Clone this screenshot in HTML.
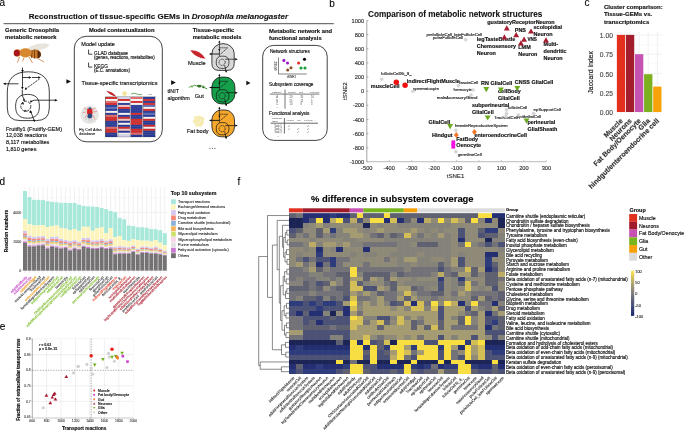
<!DOCTYPE html>
<html><head><meta charset="utf-8"><title>Figure</title>
<style>
html,body{margin:0;padding:0;background:#fff;}
body{width:685px;height:431px;overflow:hidden;}
svg{display:block;will-change:transform;font-family:"Liberation Sans", sans-serif;}
</style></head><body>
<svg width="685" height="431" viewBox="0 0 685 431">
<rect x="0" y="0" width="685" height="431" fill="#fff"/>
<text transform="translate(-0.40 5.60) scale(0.50000)" font-size="20.0" fill="#000" stroke="#000" stroke-width="0.180">a</text>
<text transform="translate(329.20 6.60) scale(0.50000)" font-size="20.0" fill="#000" stroke="#000" stroke-width="0.180">b</text>
<text x="28.8" y="18.7" font-size="8.03" font-weight="bold" fill="#111" stroke="#111" stroke-width="0.12">Reconstruction of tissue-specific GEMs in <tspan font-style="italic">Drosophila melanogaster</tspan></text>
<line x1="3.60" y1="23.70" x2="333.80" y2="23.70" stroke="#222" stroke-width="0.8"/>
<text transform="translate(5.10 32.20) scale(0.29250)" font-size="20.0" font-weight="bold" fill="#111" stroke="#111" stroke-width="0.513">Generic Drosophila</text>
<text transform="translate(5.10 38.80) scale(0.29250)" font-size="20.0" font-weight="bold" fill="#111" stroke="#111" stroke-width="0.513">metabolic network</text>
<g>
<ellipse cx="38.8" cy="47.0" rx="10.2" ry="2.7" transform="rotate(-11 38.8 47)" fill="#e9e4dc" stroke="#d6cfc4" stroke-width="0.3"/>
<path d="M17.5 62.5 L19.5 57 M29 57 L32.5 63 M37 58 L44 62 M24 57.5 L22.5 61.5" stroke="#c8762a" stroke-width="0.75" fill="none"/>
<ellipse cx="35.2" cy="54.0" rx="5.9" ry="4.4" fill="#c8782a"/>
<path d="M37.5 50 Q41.5 52 40.8 56 Q39.8 58.3 37.5 58.3 Z" fill="#5a2a10"/>
<path d="M32 50 L31.5 58 M34.5 49.6 L34.5 58.4" stroke="#6a3a12" stroke-width="0.8"/>
<ellipse cx="25.5" cy="52.8" rx="6.2" ry="4.6" fill="#d8882e"/>
<ellipse cx="17.3" cy="53.0" rx="3.6" ry="3.7" fill="#d8882e"/>
<ellipse cx="16.8" cy="53.0" rx="3.0" ry="3.2" fill="#a8161c"/>
</g>
<g fill="none" stroke="#111" stroke-width="0.8">
<path d="M7.3 92 L7.3 108 Q7.3 120.6 20 120.6 L36.5 120.6 Q49.3 120.6 49.3 108 L49.3 92 Q49.3 71.8 28.3 71.8 Q7.3 71.8 7.3 92 Z"/>
<path d="M27.6 94.4 C36 94.4 39.4 98.5 39.4 106.3 C39.4 114.5 35.5 118.2 27.6 118.2 C19.5 118.2 15.6 114.5 15.6 106.3 C15.6 98.5 19.5 94.4 27.6 94.4 Z"/>
<path d="M22.5 67.5 L22.5 88"/>
<path d="M22.5 77.5 L30.5 77.5 M32 77.5 L39.5 77.5"/>
<path d="M18.5 83.8 L4 83.8"/>
<path d="M39.5 79 L25.5 89" stroke-dasharray="2.2 0.8"/>
<path d="M22.3 89.5 L22.3 95.5 L24.3 100.2"/>
<path d="M31 101.5 L34 100.2 L56.5 100.2"/>
<path d="M34.5 121.5 L30.8 111.5"/>
<circle cx="25.8" cy="106.2" r="5.0" stroke-dasharray="3.2 1.0"/>
</g>
<g fill="#111">
<path d="M22.5 72.5 l-1.3 -2.6 l2.6 0 Z"/>
<path d="M31.5 77.5 l-2.6 -1.3 l0 2.6 Z"/>
<path d="M40.8 77.5 l-2.6 -1.3 l0 2.6 Z"/>
<path d="M3.0 83.8 l2.7 -1.3 l0 2.6 Z"/>
<path d="M24.8 90 l0.6 -2.7 l1.8 1.8 Z"/>
<path d="M22.4 89.5 l-1.3 -2.6 l2.6 0 Z"/>
<path d="M57.6 100.2 l-2.7 -1.3 l0 2.6 Z"/>
<path d="M24.8 101.2 l-2.2 -1.0 l1.9 -1.6 Z"/>
<path d="M29.9 102.6 l0.8 -2.5 l1.8 1.9 Z"/>
<path d="M21.4 103.0 l2.5 -0.6 l-0.5 2.6 Z"/>
<path d="M24.0 111.8 l1.0 -2.4 l1.6 2.0 Z"/>
<path d="M30.6 110.2 l-1.6 2.1 l2.6 0.4 Z"/>
<path d="M30.3 110.6 l-0.5 2.5 l2.4 -0.9 Z"/>
<path d="M34.8 121.8 l-2.1 -1.5 l2.4 -0.9 Z"/>
</g>
<text transform="translate(5.90 130.80) scale(0.27750)" font-size="20.0" fill="#111" stroke="#111" stroke-width="0.541">Fruitfly1 (Fruitfly-GEM)</text>
<text transform="translate(5.90 137.30) scale(0.27750)" font-size="20.0" fill="#111" stroke="#111" stroke-width="0.541">12,038 reactions</text>
<text transform="translate(5.90 143.90) scale(0.27750)" font-size="20.0" fill="#111" stroke="#111" stroke-width="0.541">8,117 metabolites</text>
<text transform="translate(5.90 150.50) scale(0.27750)" font-size="20.0" fill="#111" stroke="#111" stroke-width="0.541">1,810 genes</text>
<path d="M66.4 79.2 L71 81.5 L66.4 83.8 Z" fill="#111"/>
<text transform="translate(88.90 31.80) scale(0.28950)" font-size="20.0" font-weight="bold" fill="#111" stroke="#111" stroke-width="0.518">Model contextualization</text>
<rect x="74.3" y="36.3" width="88" height="105.5" rx="12" ry="12" fill="none" stroke="#111" stroke-width="0.8"/>
<text transform="translate(81.30 45.80) scale(0.27800)" font-size="20.0" fill="#111" stroke="#111" stroke-width="0.540">Model update</text>
<path d="M88.6 49.6 L88.6 54.2 L92.3 54.2" fill="none" stroke="#111" stroke-width="0.8"/>
<text transform="translate(94.10 54.80) scale(0.23750)" font-size="20.0" fill="#111" stroke="#111" stroke-width="0.632">GLAD database</text>
<text transform="translate(94.10 58.60) scale(0.22250)" font-size="20.0" fill="#111" stroke="#111" stroke-width="0.674">(genes, reactions, metabolites)</text>
<path d="M88.6 62.6 L88.6 67.1 L92.3 67.1" fill="none" stroke="#111" stroke-width="0.8"/>
<text transform="translate(94.10 67.50) scale(0.23750)" font-size="20.0" fill="#111" stroke="#111" stroke-width="0.632">KEGG</text>
<text transform="translate(94.10 71.60) scale(0.22250)" font-size="20.0" fill="#111" stroke="#111" stroke-width="0.674">(E.C. annotations)</text>
<text transform="translate(81.50 84.60) scale(0.28000)" font-size="20.0" fill="#111" stroke="#111" stroke-width="0.536">Tissue-specific transcriptomics</text>
<path d="M106.2 90.8 Q112.5 91.5 116.2 96.6 Q110 95.2 106.2 90.8 Z" fill="#c8202a"/>
<circle cx="124.6" cy="93.6" r="2.4" fill="#f4e39a"/>
<path d="M131 94 Q134 92.5 137 94 Q139 95 142 94.5" fill="none" stroke="#3a8a2a" stroke-width="0.7"/>
<text transform="translate(148.50 94.80) scale(0.20000)" font-size="20.0" fill="#333" stroke="#333" stroke-width="0.750">...</text>
<rect x="105.20" y="96.70" width="50.70" height="40.40" fill="#333"/>
<rect x="105.60" y="97.00" width="11.77" height="2.01" fill="#d22a2a"/>
<rect x="105.60" y="98.99" width="11.77" height="2.01" fill="#f6f2f2"/>
<rect x="105.60" y="100.98" width="11.77" height="2.01" fill="#e06868"/>
<rect x="105.60" y="102.97" width="11.77" height="2.01" fill="#d22a2a"/>
<rect x="105.60" y="104.96" width="11.77" height="2.01" fill="#283a98"/>
<rect x="105.60" y="106.95" width="11.77" height="2.01" fill="#5a6cb8"/>
<rect x="105.60" y="108.94" width="11.77" height="2.01" fill="#283a98"/>
<rect x="105.60" y="110.93" width="11.77" height="2.01" fill="#f6f2f2"/>
<rect x="105.60" y="112.92" width="11.77" height="2.01" fill="#283a98"/>
<rect x="105.60" y="114.91" width="11.77" height="2.01" fill="#e06868"/>
<rect x="105.60" y="116.90" width="11.77" height="2.01" fill="#d22a2a"/>
<rect x="105.60" y="118.89" width="11.77" height="2.01" fill="#d22a2a"/>
<rect x="105.60" y="120.88" width="11.77" height="2.01" fill="#283a98"/>
<rect x="105.60" y="122.87" width="11.77" height="2.01" fill="#283a98"/>
<rect x="105.60" y="124.86" width="11.77" height="2.01" fill="#283a98"/>
<rect x="105.60" y="126.85" width="11.77" height="2.01" fill="#e06868"/>
<rect x="105.60" y="128.84" width="11.77" height="2.01" fill="#d22a2a"/>
<rect x="105.60" y="130.83" width="11.77" height="2.01" fill="#d22a2a"/>
<rect x="105.60" y="132.82" width="11.77" height="2.01" fill="#283a98"/>
<rect x="105.60" y="134.81" width="11.77" height="2.01" fill="#283a98"/>
<rect x="117.38" y="97.00" width="0.70" height="39.80" fill="#ffffff"/>
<rect x="118.17" y="97.00" width="11.77" height="2.01" fill="#d0d4ec"/>
<rect x="118.17" y="98.99" width="11.77" height="2.01" fill="#d22a2a"/>
<rect x="118.17" y="100.98" width="11.77" height="2.01" fill="#f6f2f2"/>
<rect x="118.17" y="102.97" width="11.77" height="2.01" fill="#283a98"/>
<rect x="118.17" y="104.96" width="11.77" height="2.01" fill="#f0c4c4"/>
<rect x="118.17" y="106.95" width="11.77" height="2.01" fill="#d22a2a"/>
<rect x="118.17" y="108.94" width="11.77" height="2.01" fill="#283a98"/>
<rect x="118.17" y="110.93" width="11.77" height="2.01" fill="#283a98"/>
<rect x="118.17" y="112.92" width="11.77" height="2.01" fill="#f6f2f2"/>
<rect x="118.17" y="114.91" width="11.77" height="2.01" fill="#283a98"/>
<rect x="118.17" y="116.90" width="11.77" height="2.01" fill="#d22a2a"/>
<rect x="118.17" y="118.89" width="11.77" height="2.01" fill="#f0c4c4"/>
<rect x="118.17" y="120.88" width="11.77" height="2.01" fill="#283a98"/>
<rect x="118.17" y="122.87" width="11.77" height="2.01" fill="#f6f2f2"/>
<rect x="118.17" y="124.86" width="11.77" height="2.01" fill="#283a98"/>
<rect x="118.17" y="126.85" width="11.77" height="2.01" fill="#d22a2a"/>
<rect x="118.17" y="128.84" width="11.77" height="2.01" fill="#f0c4c4"/>
<rect x="118.17" y="130.83" width="11.77" height="2.01" fill="#283a98"/>
<rect x="118.17" y="132.82" width="11.77" height="2.01" fill="#f6f2f2"/>
<rect x="118.17" y="134.81" width="11.77" height="2.01" fill="#d0d4ec"/>
<rect x="129.95" y="97.00" width="0.70" height="39.80" fill="#ffffff"/>
<rect x="130.75" y="97.00" width="11.77" height="2.01" fill="#e06868"/>
<rect x="130.75" y="98.99" width="11.77" height="2.01" fill="#f6f2f2"/>
<rect x="130.75" y="100.98" width="11.77" height="2.01" fill="#d22a2a"/>
<rect x="130.75" y="102.97" width="11.77" height="2.01" fill="#f6f2f2"/>
<rect x="130.75" y="104.96" width="11.77" height="2.01" fill="#283a98"/>
<rect x="130.75" y="106.95" width="11.77" height="2.01" fill="#283a98"/>
<rect x="130.75" y="108.94" width="11.77" height="2.01" fill="#283a98"/>
<rect x="130.75" y="110.93" width="11.77" height="2.01" fill="#283a98"/>
<rect x="130.75" y="112.92" width="11.77" height="2.01" fill="#d22a2a"/>
<rect x="130.75" y="114.91" width="11.77" height="2.01" fill="#283a98"/>
<rect x="130.75" y="116.90" width="11.77" height="2.01" fill="#283a98"/>
<rect x="130.75" y="118.89" width="11.77" height="2.01" fill="#d22a2a"/>
<rect x="130.75" y="120.88" width="11.77" height="2.01" fill="#d22a2a"/>
<rect x="130.75" y="122.87" width="11.77" height="2.01" fill="#d22a2a"/>
<rect x="130.75" y="124.86" width="11.77" height="2.01" fill="#283a98"/>
<rect x="130.75" y="126.85" width="11.77" height="2.01" fill="#283a98"/>
<rect x="130.75" y="128.84" width="11.77" height="2.01" fill="#d22a2a"/>
<rect x="130.75" y="130.83" width="11.77" height="2.01" fill="#d22a2a"/>
<rect x="130.75" y="132.82" width="11.77" height="2.01" fill="#e06868"/>
<rect x="130.75" y="134.81" width="11.77" height="2.01" fill="#283a98"/>
<rect x="142.53" y="97.00" width="0.70" height="39.80" fill="#ffffff"/>
<rect x="143.32" y="97.00" width="11.77" height="2.01" fill="#283a98"/>
<rect x="143.32" y="98.99" width="11.77" height="2.01" fill="#d22a2a"/>
<rect x="143.32" y="100.98" width="11.77" height="2.01" fill="#283a98"/>
<rect x="143.32" y="102.97" width="11.77" height="2.01" fill="#d22a2a"/>
<rect x="143.32" y="104.96" width="11.77" height="2.01" fill="#5a6cb8"/>
<rect x="143.32" y="106.95" width="11.77" height="2.01" fill="#f6f2f2"/>
<rect x="143.32" y="108.94" width="11.77" height="2.01" fill="#d22a2a"/>
<rect x="143.32" y="110.93" width="11.77" height="2.01" fill="#283a98"/>
<rect x="143.32" y="112.92" width="11.77" height="2.01" fill="#5a6cb8"/>
<rect x="143.32" y="114.91" width="11.77" height="2.01" fill="#283a98"/>
<rect x="143.32" y="116.90" width="11.77" height="2.01" fill="#f6f2f2"/>
<rect x="143.32" y="118.89" width="11.77" height="2.01" fill="#d22a2a"/>
<rect x="143.32" y="120.88" width="11.77" height="2.01" fill="#283a98"/>
<rect x="143.32" y="122.87" width="11.77" height="2.01" fill="#283a98"/>
<rect x="143.32" y="124.86" width="11.77" height="2.01" fill="#d22a2a"/>
<rect x="143.32" y="126.85" width="11.77" height="2.01" fill="#f6f2f2"/>
<rect x="143.32" y="128.84" width="11.77" height="2.01" fill="#d22a2a"/>
<rect x="143.32" y="130.83" width="11.77" height="2.01" fill="#283a98"/>
<rect x="143.32" y="132.82" width="11.77" height="2.01" fill="#283a98"/>
<rect x="143.32" y="134.81" width="11.77" height="2.01" fill="#283a98"/>
<rect x="155.10" y="97.00" width="0.70" height="39.80" fill="#ffffff"/>
<rect x="105.50" y="98.84" width="50.30" height="0.30" fill="#ffffff" fill-opacity="0.35"/>
<rect x="105.50" y="100.83" width="50.30" height="0.30" fill="#ffffff" fill-opacity="0.35"/>
<rect x="105.50" y="102.82" width="50.30" height="0.30" fill="#ffffff" fill-opacity="0.35"/>
<rect x="105.50" y="104.81" width="50.30" height="0.30" fill="#ffffff" fill-opacity="0.35"/>
<rect x="105.50" y="106.80" width="50.30" height="0.30" fill="#ffffff" fill-opacity="0.35"/>
<rect x="105.50" y="108.79" width="50.30" height="0.30" fill="#ffffff" fill-opacity="0.35"/>
<rect x="105.50" y="110.78" width="50.30" height="0.30" fill="#ffffff" fill-opacity="0.35"/>
<rect x="105.50" y="112.77" width="50.30" height="0.30" fill="#ffffff" fill-opacity="0.35"/>
<rect x="105.50" y="114.76" width="50.30" height="0.30" fill="#ffffff" fill-opacity="0.35"/>
<rect x="105.50" y="116.75" width="50.30" height="0.30" fill="#ffffff" fill-opacity="0.35"/>
<rect x="105.50" y="118.74" width="50.30" height="0.30" fill="#ffffff" fill-opacity="0.35"/>
<rect x="105.50" y="120.73" width="50.30" height="0.30" fill="#ffffff" fill-opacity="0.35"/>
<rect x="105.50" y="122.72" width="50.30" height="0.30" fill="#ffffff" fill-opacity="0.35"/>
<rect x="105.50" y="124.71" width="50.30" height="0.30" fill="#ffffff" fill-opacity="0.35"/>
<rect x="105.50" y="126.70" width="50.30" height="0.30" fill="#ffffff" fill-opacity="0.35"/>
<rect x="105.50" y="128.69" width="50.30" height="0.30" fill="#ffffff" fill-opacity="0.35"/>
<rect x="105.50" y="130.68" width="50.30" height="0.30" fill="#ffffff" fill-opacity="0.35"/>
<rect x="105.50" y="132.67" width="50.30" height="0.30" fill="#ffffff" fill-opacity="0.35"/>
<rect x="105.50" y="134.66" width="50.30" height="0.30" fill="#ffffff" fill-opacity="0.35"/>
<circle cx="89.6" cy="114.7" r="9.2" fill="#e6e6e2"/>
<g>
<path d="M86.5 109.5 L84 108 M93 109.5 L95.5 108 M86.3 112 L82.5 112.5 M93 112 L97 111.5 M87 114.5 L85 118 M92.5 114.5 L95 119.5" stroke="#d84040" stroke-width="0.45" fill="none"/>
<path d="M88.5 116 L85.2 120.2 M90.8 116 L92 121.5 M88 117 L89.5 121.5" stroke="#9aa0b0" stroke-width="0.5" fill="none"/>
<path d="M87.2 108.6 L92.3 108.6 L92.6 114 L87 114 Z" fill="#d42424"/>
<ellipse cx="89.9" cy="116.0" rx="2.5" ry="2.4" fill="#2c4a80"/>
<ellipse cx="89.9" cy="108.3" rx="1.4" ry="1.0" fill="#2c5a90"/>
</g>
<text transform="translate(79.00 130.50) scale(0.19750)" font-size="20.0" fill="#111" stroke="#111" stroke-width="0.342">Fly Cell Atlas</text>
<text transform="translate(79.00 135.00) scale(0.19750)" font-size="20.0" fill="#111" stroke="#111" stroke-width="0.342">database</text>
<path d="M171.1 80.3 L175.8 82.6 L171.1 84.9 Z" fill="#111"/>
<text transform="translate(167.40 92.60) scale(0.26500)" font-size="20.0" fill="#111" stroke="#111" stroke-width="0.566">tINIT</text>
<text transform="translate(167.40 99.70) scale(0.27250)" font-size="20.0" fill="#111" stroke="#111" stroke-width="0.550">algorithm</text>
<text transform="translate(192.70 32.00) scale(0.28900)" font-size="20.0" font-weight="bold" fill="#111" stroke="#111" stroke-width="0.519">Tissue-specific</text>
<text transform="translate(192.70 38.90) scale(0.28900)" font-size="20.0" font-weight="bold" fill="#111" stroke="#111" stroke-width="0.519">metabolic models</text>
<path d="M211.9 53.6 A11.15 10 0 0 1 234.20000000000002 53.6 L234.20000000000002 63.400000000000006 Q234.20000000000002 70.4 227.20000000000002 70.4 L218.9 70.4 Q211.9 70.4 211.9 63.400000000000006 Z" fill="#d9d9d9" stroke="#111" stroke-width="0.8"/>
<g fill="none" stroke="#111" stroke-width="0.7">
<rect x="216.30" y="56.20" width="12.60" height="12.20" rx="5" ry="5"/>
<circle cx="222.10" cy="62.30" r="3.1" stroke-dasharray="1.6 0.6"/>
<path d="M219.40 41.10 L219.40 56.20"/>
<path d="M219.40 47.80 L227.70 47.80 L220.10 54.40" stroke-dasharray="1.5 0.5"/>
<path d="M209.70 54.00 L219.40 54.00" stroke-width="0.9"/>
<path d="M225.10 59.20 L236.40 59.20"/>
<path d="M224.70 65.10 L226.10 72.20"/>
</g>
<path d="M237.70 59.20 l-2.4 -1.2 l0 2.4 Z" fill="#111"/>
<path d="M219.40 40.40 l-1.1 2.2 l2.2 0 Z M219.40 51.20 l-1.1 -2.2 l2.2 0 Z M209.30 54.00 l2.2 -1.1 l0 2.2 Z M226.20 72.70 l-1.2 -2.1 l2.2 -0.2 Z" fill="#111"/>
<rect x="211.9" y="77.1" width="23.0" height="26.8" rx="9.5" ry="10" fill="#17a04c" stroke="#111" stroke-width="0.8"/>
<g fill="none" stroke="#111" stroke-width="0.7">
<rect x="216.30" y="89.70" width="12.60" height="12.20" rx="5" ry="5"/>
<circle cx="222.10" cy="95.80" r="3.1" stroke-dasharray="1.6 0.6"/>
<path d="M219.40 74.60 L219.40 89.70"/>
<path d="M219.40 81.30 L227.70 81.30 L220.10 87.90" stroke-dasharray="1.5 0.5"/>
<path d="M209.70 87.50 L219.40 87.50" stroke-width="0.9"/>
<path d="M225.10 92.70 L236.40 92.70"/>
<path d="M224.70 98.60 L226.10 105.70"/>
</g>
<path d="M237.70 92.70 l-2.4 -1.2 l0 2.4 Z" fill="#111"/>
<path d="M219.40 73.90 l-1.1 2.2 l2.2 0 Z M219.40 84.70 l-1.1 -2.2 l2.2 0 Z M209.30 87.50 l2.2 -1.1 l0 2.2 Z M226.20 106.20 l-1.2 -2.1 l2.2 -0.2 Z" fill="#111"/>
<rect x="211.9" y="110.0" width="22.6" height="26.8" rx="9.5" ry="10" fill="#f6a82c" stroke="#111" stroke-width="0.8"/>
<g fill="none" stroke="#111" stroke-width="0.7">
<rect x="216.30" y="122.60" width="12.60" height="12.20" rx="5" ry="5"/>
<circle cx="222.10" cy="128.70" r="3.1" stroke-dasharray="1.6 0.6"/>
<path d="M219.40 107.50 L219.40 122.60"/>
<path d="M219.40 114.20 L227.70 114.20 L220.10 120.80" stroke-dasharray="1.5 0.5"/>
<path d="M209.70 120.40 L219.40 120.40" stroke-width="0.9"/>
<path d="M225.10 125.60 L236.40 125.60"/>
<path d="M224.70 131.50 L226.10 138.60"/>
</g>
<path d="M237.70 125.60 l-2.4 -1.2 l0 2.4 Z" fill="#111"/>
<path d="M219.40 106.80 l-1.1 2.2 l2.2 0 Z M219.40 117.60 l-1.1 -2.2 l2.2 0 Z M209.30 120.40 l2.2 -1.1 l0 2.2 Z M226.20 139.10 l-1.2 -2.1 l2.2 -0.2 Z" fill="#111"/>
<path d="M190.4 50.4 Q199.5 49.8 205.6 58.8 Q195.5 57.8 190.4 50.4 Z" fill="#c8262c"/>
<text transform="translate(187.90 65.00) scale(0.28000)" font-size="20.0" fill="#111" stroke="#111" stroke-width="0.536">Muscle</text>
<path d="M189 87.8 Q190.5 85.2 192.5 86.2 Q194.5 84.3 196.5 85.8 Q198.5 84.6 200 85.6 Q201.5 84.8 203 86.6 Q205 88.5 207.3 88.8" fill="none" stroke="#3f8f2c" stroke-width="0.9"/>
<path d="M191 86.6 Q192 88 193.2 86.8 M203 86.5 Q204 85 205.2 86.8" fill="none" stroke="#3f8f2c" stroke-width="0.6"/>
<ellipse cx="199.3" cy="86.2" rx="1.9" ry="1.3" fill="#2f6a24"/><ellipse cx="203.3" cy="87.3" rx="1.1" ry="0.9" fill="#2f6a24"/>
<text transform="translate(194.70 97.50) scale(0.28000)" font-size="20.0" fill="#111" stroke="#111" stroke-width="0.536">Gut</text>
<g fill="#f8eeb0" stroke="#e8d890" stroke-width="0.3">
<circle cx="196" cy="118" r="1.8"/><circle cx="199.5" cy="117.5" r="1.8"/><circle cx="202.5" cy="119" r="1.8"/>
<circle cx="195" cy="121.5" r="1.8"/><circle cx="198.5" cy="121" r="1.8"/><circle cx="202" cy="122.5" r="1.8"/>
<circle cx="197" cy="124.8" r="1.8"/><circle cx="200.5" cy="124.8" r="1.8"/>
</g>
<text transform="translate(186.90 133.00) scale(0.27900)" font-size="20.0" fill="#111" stroke="#111" stroke-width="0.538">Fat body</text>
<g fill="#222"><circle cx="209.9" cy="148.2" r="0.55"/><circle cx="212.4" cy="148.2" r="0.55"/><circle cx="214.9" cy="148.2" r="0.55"/></g>
<path d="M246.3 80.8 L250.5 83 L246.3 85.2 Z" fill="#111"/>
<text transform="translate(269.10 32.80) scale(0.29250)" font-size="20.0" font-weight="bold" fill="#111" stroke="#111" stroke-width="0.513">Metabolic network and</text>
<text transform="translate(269.10 39.80) scale(0.29250)" font-size="20.0" font-weight="bold" fill="#111" stroke="#111" stroke-width="0.513">functional analysis</text>
<rect x="262.7" y="45.4" width="64.5" height="95.0" rx="11" ry="11" fill="none" stroke="#111" stroke-width="0.8"/>
<text transform="translate(269.90 53.40) scale(0.24000)" font-size="20.0" fill="#111" stroke="#111" stroke-width="0.625">Network structures</text>
<path d="M278.5 57.4 L278.5 74 L306.8 74" fill="none" stroke="#333" stroke-width="0.6"/>
<text transform="translate(276.60 66.00) rotate(-90) scale(0.16000)" font-size="20.0" text-anchor="middle" fill="#333" stroke="#333" stroke-width="0.422">tSNE2</text>
<text transform="translate(291.50 77.60) scale(0.16000)" font-size="20.0" text-anchor="middle" fill="#333" stroke="#333" stroke-width="0.422">tSNE1</text>
<circle cx="283.9" cy="60.4" r="1.55" fill="#9a1cc8"/>
<circle cx="287.5" cy="63.0" r="1.55" fill="#9a1cc8"/>
<circle cx="287.7" cy="70.0" r="1.55" fill="#8a5028"/>
<circle cx="291.0" cy="67.8" r="1.55" fill="#8a5028"/>
<circle cx="298.6" cy="63.0" r="1.55" fill="#e83020"/>
<circle cx="304.5" cy="59.3" r="1.55" fill="#000"/>
<circle cx="301.0" cy="68.0" r="1.55" fill="#18a038"/>
<circle cx="305.0" cy="68.0" r="1.55" fill="#18a038"/>
<text transform="translate(269.00 86.00) scale(0.23900)" font-size="20.0" fill="#111" stroke="#111" stroke-width="0.628">Subsystem coverage</text>
<text transform="translate(272.00 92.50) scale(0.12500)" font-size="20.0" fill="#444">Pathway</text>
<text transform="translate(288.00 92.50) scale(0.12500)" font-size="20.0" fill="#444">Muscle</text>
<text transform="translate(299.00 92.50) scale(0.12500)" font-size="20.0" fill="#444">Gut</text>
<text transform="translate(310.00 92.50) scale(0.12500)" font-size="20.0" fill="#444">Fat body</text>
<line x1="269.80" y1="94.10" x2="319.30" y2="94.10" stroke="#777" stroke-width="1.0"/>
<line x1="285.00" y1="89.50" x2="285.00" y2="108.60" stroke="#777" stroke-width="1.0"/>
<text transform="translate(276.30 98.40) scale(0.13000)" font-size="20.0" fill="#444">A</text>
<text transform="translate(289.60 98.40) scale(0.13000)" font-size="20.0" fill="#444">20</text>
<text transform="translate(300.40 98.40) scale(0.13000)" font-size="20.0" fill="#444">20</text>
<text transform="translate(311.00 98.40) scale(0.13000)" font-size="20.0" fill="#444">10</text>
<text transform="translate(276.30 101.70) scale(0.13000)" font-size="20.0" fill="#444">B</text>
<text transform="translate(289.60 101.70) scale(0.13000)" font-size="20.0" fill="#444">25</text>
<text transform="translate(300.40 101.70) scale(0.13000)" font-size="20.0" fill="#444">12</text>
<text transform="translate(311.00 101.70) scale(0.13000)" font-size="20.0" fill="#444">5</text>
<text transform="translate(276.30 105.00) scale(0.13000)" font-size="20.0" fill="#444">C</text>
<text transform="translate(289.60 105.00) scale(0.13000)" font-size="20.0" fill="#444">10</text>
<text transform="translate(300.40 105.00) scale(0.13000)" font-size="20.0" fill="#444">8</text>
<text transform="translate(311.00 105.00) scale(0.13000)" font-size="20.0" fill="#444">3</text>
<text transform="translate(276.30 108.00) scale(0.13000)" font-size="20.0" fill="#444">...</text>
<text transform="translate(269.00 114.70) scale(0.23750)" font-size="20.0" fill="#111" stroke="#111" stroke-width="0.632">Functional analysis</text>
<text transform="translate(272.00 118.60) scale(0.12000)" font-size="20.0" fill="#444">Metabolic</text>
<text transform="translate(272.00 121.60) scale(0.12000)" font-size="20.0" fill="#444">tasks</text>
<text transform="translate(286.50 120.80) scale(0.12000)" font-size="20.0" fill="#555">Muscle</text>
<text transform="translate(297.00 120.80) scale(0.12000)" font-size="20.0" fill="#555">Gut</text>
<text transform="translate(304.00 120.80) scale(0.12000)" font-size="20.0" fill="#555">Fat body</text>
<text transform="translate(314.50 120.80) scale(0.12000)" font-size="20.0" fill="#555">...</text>
<line x1="270.70" y1="123.20" x2="318.00" y2="123.20" stroke="#666" stroke-width="1.0"/>
<line x1="284.40" y1="118.10" x2="284.40" y2="133.50" stroke="#444" stroke-width="0.8"/>
<text transform="translate(274.20 126.60) scale(0.13000)" font-size="20.0" fill="#333">Task 1</text>
<text transform="translate(274.20 130.00) scale(0.13000)" font-size="20.0" fill="#333">Task 2</text>
<text transform="translate(274.20 133.40) scale(0.13000)" font-size="20.0" fill="#333">Task 3</text>
<text transform="translate(288.00 126.60) scale(0.15000)" font-size="20.0" fill="#222">✓</text>
<text transform="translate(306.50 126.60) scale(0.15000)" font-size="20.0" fill="#222">✓</text>
<text transform="translate(288.00 130.00) scale(0.15000)" font-size="20.0" fill="#222">✓</text>
<text transform="translate(297.00 130.00) scale(0.15000)" font-size="20.0" fill="#222">✓</text>
<text transform="translate(306.50 130.00) scale(0.15000)" font-size="20.0" fill="#222">✓</text>
<text transform="translate(297.00 133.40) scale(0.15000)" font-size="20.0" fill="#222">✓</text>
<text transform="translate(306.50 133.40) scale(0.15000)" font-size="20.0" fill="#222">✓</text>
<text transform="translate(277.00 137.00) scale(0.13000)" font-size="20.0" fill="#444">...</text>
<text transform="translate(368.10 17.00) scale(0.41000)" font-size="20.0" font-weight="bold" fill="#111" stroke="#111" stroke-width="0.220">Comparison of metabolic network structures</text>
<line x1="366.80" y1="20.50" x2="366.80" y2="162.00" stroke="#666" stroke-width="0.6"/>
<line x1="366.80" y1="20.50" x2="368.40" y2="20.50" stroke="#666" stroke-width="0.5"/>
<text transform="translate(364.20 22.50) scale(0.28500)" font-size="20.0" text-anchor="end" fill="#333" stroke="#333" stroke-width="0.526">1000</text>
<line x1="366.80" y1="34.65" x2="368.40" y2="34.65" stroke="#666" stroke-width="0.5"/>
<text transform="translate(364.20 36.65) scale(0.28500)" font-size="20.0" text-anchor="end" fill="#333" stroke="#333" stroke-width="0.526">800</text>
<line x1="366.80" y1="48.80" x2="368.40" y2="48.80" stroke="#666" stroke-width="0.5"/>
<text transform="translate(364.20 50.80) scale(0.28500)" font-size="20.0" text-anchor="end" fill="#333" stroke="#333" stroke-width="0.526">600</text>
<line x1="366.80" y1="62.95" x2="368.40" y2="62.95" stroke="#666" stroke-width="0.5"/>
<text transform="translate(364.20 64.95) scale(0.28500)" font-size="20.0" text-anchor="end" fill="#333" stroke="#333" stroke-width="0.526">400</text>
<line x1="366.80" y1="77.10" x2="368.40" y2="77.10" stroke="#666" stroke-width="0.5"/>
<text transform="translate(364.20 79.10) scale(0.28500)" font-size="20.0" text-anchor="end" fill="#333" stroke="#333" stroke-width="0.526">200</text>
<line x1="366.80" y1="91.25" x2="368.40" y2="91.25" stroke="#666" stroke-width="0.5"/>
<text transform="translate(364.20 93.25) scale(0.28500)" font-size="20.0" text-anchor="end" fill="#333" stroke="#333" stroke-width="0.526">0</text>
<line x1="366.80" y1="105.40" x2="368.40" y2="105.40" stroke="#666" stroke-width="0.5"/>
<text transform="translate(364.20 107.40) scale(0.28500)" font-size="20.0" text-anchor="end" fill="#333" stroke="#333" stroke-width="0.526">-200</text>
<line x1="366.80" y1="119.55" x2="368.40" y2="119.55" stroke="#666" stroke-width="0.5"/>
<text transform="translate(364.20 121.55) scale(0.28500)" font-size="20.0" text-anchor="end" fill="#333" stroke="#333" stroke-width="0.526">-400</text>
<line x1="366.80" y1="133.70" x2="368.40" y2="133.70" stroke="#666" stroke-width="0.5"/>
<text transform="translate(364.20 135.70) scale(0.28500)" font-size="20.0" text-anchor="end" fill="#333" stroke="#333" stroke-width="0.526">-600</text>
<line x1="366.80" y1="147.85" x2="368.40" y2="147.85" stroke="#666" stroke-width="0.5"/>
<text transform="translate(364.20 149.85) scale(0.28500)" font-size="20.0" text-anchor="end" fill="#333" stroke="#333" stroke-width="0.526">-800</text>
<line x1="366.80" y1="162.00" x2="368.40" y2="162.00" stroke="#666" stroke-width="0.5"/>
<text transform="translate(364.20 164.00) scale(0.28500)" font-size="20.0" text-anchor="end" fill="#333" stroke="#333" stroke-width="0.526">-1000</text>
<text transform="translate(347.30 91.20) rotate(-90) scale(0.30500)" font-size="20.0" text-anchor="middle" fill="#333" stroke="#333" stroke-width="0.492">tSNE2</text>
<line x1="366.80" y1="161.60" x2="546.40" y2="161.60" stroke="#c8c8c8" stroke-width="1.1"/>
<line x1="366.80" y1="160.00" x2="366.80" y2="161.30" stroke="#999" stroke-width="0.5"/>
<text transform="translate(366.80 169.80) scale(0.28500)" font-size="20.0" text-anchor="middle" fill="#333" stroke="#333" stroke-width="0.526">-500</text>
<line x1="389.25" y1="160.00" x2="389.25" y2="161.30" stroke="#999" stroke-width="0.5"/>
<text transform="translate(389.25 169.80) scale(0.28500)" font-size="20.0" text-anchor="middle" fill="#333" stroke="#333" stroke-width="0.526">-400</text>
<line x1="411.70" y1="160.00" x2="411.70" y2="161.30" stroke="#999" stroke-width="0.5"/>
<text transform="translate(411.70 169.80) scale(0.28500)" font-size="20.0" text-anchor="middle" fill="#333" stroke="#333" stroke-width="0.526">-300</text>
<line x1="434.15" y1="160.00" x2="434.15" y2="161.30" stroke="#999" stroke-width="0.5"/>
<text transform="translate(434.15 169.80) scale(0.28500)" font-size="20.0" text-anchor="middle" fill="#333" stroke="#333" stroke-width="0.526">-200</text>
<line x1="456.60" y1="160.00" x2="456.60" y2="161.30" stroke="#999" stroke-width="0.5"/>
<text transform="translate(456.60 169.80) scale(0.28500)" font-size="20.0" text-anchor="middle" fill="#333" stroke="#333" stroke-width="0.526">-100</text>
<line x1="479.05" y1="160.00" x2="479.05" y2="161.30" stroke="#999" stroke-width="0.5"/>
<text transform="translate(479.05 169.80) scale(0.28500)" font-size="20.0" text-anchor="middle" fill="#333" stroke="#333" stroke-width="0.526">0</text>
<line x1="501.50" y1="160.00" x2="501.50" y2="161.30" stroke="#999" stroke-width="0.5"/>
<text transform="translate(501.50 169.80) scale(0.28500)" font-size="20.0" text-anchor="middle" fill="#333" stroke="#333" stroke-width="0.526">100</text>
<line x1="523.95" y1="160.00" x2="523.95" y2="161.30" stroke="#999" stroke-width="0.5"/>
<text transform="translate(523.95 169.80) scale(0.28500)" font-size="20.0" text-anchor="middle" fill="#333" stroke="#333" stroke-width="0.526">200</text>
<line x1="546.40" y1="160.00" x2="546.40" y2="161.30" stroke="#999" stroke-width="0.5"/>
<text transform="translate(546.40 169.80) scale(0.28500)" font-size="20.0" text-anchor="middle" fill="#333" stroke="#333" stroke-width="0.526">300</text>
<text transform="translate(455.50 177.60) scale(0.30500)" font-size="20.0" text-anchor="middle" fill="#333" stroke="#333" stroke-width="0.492">tSNE1</text>
<text transform="translate(426.40 35.50) scale(0.21500)" font-size="20.0" fill="#222" stroke="#222" stroke-width="0.698">prefollicleCell_lateFollicleCell</text>
<text transform="translate(432.70 38.60) scale(0.21500)" font-size="20.0" fill="#222" stroke="#222" stroke-width="0.698">polarFollicleCell</text>
<text transform="translate(381.00 75.00) scale(0.21500)" font-size="20.0" fill="#222" stroke="#222" stroke-width="0.698">follicleCellSt_9_</text>
<text transform="translate(413.00 90.00) scale(0.21500)" font-size="20.0" fill="#222" stroke="#222" stroke-width="0.698">spermatocyte</text>
<text transform="translate(459.30 84.00) scale(0.21500)" font-size="20.0" fill="#222" stroke="#222" stroke-width="0.698">fasciaCell</text>
<text transform="translate(453.60 91.00) scale(0.21500)" font-size="20.0" fill="#222" stroke="#222" stroke-width="0.698">hemocyte</text>
<text transform="translate(436.80 99.30) scale(0.21500)" font-size="20.0" fill="#222" stroke="#222" stroke-width="0.698">maleAccessoryGland</text>
<text transform="translate(507.90 109.40) scale(0.21500)" font-size="20.0" fill="#222" stroke="#222" stroke-width="0.698">follicleCell</text>
<text transform="translate(533.60 111.30) scale(0.21500)" font-size="20.0" fill="#222" stroke="#222" stroke-width="0.698">epSupportCell</text>
<text transform="translate(494.00 118.50) scale(0.21500)" font-size="20.0" fill="#222" stroke="#222" stroke-width="0.698">TrachealCell</text>
<text transform="translate(516.90 117.80) scale(0.21500)" font-size="20.0" fill="#222" stroke="#222" stroke-width="0.698">epithelialCell</text>
<text transform="translate(455.00 126.70) scale(0.21500)" font-size="20.0" fill="#222" stroke="#222" stroke-width="0.698">femaleReproductiveSystem</text>
<text transform="translate(457.70 156.00) scale(0.21500)" font-size="20.0" fill="#222" stroke="#222" stroke-width="0.698">germlineCell</text>
<text transform="translate(487.30 24.00) scale(0.27250)" font-size="20.0" font-weight="bold" fill="#111" stroke="#111" stroke-width="0.550">gustatoryReceptorNeuron</text>
<text transform="translate(476.80 40.90) scale(0.27250)" font-size="20.0" font-weight="bold" fill="#111" stroke="#111" stroke-width="0.550">legTasteBristle</text>
<text transform="translate(476.80 48.30) scale(0.27250)" font-size="20.0" font-weight="bold" fill="#111" stroke="#111" stroke-width="0.550">Chemosensory</text>
<text transform="translate(476.80 55.30) scale(0.27250)" font-size="20.0" font-weight="bold" fill="#111" stroke="#111" stroke-width="0.550">Neuron</text>
<text transform="translate(514.80 31.60) scale(0.27250)" font-size="20.0" font-weight="bold" fill="#111" stroke="#111" stroke-width="0.550">PNS</text>
<text transform="translate(533.60 28.50) scale(0.27250)" font-size="20.0" font-weight="bold" fill="#111" stroke="#111" stroke-width="0.550">scolopidial</text>
<text transform="translate(533.60 35.80) scale(0.27250)" font-size="20.0" font-weight="bold" fill="#111" stroke="#111" stroke-width="0.550">Neuron</text>
<text transform="translate(518.30 48.70) scale(0.27250)" font-size="20.0" font-weight="bold" fill="#111" stroke="#111" stroke-width="0.550">LMM</text>
<text transform="translate(518.30 56.20) scale(0.27250)" font-size="20.0" font-weight="bold" fill="#111" stroke="#111" stroke-width="0.550">Neuron</text>
<text transform="translate(543.60 45.50) scale(0.27250)" font-size="20.0" font-weight="bold" fill="#111" stroke="#111" stroke-width="0.550">Multi-</text>
<text transform="translate(543.60 52.90) scale(0.27250)" font-size="20.0" font-weight="bold" fill="#111" stroke="#111" stroke-width="0.550">dendritic</text>
<text transform="translate(543.60 60.10) scale(0.27250)" font-size="20.0" font-weight="bold" fill="#111" stroke="#111" stroke-width="0.550">Neuron</text>
<text transform="translate(370.80 87.80) scale(0.27250)" font-size="20.0" font-weight="bold" fill="#111" stroke="#111" stroke-width="0.550">muscleCell</text>
<text transform="translate(406.80 82.60) scale(0.27250)" font-size="20.0" font-weight="bold" fill="#111" stroke="#111" stroke-width="0.550">indirectFlightMuscle</text>
<text transform="translate(481.10 85.10) scale(0.27250)" font-size="20.0" font-weight="bold" fill="#111" stroke="#111" stroke-width="0.550">RN GlialCell</text>
<text transform="translate(514.80 84.40) scale(0.27250)" font-size="20.0" font-weight="bold" fill="#111" stroke="#111" stroke-width="0.550">CNSS GlialCell</text>
<text transform="translate(498.10 93.40) scale(0.27250)" font-size="20.0" font-weight="bold" fill="#111" stroke="#111" stroke-width="0.550">cellBody</text>
<text transform="translate(498.10 100.40) scale(0.27250)" font-size="20.0" font-weight="bold" fill="#111" stroke="#111" stroke-width="0.550">GlialCell</text>
<text transform="translate(471.90 106.90) scale(0.27250)" font-size="20.0" font-weight="bold" fill="#111" stroke="#111" stroke-width="0.550">subperineurial</text>
<text transform="translate(471.90 114.30) scale(0.27250)" font-size="20.0" font-weight="bold" fill="#111" stroke="#111" stroke-width="0.550">GlialCell</text>
<text transform="translate(527.40 124.10) scale(0.27250)" font-size="20.0" font-weight="bold" fill="#111" stroke="#111" stroke-width="0.550">perineurial</text>
<text transform="translate(527.40 131.40) scale(0.27250)" font-size="20.0" font-weight="bold" fill="#111" stroke="#111" stroke-width="0.550">GlialSheath</text>
<text transform="translate(428.50 123.50) scale(0.27250)" font-size="20.0" font-weight="bold" fill="#111" stroke="#111" stroke-width="0.550">GlialCell</text>
<text transform="translate(432.00 136.50) scale(0.27250)" font-size="20.0" font-weight="bold" fill="#111" stroke="#111" stroke-width="0.550">Hindgut</text>
<text transform="translate(474.40 137.20) scale(0.27250)" font-size="20.0" font-weight="bold" fill="#111" stroke="#111" stroke-width="0.550">enteroendocrineCell</text>
<text transform="translate(456.30 141.30) scale(0.27250)" font-size="20.0" font-weight="bold" fill="#111" stroke="#111" stroke-width="0.550">FatBody</text>
<text transform="translate(456.30 147.30) scale(0.27250)" font-size="20.0" font-weight="bold" fill="#111" stroke="#111" stroke-width="0.550">Oenocyte</text>
<text transform="translate(527.40 40.90) scale(0.23000)" font-size="20.0" font-weight="bold" fill="#111" stroke="#111" stroke-width="0.652">VNS</text>
<polygon points="468.10,39.70 467.12,40.25 467.43,41.33 466.35,41.02 465.80,42.00 465.25,41.02 464.17,41.33 464.48,40.25 463.50,39.70 464.48,39.15 464.17,38.07 465.25,38.38 465.80,37.40 466.35,38.38 467.43,38.07 467.12,39.15" fill="#d4d4d4"/>
<polygon points="384.00,79.20 383.02,79.75 383.33,80.83 382.25,80.52 381.70,81.50 381.15,80.52 380.07,80.83 380.38,79.75 379.40,79.20 380.38,78.65 380.07,77.57 381.15,77.88 381.70,76.90 382.25,77.88 383.33,77.57 383.02,78.65" fill="#d4d4d4"/>
<polygon points="415.30,91.30 414.32,91.85 414.63,92.93 413.55,92.62 413.00,93.60 412.45,92.62 411.37,92.93 411.68,91.85 410.70,91.30 411.68,90.75 411.37,89.67 412.45,89.98 413.00,89.00 413.55,89.98 414.63,89.67 414.32,90.75" fill="#d4d4d4"/>
<polygon points="460.70,85.80 459.72,86.35 460.03,87.43 458.95,87.12 458.40,88.10 457.85,87.12 456.77,87.43 457.08,86.35 456.10,85.80 457.08,85.25 456.77,84.17 457.85,84.48 458.40,83.50 458.95,84.48 460.03,84.17 459.72,85.25" fill="#d4d4d4"/>
<polygon points="475.30,90.00 474.32,90.55 474.63,91.63 473.55,91.32 473.00,92.30 472.45,91.32 471.37,91.63 471.68,90.55 470.70,90.00 471.68,89.45 471.37,88.37 472.45,88.68 473.00,87.70 473.55,88.68 474.63,88.37 474.32,89.45" fill="#d4d4d4"/>
<polygon points="473.30,95.10 472.32,95.65 472.63,96.73 471.55,96.42 471.00,97.40 470.45,96.42 469.37,96.73 469.68,95.65 468.70,95.10 469.68,94.55 469.37,93.47 470.45,93.78 471.00,92.80 471.55,93.78 472.63,93.47 472.32,94.55" fill="#d4d4d4"/>
<polygon points="508.80,110.00 507.82,110.55 508.13,111.63 507.05,111.32 506.50,112.30 505.95,111.32 504.87,111.63 505.18,110.55 504.20,110.00 505.18,109.45 504.87,108.37 505.95,108.68 506.50,107.70 507.05,108.68 508.13,108.37 507.82,109.45" fill="#d4d4d4"/>
<polygon points="508.80,113.60 507.82,114.15 508.13,115.23 507.05,114.92 506.50,115.90 505.95,114.92 504.87,115.23 505.18,114.15 504.20,113.60 505.18,113.05 504.87,111.97 505.95,112.28 506.50,111.30 507.05,112.28 508.13,111.97 507.82,113.05" fill="#d4d4d4"/>
<polygon points="535.90,113.60 534.92,114.15 535.23,115.23 534.15,114.92 533.60,115.90 533.05,114.92 531.97,115.23 532.28,114.15 531.30,113.60 532.28,113.05 531.97,111.97 533.05,112.28 533.60,111.30 534.15,112.28 535.23,111.97 534.92,113.05" fill="#d4d4d4"/>
<polygon points="520.60,115.00 519.62,115.55 519.93,116.63 518.85,116.32 518.30,117.30 517.75,116.32 516.67,116.63 516.98,115.55 516.00,115.00 516.98,114.45 516.67,113.37 517.75,113.68 518.30,112.70 518.85,113.68 519.93,113.37 519.62,114.45" fill="#d4d4d4"/>
<polygon points="458.20,130.20 457.22,130.75 457.53,131.83 456.45,131.52 455.90,132.50 455.35,131.52 454.27,131.83 454.58,130.75 453.60,130.20 454.58,129.65 454.27,128.57 455.35,128.88 455.90,127.90 456.45,128.88 457.53,128.57 457.22,129.65" fill="#d4d4d4"/>
<polygon points="458.20,151.80 457.22,152.35 457.53,153.43 456.45,153.12 455.90,154.10 455.35,153.12 454.27,153.43 454.58,152.35 453.60,151.80 454.58,151.25 454.27,150.17 455.35,150.48 455.90,149.50 456.45,150.48 457.53,150.17 457.22,151.25" fill="#d4d4d4"/>
<polygon points="508.30,116.50 507.32,117.05 507.63,118.13 506.55,117.82 506.00,118.80 505.45,117.82 504.37,118.13 504.68,117.05 503.70,116.50 504.68,115.95 504.37,114.87 505.45,115.18 506.00,114.20 506.55,115.18 507.63,114.87 507.32,115.95" fill="#d4d4d4"/>
<path d="M506.80 25.32 L509.75 30.45 L503.85 30.45 Z" fill="#a51c30"/>
<path d="M504.40 34.32 L507.35 39.45 L501.45 39.45 Z" fill="#a51c30"/>
<path d="M516.20 32.02 L519.15 37.15 L513.25 37.15 Z" fill="#a51c30"/>
<path d="M531.00 28.42 L533.95 33.55 L528.05 33.55 Z" fill="#a51c30"/>
<path d="M524.10 36.62 L527.05 41.75 L521.15 41.75 Z" fill="#a51c30"/>
<path d="M520.90 40.32 L523.85 45.45 L517.95 45.45 Z" fill="#a51c30"/>
<path d="M546.00 37.32 L548.95 42.45 L543.05 42.45 Z" fill="#a51c30"/>
<circle cx="396.3" cy="82.3" r="2.75" fill="#f01010"/>
<circle cx="405.1" cy="85.3" r="2.75" fill="#f01010"/>
<path d="M486.30 92.18 L489.25 87.05 L483.35 87.05 Z" fill="#6aaa1e"/>
<path d="M500.90 92.68 L503.85 87.55 L497.95 87.55 Z" fill="#6aaa1e"/>
<path d="M517.30 91.08 L520.25 85.95 L514.35 85.95 Z" fill="#6aaa1e"/>
<path d="M487.70 120.58 L490.65 115.45 L484.75 115.45 Z" fill="#6aaa1e"/>
<path d="M450.10 129.18 L453.05 124.05 L447.15 124.05 Z" fill="#6aaa1e"/>
<path d="M526.50 123.68 L529.45 118.55 L523.55 118.55 Z" fill="#6aaa1e"/>
<path d="M456.30 132.10 L458.70 135.10 L456.30 138.10 L453.90 135.10 Z" fill="#f07828"/>
<path d="M474.40 129.00 L476.80 132.00 L474.40 135.00 L472.00 132.00 Z" fill="#f07828"/>
<rect x="451.40" y="140.40" width="3.80" height="4.60" fill="#f010e0"/>
<rect x="451.40" y="144.00" width="3.80" height="4.60" fill="#f010e0"/>
<text transform="translate(584.40 5.70) scale(0.50000)" font-size="20.0" fill="#000" stroke="#000" stroke-width="0.180">c</text>
<text transform="translate(603.90 8.80) scale(0.30250)" font-size="20.0" font-weight="bold" fill="#111" stroke="#111" stroke-width="0.496">Cluster comparison:</text>
<text transform="translate(603.90 16.20) scale(0.30250)" font-size="20.0" font-weight="bold" fill="#111" stroke="#111" stroke-width="0.496">Tissue-GEMs vs.</text>
<text transform="translate(603.90 23.50) scale(0.30250)" font-size="20.0" font-weight="bold" fill="#111" stroke="#111" stroke-width="0.496">transcriptomics</text>
<line x1="616.30" y1="102.36" x2="662.20" y2="102.36" stroke="#f3f3f3" stroke-width="0.45"/>
<line x1="616.30" y1="83.09" x2="662.20" y2="83.09" stroke="#f3f3f3" stroke-width="0.45"/>
<line x1="616.30" y1="63.81" x2="662.20" y2="63.81" stroke="#f3f3f3" stroke-width="0.45"/>
<line x1="616.30" y1="44.54" x2="662.20" y2="44.54" stroke="#f3f3f3" stroke-width="0.45"/>
<line x1="616.30" y1="112.00" x2="662.20" y2="112.00" stroke="#ebebeb" stroke-width="0.7"/>
<line x1="616.30" y1="92.72" x2="662.20" y2="92.72" stroke="#ebebeb" stroke-width="0.7"/>
<line x1="616.30" y1="73.45" x2="662.20" y2="73.45" stroke="#ebebeb" stroke-width="0.7"/>
<line x1="616.30" y1="54.18" x2="662.20" y2="54.18" stroke="#ebebeb" stroke-width="0.7"/>
<line x1="616.30" y1="34.90" x2="662.20" y2="34.90" stroke="#ebebeb" stroke-width="0.7"/>
<line x1="621.00" y1="31.82" x2="621.00" y2="114.31" stroke="#ebebeb" stroke-width="0.7"/>
<line x1="630.08" y1="31.82" x2="630.08" y2="114.31" stroke="#ebebeb" stroke-width="0.7"/>
<line x1="639.16" y1="31.82" x2="639.16" y2="114.31" stroke="#ebebeb" stroke-width="0.7"/>
<line x1="648.24" y1="31.82" x2="648.24" y2="114.31" stroke="#ebebeb" stroke-width="0.7"/>
<line x1="657.32" y1="31.82" x2="657.32" y2="114.31" stroke="#ebebeb" stroke-width="0.7"/>
<rect x="616.85" y="34.90" width="8.30" height="77.10" fill="#e3301e"/>
<rect x="625.93" y="34.90" width="8.30" height="77.10" fill="#a41d2c"/>
<rect x="635.01" y="54.18" width="8.30" height="57.82" fill="#c653b2"/>
<rect x="644.09" y="74.22" width="8.30" height="37.78" fill="#7bb11f"/>
<rect x="653.17" y="86.56" width="8.30" height="25.44" fill="#f8a20a"/>
<text transform="translate(612.90 38.15) scale(0.33500)" font-size="20.0" text-anchor="end" fill="#4d4d4d" stroke="#4d4d4d" stroke-width="0.448">1.00</text>
<text transform="translate(612.90 57.43) scale(0.33500)" font-size="20.0" text-anchor="end" fill="#4d4d4d" stroke="#4d4d4d" stroke-width="0.448">0.75</text>
<text transform="translate(612.90 76.70) scale(0.33500)" font-size="20.0" text-anchor="end" fill="#4d4d4d" stroke="#4d4d4d" stroke-width="0.448">0.50</text>
<text transform="translate(612.90 95.97) scale(0.33500)" font-size="20.0" text-anchor="end" fill="#4d4d4d" stroke="#4d4d4d" stroke-width="0.448">0.25</text>
<text transform="translate(612.90 115.25) scale(0.33500)" font-size="20.0" text-anchor="end" fill="#4d4d4d" stroke="#4d4d4d" stroke-width="0.448">0.00</text>
<text transform="translate(592.60 72.40) rotate(-90) scale(0.34500)" font-size="20.0" text-anchor="middle" fill="#1a1a1a" stroke="#1a1a1a" stroke-width="0.435">Jaccard index</text>
<text transform="translate(623.20 121.30) rotate(-45) scale(0.35000)" font-size="20.0" font-weight="bold" text-anchor="end" fill="#333" stroke="#333" stroke-width="0.429">Muscle</text>
<text transform="translate(632.28 121.30) rotate(-45) scale(0.35000)" font-size="20.0" font-weight="bold" text-anchor="end" fill="#333" stroke="#333" stroke-width="0.429">Neurons</text>
<text transform="translate(641.36 121.30) rotate(-45) scale(0.35000)" font-size="20.0" font-weight="bold" text-anchor="end" fill="#333" stroke="#333" stroke-width="0.429">Fat Body/Oenocyte</text>
<text transform="translate(650.44 121.30) rotate(-45) scale(0.35000)" font-size="20.0" font-weight="bold" text-anchor="end" fill="#333" stroke="#333" stroke-width="0.429">Glia</text>
<text transform="translate(659.52 121.30) rotate(-45) scale(0.35000)" font-size="20.0" font-weight="bold" text-anchor="end" fill="#333" stroke="#333" stroke-width="0.429">hindgut/enteroendocrine cell</text>
<text transform="translate(-0.40 184.60) scale(0.50000)" font-size="20.0" fill="#000" stroke="#000" stroke-width="0.180">d</text>
<line x1="21.80" y1="256.05" x2="168.00" y2="256.05" stroke="#f4f4f4" stroke-width="0.5"/>
<line x1="21.80" y1="226.95" x2="168.00" y2="226.95" stroke="#f4f4f4" stroke-width="0.5"/>
<line x1="21.80" y1="197.85" x2="168.00" y2="197.85" stroke="#f4f4f4" stroke-width="0.5"/>
<line x1="21.80" y1="270.60" x2="168.00" y2="270.60" stroke="#ececec" stroke-width="0.8"/>
<line x1="21.80" y1="241.50" x2="168.00" y2="241.50" stroke="#ececec" stroke-width="0.8"/>
<line x1="21.80" y1="212.40" x2="168.00" y2="212.40" stroke="#ececec" stroke-width="0.8"/>
<line x1="24.98" y1="187.00" x2="24.98" y2="273.00" stroke="#ececec" stroke-width="0.8"/>
<line x1="29.48" y1="187.00" x2="29.48" y2="273.00" stroke="#ececec" stroke-width="0.8"/>
<line x1="33.99" y1="187.00" x2="33.99" y2="273.00" stroke="#ececec" stroke-width="0.8"/>
<line x1="38.51" y1="187.00" x2="38.51" y2="273.00" stroke="#ececec" stroke-width="0.8"/>
<line x1="43.02" y1="187.00" x2="43.02" y2="273.00" stroke="#ececec" stroke-width="0.8"/>
<line x1="47.52" y1="187.00" x2="47.52" y2="273.00" stroke="#ececec" stroke-width="0.8"/>
<line x1="52.04" y1="187.00" x2="52.04" y2="273.00" stroke="#ececec" stroke-width="0.8"/>
<line x1="56.55" y1="187.00" x2="56.55" y2="273.00" stroke="#ececec" stroke-width="0.8"/>
<line x1="61.05" y1="187.00" x2="61.05" y2="273.00" stroke="#ececec" stroke-width="0.8"/>
<line x1="65.56" y1="187.00" x2="65.56" y2="273.00" stroke="#ececec" stroke-width="0.8"/>
<line x1="70.07" y1="187.00" x2="70.07" y2="273.00" stroke="#ececec" stroke-width="0.8"/>
<line x1="74.58" y1="187.00" x2="74.58" y2="273.00" stroke="#ececec" stroke-width="0.8"/>
<line x1="79.09" y1="187.00" x2="79.09" y2="273.00" stroke="#ececec" stroke-width="0.8"/>
<line x1="83.60" y1="187.00" x2="83.60" y2="273.00" stroke="#ececec" stroke-width="0.8"/>
<line x1="88.11" y1="187.00" x2="88.11" y2="273.00" stroke="#ececec" stroke-width="0.8"/>
<line x1="92.62" y1="187.00" x2="92.62" y2="273.00" stroke="#ececec" stroke-width="0.8"/>
<line x1="97.13" y1="187.00" x2="97.13" y2="273.00" stroke="#ececec" stroke-width="0.8"/>
<line x1="101.64" y1="187.00" x2="101.64" y2="273.00" stroke="#ececec" stroke-width="0.8"/>
<line x1="106.15" y1="187.00" x2="106.15" y2="273.00" stroke="#ececec" stroke-width="0.8"/>
<line x1="110.66" y1="187.00" x2="110.66" y2="273.00" stroke="#ececec" stroke-width="0.8"/>
<line x1="115.17" y1="187.00" x2="115.17" y2="273.00" stroke="#ececec" stroke-width="0.8"/>
<line x1="119.68" y1="187.00" x2="119.68" y2="273.00" stroke="#ececec" stroke-width="0.8"/>
<line x1="124.19" y1="187.00" x2="124.19" y2="273.00" stroke="#ececec" stroke-width="0.8"/>
<line x1="128.70" y1="187.00" x2="128.70" y2="273.00" stroke="#ececec" stroke-width="0.8"/>
<line x1="133.22" y1="187.00" x2="133.22" y2="273.00" stroke="#ececec" stroke-width="0.8"/>
<line x1="137.72" y1="187.00" x2="137.72" y2="273.00" stroke="#ececec" stroke-width="0.8"/>
<line x1="142.23" y1="187.00" x2="142.23" y2="273.00" stroke="#ececec" stroke-width="0.8"/>
<line x1="146.74" y1="187.00" x2="146.74" y2="273.00" stroke="#ececec" stroke-width="0.8"/>
<line x1="151.25" y1="187.00" x2="151.25" y2="273.00" stroke="#ececec" stroke-width="0.8"/>
<line x1="155.76" y1="187.00" x2="155.76" y2="273.00" stroke="#ececec" stroke-width="0.8"/>
<line x1="160.27" y1="187.00" x2="160.27" y2="273.00" stroke="#ececec" stroke-width="0.8"/>
<line x1="164.78" y1="187.00" x2="164.78" y2="273.00" stroke="#ececec" stroke-width="0.8"/>
<defs><pattern id="oth" patternUnits="userSpaceOnUse" width="4" height="1.9"><rect width="4" height="1.9" fill="#6e6c6c"/><rect y="1.4" width="4" height="0.4" fill="#8a8888"/></pattern></defs>
<rect x="23.00" y="191.00" width="3.95" height="28.10" fill="#a8e8da"/>
<rect x="23.00" y="219.10" width="3.95" height="11.80" fill="#fdf4bc"/>
<rect x="23.00" y="230.90" width="3.95" height="2.66" fill="#d4c8f0"/>
<rect x="23.00" y="233.54" width="3.95" height="2.18" fill="#f58878"/>
<rect x="23.00" y="235.70" width="3.95" height="1.22" fill="#88b2dc"/>
<rect x="23.00" y="236.90" width="3.95" height="1.22" fill="#f8b45c"/>
<rect x="23.00" y="238.10" width="3.95" height="1.22" fill="#cce070"/>
<rect x="23.00" y="239.30" width="3.95" height="1.46" fill="#f8d4e6"/>
<rect x="23.00" y="240.74" width="3.95" height="0.86" fill="#e2e2e2"/>
<rect x="23.00" y="241.58" width="3.95" height="1.34" fill="#c878d0"/>
<rect x="23.00" y="242.90" width="3.95" height="27.70" fill="url(#oth)"/>
<rect x="27.51" y="197.00" width="3.95" height="27.30" fill="#a8e8da"/>
<rect x="27.51" y="224.30" width="3.95" height="11.30" fill="#fdf4bc"/>
<rect x="27.51" y="235.60" width="3.95" height="2.42" fill="#d4c8f0"/>
<rect x="27.51" y="238.00" width="3.95" height="1.98" fill="#f58878"/>
<rect x="27.51" y="239.96" width="3.95" height="1.11" fill="#88b2dc"/>
<rect x="27.51" y="241.05" width="3.95" height="1.11" fill="#f8b45c"/>
<rect x="27.51" y="242.14" width="3.95" height="1.11" fill="#cce070"/>
<rect x="27.51" y="243.23" width="3.95" height="1.33" fill="#f8d4e6"/>
<rect x="27.51" y="244.54" width="3.95" height="0.78" fill="#e2e2e2"/>
<rect x="27.51" y="245.30" width="3.95" height="1.22" fill="#c878d0"/>
<rect x="27.51" y="246.50" width="3.95" height="24.10" fill="url(#oth)"/>
<rect x="32.02" y="199.80" width="3.95" height="25.60" fill="#a8e8da"/>
<rect x="32.02" y="225.40" width="3.95" height="11.50" fill="#fdf4bc"/>
<rect x="32.02" y="236.90" width="3.95" height="2.13" fill="#d4c8f0"/>
<rect x="32.02" y="239.01" width="3.95" height="1.75" fill="#f58878"/>
<rect x="32.02" y="240.74" width="3.95" height="0.98" fill="#88b2dc"/>
<rect x="32.02" y="241.70" width="3.95" height="0.98" fill="#f8b45c"/>
<rect x="32.02" y="242.66" width="3.95" height="0.98" fill="#cce070"/>
<rect x="32.02" y="243.62" width="3.95" height="1.17" fill="#f8d4e6"/>
<rect x="32.02" y="244.77" width="3.95" height="0.69" fill="#e2e2e2"/>
<rect x="32.02" y="245.44" width="3.95" height="1.08" fill="#c878d0"/>
<rect x="32.02" y="246.50" width="3.95" height="24.10" fill="url(#oth)"/>
<rect x="36.53" y="199.80" width="3.95" height="25.60" fill="#a8e8da"/>
<rect x="36.53" y="225.40" width="3.95" height="11.00" fill="#fdf4bc"/>
<rect x="36.53" y="236.40" width="3.95" height="2.07" fill="#d4c8f0"/>
<rect x="36.53" y="238.45" width="3.95" height="1.69" fill="#f58878"/>
<rect x="36.53" y="240.12" width="3.95" height="0.95" fill="#88b2dc"/>
<rect x="36.53" y="241.05" width="3.95" height="0.95" fill="#f8b45c"/>
<rect x="36.53" y="241.98" width="3.95" height="0.95" fill="#cce070"/>
<rect x="36.53" y="242.91" width="3.95" height="1.14" fill="#f8d4e6"/>
<rect x="36.53" y="244.03" width="3.95" height="0.67" fill="#e2e2e2"/>
<rect x="36.53" y="244.68" width="3.95" height="1.04" fill="#c878d0"/>
<rect x="36.53" y="245.70" width="3.95" height="24.90" fill="url(#oth)"/>
<rect x="41.04" y="200.10" width="3.95" height="25.10" fill="#a8e8da"/>
<rect x="41.04" y="225.20" width="3.95" height="10.90" fill="#fdf4bc"/>
<rect x="41.04" y="236.10" width="3.95" height="2.07" fill="#d4c8f0"/>
<rect x="41.04" y="238.15" width="3.95" height="1.69" fill="#f58878"/>
<rect x="41.04" y="239.82" width="3.95" height="0.95" fill="#88b2dc"/>
<rect x="41.04" y="240.75" width="3.95" height="0.95" fill="#f8b45c"/>
<rect x="41.04" y="241.68" width="3.95" height="0.95" fill="#cce070"/>
<rect x="41.04" y="242.61" width="3.95" height="1.14" fill="#f8d4e6"/>
<rect x="41.04" y="243.73" width="3.95" height="0.67" fill="#e2e2e2"/>
<rect x="41.04" y="244.38" width="3.95" height="1.04" fill="#c878d0"/>
<rect x="41.04" y="245.40" width="3.95" height="25.20" fill="url(#oth)"/>
<rect x="45.55" y="201.20" width="3.95" height="25.80" fill="#a8e8da"/>
<rect x="45.55" y="227.00" width="3.95" height="11.90" fill="#fdf4bc"/>
<rect x="45.55" y="238.90" width="3.95" height="2.18" fill="#d4c8f0"/>
<rect x="45.55" y="241.06" width="3.95" height="1.78" fill="#f58878"/>
<rect x="45.55" y="242.82" width="3.95" height="1.00" fill="#88b2dc"/>
<rect x="45.55" y="243.80" width="3.95" height="1.00" fill="#f8b45c"/>
<rect x="45.55" y="244.78" width="3.95" height="1.00" fill="#cce070"/>
<rect x="45.55" y="245.76" width="3.95" height="1.20" fill="#f8d4e6"/>
<rect x="45.55" y="246.94" width="3.95" height="0.71" fill="#e2e2e2"/>
<rect x="45.55" y="247.62" width="3.95" height="1.10" fill="#c878d0"/>
<rect x="45.55" y="248.70" width="3.95" height="21.90" fill="url(#oth)"/>
<rect x="50.06" y="201.80" width="3.95" height="24.20" fill="#a8e8da"/>
<rect x="50.06" y="226.00" width="3.95" height="10.90" fill="#fdf4bc"/>
<rect x="50.06" y="236.90" width="3.95" height="2.20" fill="#d4c8f0"/>
<rect x="50.06" y="239.08" width="3.95" height="1.80" fill="#f58878"/>
<rect x="50.06" y="240.86" width="3.95" height="1.01" fill="#88b2dc"/>
<rect x="50.06" y="241.85" width="3.95" height="1.01" fill="#f8b45c"/>
<rect x="50.06" y="242.84" width="3.95" height="1.01" fill="#cce070"/>
<rect x="50.06" y="243.83" width="3.95" height="1.21" fill="#f8d4e6"/>
<rect x="50.06" y="245.02" width="3.95" height="0.71" fill="#e2e2e2"/>
<rect x="50.06" y="245.71" width="3.95" height="1.11" fill="#c878d0"/>
<rect x="50.06" y="246.80" width="3.95" height="23.80" fill="url(#oth)"/>
<rect x="54.57" y="202.30" width="3.95" height="23.10" fill="#a8e8da"/>
<rect x="54.57" y="225.40" width="3.95" height="11.30" fill="#fdf4bc"/>
<rect x="54.57" y="236.70" width="3.95" height="2.42" fill="#d4c8f0"/>
<rect x="54.57" y="239.10" width="3.95" height="1.98" fill="#f58878"/>
<rect x="54.57" y="241.06" width="3.95" height="1.11" fill="#88b2dc"/>
<rect x="54.57" y="242.15" width="3.95" height="1.11" fill="#f8b45c"/>
<rect x="54.57" y="243.24" width="3.95" height="1.11" fill="#cce070"/>
<rect x="54.57" y="244.33" width="3.95" height="1.33" fill="#f8d4e6"/>
<rect x="54.57" y="245.64" width="3.95" height="0.78" fill="#e2e2e2"/>
<rect x="54.57" y="246.40" width="3.95" height="1.22" fill="#c878d0"/>
<rect x="54.57" y="247.60" width="3.95" height="23.00" fill="url(#oth)"/>
<rect x="59.08" y="202.80" width="3.95" height="25.10" fill="#a8e8da"/>
<rect x="59.08" y="227.90" width="3.95" height="11.00" fill="#fdf4bc"/>
<rect x="59.08" y="238.90" width="3.95" height="2.18" fill="#d4c8f0"/>
<rect x="59.08" y="241.06" width="3.95" height="1.78" fill="#f58878"/>
<rect x="59.08" y="242.82" width="3.95" height="1.00" fill="#88b2dc"/>
<rect x="59.08" y="243.80" width="3.95" height="1.00" fill="#f8b45c"/>
<rect x="59.08" y="244.78" width="3.95" height="1.00" fill="#cce070"/>
<rect x="59.08" y="245.76" width="3.95" height="1.20" fill="#f8d4e6"/>
<rect x="59.08" y="246.94" width="3.95" height="0.71" fill="#e2e2e2"/>
<rect x="59.08" y="247.62" width="3.95" height="1.10" fill="#c878d0"/>
<rect x="59.08" y="248.70" width="3.95" height="21.90" fill="url(#oth)"/>
<rect x="63.59" y="202.80" width="3.95" height="25.90" fill="#a8e8da"/>
<rect x="63.59" y="228.70" width="3.95" height="11.30" fill="#fdf4bc"/>
<rect x="63.59" y="240.00" width="3.95" height="1.76" fill="#d4c8f0"/>
<rect x="63.59" y="241.74" width="3.95" height="1.44" fill="#f58878"/>
<rect x="63.59" y="243.16" width="3.95" height="0.81" fill="#88b2dc"/>
<rect x="63.59" y="243.95" width="3.95" height="0.81" fill="#f8b45c"/>
<rect x="63.59" y="244.74" width="3.95" height="0.81" fill="#cce070"/>
<rect x="63.59" y="245.53" width="3.95" height="0.97" fill="#f8d4e6"/>
<rect x="63.59" y="246.48" width="3.95" height="0.57" fill="#e2e2e2"/>
<rect x="63.59" y="247.03" width="3.95" height="0.89" fill="#c878d0"/>
<rect x="63.59" y="247.90" width="3.95" height="22.70" fill="url(#oth)"/>
<rect x="68.10" y="203.00" width="3.95" height="27.00" fill="#a8e8da"/>
<rect x="68.10" y="230.00" width="3.95" height="11.00" fill="#fdf4bc"/>
<rect x="68.10" y="241.00" width="3.95" height="2.15" fill="#d4c8f0"/>
<rect x="68.10" y="243.13" width="3.95" height="1.77" fill="#f58878"/>
<rect x="68.10" y="244.88" width="3.95" height="0.99" fill="#88b2dc"/>
<rect x="68.10" y="245.85" width="3.95" height="0.99" fill="#f8b45c"/>
<rect x="68.10" y="246.82" width="3.95" height="0.99" fill="#cce070"/>
<rect x="68.10" y="247.79" width="3.95" height="1.18" fill="#f8d4e6"/>
<rect x="68.10" y="248.95" width="3.95" height="0.70" fill="#e2e2e2"/>
<rect x="68.10" y="249.63" width="3.95" height="1.09" fill="#c878d0"/>
<rect x="68.10" y="250.70" width="3.95" height="19.90" fill="url(#oth)"/>
<rect x="72.61" y="203.00" width="3.95" height="26.00" fill="#a8e8da"/>
<rect x="72.61" y="229.00" width="3.95" height="11.20" fill="#fdf4bc"/>
<rect x="72.61" y="240.20" width="3.95" height="1.89" fill="#d4c8f0"/>
<rect x="72.61" y="242.07" width="3.95" height="1.55" fill="#f58878"/>
<rect x="72.61" y="243.60" width="3.95" height="0.87" fill="#88b2dc"/>
<rect x="72.61" y="244.45" width="3.95" height="0.87" fill="#f8b45c"/>
<rect x="72.61" y="245.30" width="3.95" height="0.87" fill="#cce070"/>
<rect x="72.61" y="246.15" width="3.95" height="1.04" fill="#f8d4e6"/>
<rect x="72.61" y="247.17" width="3.95" height="0.62" fill="#e2e2e2"/>
<rect x="72.61" y="247.76" width="3.95" height="0.96" fill="#c878d0"/>
<rect x="72.61" y="248.70" width="3.95" height="21.90" fill="url(#oth)"/>
<rect x="77.12" y="204.70" width="3.95" height="26.20" fill="#a8e8da"/>
<rect x="77.12" y="230.90" width="3.95" height="10.90" fill="#fdf4bc"/>
<rect x="77.12" y="241.80" width="3.95" height="1.78" fill="#d4c8f0"/>
<rect x="77.12" y="243.56" width="3.95" height="1.46" fill="#f58878"/>
<rect x="77.12" y="245.00" width="3.95" height="0.82" fill="#88b2dc"/>
<rect x="77.12" y="245.80" width="3.95" height="0.82" fill="#f8b45c"/>
<rect x="77.12" y="246.60" width="3.95" height="0.82" fill="#cce070"/>
<rect x="77.12" y="247.40" width="3.95" height="0.98" fill="#f8d4e6"/>
<rect x="77.12" y="248.36" width="3.95" height="0.58" fill="#e2e2e2"/>
<rect x="77.12" y="248.92" width="3.95" height="0.90" fill="#c878d0"/>
<rect x="77.12" y="249.80" width="3.95" height="20.80" fill="url(#oth)"/>
<rect x="81.63" y="205.80" width="3.95" height="20.90" fill="#a8e8da"/>
<rect x="81.63" y="226.70" width="3.95" height="11.30" fill="#fdf4bc"/>
<rect x="81.63" y="238.00" width="3.95" height="1.96" fill="#d4c8f0"/>
<rect x="81.63" y="239.94" width="3.95" height="1.60" fill="#f58878"/>
<rect x="81.63" y="241.52" width="3.95" height="0.90" fill="#88b2dc"/>
<rect x="81.63" y="242.40" width="3.95" height="0.90" fill="#f8b45c"/>
<rect x="81.63" y="243.28" width="3.95" height="0.90" fill="#cce070"/>
<rect x="81.63" y="244.16" width="3.95" height="1.08" fill="#f8d4e6"/>
<rect x="81.63" y="245.22" width="3.95" height="0.64" fill="#e2e2e2"/>
<rect x="81.63" y="245.83" width="3.95" height="0.99" fill="#c878d0"/>
<rect x="81.63" y="246.80" width="3.95" height="23.80" fill="url(#oth)"/>
<rect x="86.14" y="206.40" width="3.95" height="20.40" fill="#a8e8da"/>
<rect x="86.14" y="226.80" width="3.95" height="11.20" fill="#fdf4bc"/>
<rect x="86.14" y="238.00" width="3.95" height="2.24" fill="#d4c8f0"/>
<rect x="86.14" y="240.22" width="3.95" height="1.84" fill="#f58878"/>
<rect x="86.14" y="242.04" width="3.95" height="1.03" fill="#88b2dc"/>
<rect x="86.14" y="243.05" width="3.95" height="1.03" fill="#f8b45c"/>
<rect x="86.14" y="244.06" width="3.95" height="1.03" fill="#cce070"/>
<rect x="86.14" y="245.07" width="3.95" height="1.23" fill="#f8d4e6"/>
<rect x="86.14" y="246.28" width="3.95" height="0.73" fill="#e2e2e2"/>
<rect x="86.14" y="246.99" width="3.95" height="1.13" fill="#c878d0"/>
<rect x="86.14" y="248.10" width="3.95" height="22.50" fill="url(#oth)"/>
<rect x="90.65" y="206.60" width="3.95" height="24.20" fill="#a8e8da"/>
<rect x="90.65" y="230.80" width="3.95" height="9.70" fill="#fdf4bc"/>
<rect x="90.65" y="240.50" width="3.95" height="1.85" fill="#d4c8f0"/>
<rect x="90.65" y="242.33" width="3.95" height="1.51" fill="#f58878"/>
<rect x="90.65" y="243.82" width="3.95" height="0.85" fill="#88b2dc"/>
<rect x="90.65" y="244.65" width="3.95" height="0.85" fill="#f8b45c"/>
<rect x="90.65" y="245.48" width="3.95" height="0.85" fill="#cce070"/>
<rect x="90.65" y="246.31" width="3.95" height="1.02" fill="#f8d4e6"/>
<rect x="90.65" y="247.31" width="3.95" height="0.60" fill="#e2e2e2"/>
<rect x="90.65" y="247.89" width="3.95" height="0.93" fill="#c878d0"/>
<rect x="90.65" y="248.80" width="3.95" height="21.80" fill="url(#oth)"/>
<rect x="95.16" y="207.00" width="3.95" height="21.10" fill="#a8e8da"/>
<rect x="95.16" y="228.10" width="3.95" height="12.20" fill="#fdf4bc"/>
<rect x="95.16" y="240.30" width="3.95" height="1.93" fill="#d4c8f0"/>
<rect x="95.16" y="242.21" width="3.95" height="1.59" fill="#f58878"/>
<rect x="95.16" y="243.78" width="3.95" height="0.89" fill="#88b2dc"/>
<rect x="95.16" y="244.65" width="3.95" height="0.89" fill="#f8b45c"/>
<rect x="95.16" y="245.52" width="3.95" height="0.89" fill="#cce070"/>
<rect x="95.16" y="246.39" width="3.95" height="1.06" fill="#f8d4e6"/>
<rect x="95.16" y="247.43" width="3.95" height="0.63" fill="#e2e2e2"/>
<rect x="95.16" y="248.04" width="3.95" height="0.98" fill="#c878d0"/>
<rect x="95.16" y="249.00" width="3.95" height="21.60" fill="url(#oth)"/>
<rect x="99.67" y="208.00" width="3.95" height="19.30" fill="#a8e8da"/>
<rect x="99.67" y="227.30" width="3.95" height="11.80" fill="#fdf4bc"/>
<rect x="99.67" y="239.10" width="3.95" height="1.93" fill="#d4c8f0"/>
<rect x="99.67" y="241.01" width="3.95" height="1.59" fill="#f58878"/>
<rect x="99.67" y="242.58" width="3.95" height="0.89" fill="#88b2dc"/>
<rect x="99.67" y="243.45" width="3.95" height="0.89" fill="#f8b45c"/>
<rect x="99.67" y="244.32" width="3.95" height="0.89" fill="#cce070"/>
<rect x="99.67" y="245.19" width="3.95" height="1.06" fill="#f8d4e6"/>
<rect x="99.67" y="246.23" width="3.95" height="0.63" fill="#e2e2e2"/>
<rect x="99.67" y="246.84" width="3.95" height="0.98" fill="#c878d0"/>
<rect x="99.67" y="247.80" width="3.95" height="22.80" fill="url(#oth)"/>
<rect x="104.18" y="209.20" width="3.95" height="23.90" fill="#a8e8da"/>
<rect x="104.18" y="233.10" width="3.95" height="7.70" fill="#fdf4bc"/>
<rect x="104.18" y="240.80" width="3.95" height="1.82" fill="#d4c8f0"/>
<rect x="104.18" y="242.60" width="3.95" height="1.50" fill="#f58878"/>
<rect x="104.18" y="244.08" width="3.95" height="0.84" fill="#88b2dc"/>
<rect x="104.18" y="244.90" width="3.95" height="0.84" fill="#f8b45c"/>
<rect x="104.18" y="245.72" width="3.95" height="0.84" fill="#cce070"/>
<rect x="104.18" y="246.54" width="3.95" height="1.00" fill="#f8d4e6"/>
<rect x="104.18" y="247.52" width="3.95" height="0.59" fill="#e2e2e2"/>
<rect x="104.18" y="248.10" width="3.95" height="0.92" fill="#c878d0"/>
<rect x="104.18" y="249.00" width="3.95" height="21.60" fill="url(#oth)"/>
<rect x="108.69" y="210.90" width="3.95" height="17.20" fill="#a8e8da"/>
<rect x="108.69" y="228.10" width="3.95" height="11.30" fill="#fdf4bc"/>
<rect x="108.69" y="239.40" width="3.95" height="2.00" fill="#d4c8f0"/>
<rect x="108.69" y="241.38" width="3.95" height="1.64" fill="#f58878"/>
<rect x="108.69" y="243.00" width="3.95" height="0.92" fill="#88b2dc"/>
<rect x="108.69" y="243.90" width="3.95" height="0.92" fill="#f8b45c"/>
<rect x="108.69" y="244.80" width="3.95" height="0.92" fill="#cce070"/>
<rect x="108.69" y="245.70" width="3.95" height="1.10" fill="#f8d4e6"/>
<rect x="108.69" y="246.78" width="3.95" height="0.65" fill="#e2e2e2"/>
<rect x="108.69" y="247.41" width="3.95" height="1.01" fill="#c878d0"/>
<rect x="108.69" y="248.40" width="3.95" height="22.20" fill="url(#oth)"/>
<rect x="113.20" y="212.20" width="3.95" height="25.00" fill="#a8e8da"/>
<rect x="113.20" y="237.20" width="3.95" height="9.50" fill="#fdf4bc"/>
<rect x="113.20" y="246.70" width="3.95" height="1.69" fill="#d4c8f0"/>
<rect x="113.20" y="248.37" width="3.95" height="1.39" fill="#f58878"/>
<rect x="113.20" y="249.74" width="3.95" height="0.78" fill="#88b2dc"/>
<rect x="113.20" y="250.50" width="3.95" height="0.78" fill="#f8b45c"/>
<rect x="113.20" y="251.26" width="3.95" height="0.78" fill="#cce070"/>
<rect x="113.20" y="252.02" width="3.95" height="0.93" fill="#f8d4e6"/>
<rect x="113.20" y="252.93" width="3.95" height="0.55" fill="#e2e2e2"/>
<rect x="113.20" y="253.46" width="3.95" height="0.86" fill="#c878d0"/>
<rect x="113.20" y="254.30" width="3.95" height="16.30" fill="url(#oth)"/>
<rect x="117.71" y="217.90" width="3.95" height="18.10" fill="#a8e8da"/>
<rect x="117.71" y="236.00" width="3.95" height="10.10" fill="#fdf4bc"/>
<rect x="117.71" y="246.10" width="3.95" height="1.69" fill="#d4c8f0"/>
<rect x="117.71" y="247.77" width="3.95" height="1.39" fill="#f58878"/>
<rect x="117.71" y="249.14" width="3.95" height="0.78" fill="#88b2dc"/>
<rect x="117.71" y="249.90" width="3.95" height="0.78" fill="#f8b45c"/>
<rect x="117.71" y="250.66" width="3.95" height="0.78" fill="#cce070"/>
<rect x="117.71" y="251.42" width="3.95" height="0.93" fill="#f8d4e6"/>
<rect x="117.71" y="252.33" width="3.95" height="0.55" fill="#e2e2e2"/>
<rect x="117.71" y="252.86" width="3.95" height="0.86" fill="#c878d0"/>
<rect x="117.71" y="253.70" width="3.95" height="16.90" fill="url(#oth)"/>
<rect x="122.22" y="219.30" width="3.95" height="20.80" fill="#a8e8da"/>
<rect x="122.22" y="240.10" width="3.95" height="6.60" fill="#fdf4bc"/>
<rect x="122.22" y="246.70" width="3.95" height="1.56" fill="#d4c8f0"/>
<rect x="122.22" y="248.24" width="3.95" height="1.28" fill="#f58878"/>
<rect x="122.22" y="249.50" width="3.95" height="0.72" fill="#88b2dc"/>
<rect x="122.22" y="250.20" width="3.95" height="0.72" fill="#f8b45c"/>
<rect x="122.22" y="250.90" width="3.95" height="0.72" fill="#cce070"/>
<rect x="122.22" y="251.60" width="3.95" height="0.86" fill="#f8d4e6"/>
<rect x="122.22" y="252.44" width="3.95" height="0.51" fill="#e2e2e2"/>
<rect x="122.22" y="252.93" width="3.95" height="0.79" fill="#c878d0"/>
<rect x="122.22" y="253.70" width="3.95" height="16.90" fill="url(#oth)"/>
<rect x="126.73" y="225.50" width="3.95" height="15.40" fill="#a8e8da"/>
<rect x="126.73" y="240.90" width="3.95" height="6.40" fill="#fdf4bc"/>
<rect x="126.73" y="247.30" width="3.95" height="1.43" fill="#d4c8f0"/>
<rect x="126.73" y="248.71" width="3.95" height="1.17" fill="#f58878"/>
<rect x="126.73" y="249.86" width="3.95" height="0.66" fill="#88b2dc"/>
<rect x="126.73" y="250.50" width="3.95" height="0.66" fill="#f8b45c"/>
<rect x="126.73" y="251.14" width="3.95" height="0.66" fill="#cce070"/>
<rect x="126.73" y="251.78" width="3.95" height="0.79" fill="#f8d4e6"/>
<rect x="126.73" y="252.55" width="3.95" height="0.47" fill="#e2e2e2"/>
<rect x="126.73" y="253.00" width="3.95" height="0.72" fill="#c878d0"/>
<rect x="126.73" y="253.70" width="3.95" height="16.90" fill="url(#oth)"/>
<rect x="131.24" y="226.10" width="3.95" height="13.10" fill="#a8e8da"/>
<rect x="131.24" y="239.20" width="3.95" height="6.50" fill="#fdf4bc"/>
<rect x="131.24" y="245.70" width="3.95" height="1.38" fill="#d4c8f0"/>
<rect x="131.24" y="247.06" width="3.95" height="1.14" fill="#f58878"/>
<rect x="131.24" y="248.18" width="3.95" height="0.64" fill="#88b2dc"/>
<rect x="131.24" y="248.80" width="3.95" height="0.64" fill="#f8b45c"/>
<rect x="131.24" y="249.42" width="3.95" height="0.64" fill="#cce070"/>
<rect x="131.24" y="250.04" width="3.95" height="0.76" fill="#f8d4e6"/>
<rect x="131.24" y="250.78" width="3.95" height="0.45" fill="#e2e2e2"/>
<rect x="131.24" y="251.22" width="3.95" height="0.70" fill="#c878d0"/>
<rect x="131.24" y="251.90" width="3.95" height="18.70" fill="url(#oth)"/>
<rect x="135.75" y="227.30" width="3.95" height="12.80" fill="#a8e8da"/>
<rect x="135.75" y="240.10" width="3.95" height="8.70" fill="#fdf4bc"/>
<rect x="135.75" y="248.80" width="3.95" height="1.30" fill="#d4c8f0"/>
<rect x="135.75" y="250.08" width="3.95" height="1.06" fill="#f58878"/>
<rect x="135.75" y="251.12" width="3.95" height="0.60" fill="#88b2dc"/>
<rect x="135.75" y="251.70" width="3.95" height="0.60" fill="#f8b45c"/>
<rect x="135.75" y="252.28" width="3.95" height="0.60" fill="#cce070"/>
<rect x="135.75" y="252.86" width="3.95" height="0.72" fill="#f8d4e6"/>
<rect x="135.75" y="253.56" width="3.95" height="0.43" fill="#e2e2e2"/>
<rect x="135.75" y="253.96" width="3.95" height="0.66" fill="#c878d0"/>
<rect x="135.75" y="254.60" width="3.95" height="16.00" fill="url(#oth)"/>
<rect x="140.26" y="227.30" width="3.95" height="13.40" fill="#a8e8da"/>
<rect x="140.26" y="240.70" width="3.95" height="6.00" fill="#fdf4bc"/>
<rect x="140.26" y="246.70" width="3.95" height="1.36" fill="#d4c8f0"/>
<rect x="140.26" y="248.04" width="3.95" height="1.12" fill="#f58878"/>
<rect x="140.26" y="249.14" width="3.95" height="0.63" fill="#88b2dc"/>
<rect x="140.26" y="249.75" width="3.95" height="0.63" fill="#f8b45c"/>
<rect x="140.26" y="250.36" width="3.95" height="0.63" fill="#cce070"/>
<rect x="140.26" y="250.97" width="3.95" height="0.75" fill="#f8d4e6"/>
<rect x="140.26" y="251.70" width="3.95" height="0.45" fill="#e2e2e2"/>
<rect x="140.26" y="252.13" width="3.95" height="0.69" fill="#c878d0"/>
<rect x="140.26" y="252.80" width="3.95" height="17.80" fill="url(#oth)"/>
<rect x="144.77" y="227.80" width="3.95" height="12.90" fill="#a8e8da"/>
<rect x="144.77" y="240.70" width="3.95" height="6.00" fill="#fdf4bc"/>
<rect x="144.77" y="246.70" width="3.95" height="1.36" fill="#d4c8f0"/>
<rect x="144.77" y="248.04" width="3.95" height="1.12" fill="#f58878"/>
<rect x="144.77" y="249.14" width="3.95" height="0.63" fill="#88b2dc"/>
<rect x="144.77" y="249.75" width="3.95" height="0.63" fill="#f8b45c"/>
<rect x="144.77" y="250.36" width="3.95" height="0.63" fill="#cce070"/>
<rect x="144.77" y="250.97" width="3.95" height="0.75" fill="#f8d4e6"/>
<rect x="144.77" y="251.70" width="3.95" height="0.45" fill="#e2e2e2"/>
<rect x="144.77" y="252.13" width="3.95" height="0.69" fill="#c878d0"/>
<rect x="144.77" y="252.80" width="3.95" height="17.80" fill="url(#oth)"/>
<rect x="149.28" y="229.00" width="3.95" height="12.30" fill="#a8e8da"/>
<rect x="149.28" y="241.30" width="3.95" height="6.30" fill="#fdf4bc"/>
<rect x="149.28" y="247.60" width="3.95" height="1.32" fill="#d4c8f0"/>
<rect x="149.28" y="248.90" width="3.95" height="1.08" fill="#f58878"/>
<rect x="149.28" y="249.96" width="3.95" height="0.61" fill="#88b2dc"/>
<rect x="149.28" y="250.55" width="3.95" height="0.61" fill="#f8b45c"/>
<rect x="149.28" y="251.14" width="3.95" height="0.61" fill="#cce070"/>
<rect x="149.28" y="251.73" width="3.95" height="0.73" fill="#f8d4e6"/>
<rect x="149.28" y="252.44" width="3.95" height="0.43" fill="#e2e2e2"/>
<rect x="149.28" y="252.85" width="3.95" height="0.67" fill="#c878d0"/>
<rect x="149.28" y="253.50" width="3.95" height="17.10" fill="url(#oth)"/>
<rect x="153.79" y="229.20" width="3.95" height="10.90" fill="#a8e8da"/>
<rect x="153.79" y="240.10" width="3.95" height="6.60" fill="#fdf4bc"/>
<rect x="153.79" y="246.70" width="3.95" height="1.56" fill="#d4c8f0"/>
<rect x="153.79" y="248.24" width="3.95" height="1.28" fill="#f58878"/>
<rect x="153.79" y="249.50" width="3.95" height="0.72" fill="#88b2dc"/>
<rect x="153.79" y="250.20" width="3.95" height="0.72" fill="#f8b45c"/>
<rect x="153.79" y="250.90" width="3.95" height="0.72" fill="#cce070"/>
<rect x="153.79" y="251.60" width="3.95" height="0.86" fill="#f8d4e6"/>
<rect x="153.79" y="252.44" width="3.95" height="0.51" fill="#e2e2e2"/>
<rect x="153.79" y="252.93" width="3.95" height="0.79" fill="#c878d0"/>
<rect x="153.79" y="253.70" width="3.95" height="16.90" fill="url(#oth)"/>
<rect x="158.30" y="230.20" width="3.95" height="12.50" fill="#a8e8da"/>
<rect x="158.30" y="242.70" width="3.95" height="6.10" fill="#fdf4bc"/>
<rect x="158.30" y="248.80" width="3.95" height="1.23" fill="#d4c8f0"/>
<rect x="158.30" y="250.01" width="3.95" height="1.01" fill="#f58878"/>
<rect x="158.30" y="251.00" width="3.95" height="0.57" fill="#88b2dc"/>
<rect x="158.30" y="251.55" width="3.95" height="0.57" fill="#f8b45c"/>
<rect x="158.30" y="252.10" width="3.95" height="0.57" fill="#cce070"/>
<rect x="158.30" y="252.65" width="3.95" height="0.68" fill="#f8d4e6"/>
<rect x="158.30" y="253.31" width="3.95" height="0.41" fill="#e2e2e2"/>
<rect x="158.30" y="253.70" width="3.95" height="0.62" fill="#c878d0"/>
<rect x="158.30" y="254.30" width="3.95" height="16.30" fill="url(#oth)"/>
<rect x="162.81" y="233.30" width="3.95" height="11.80" fill="#a8e8da"/>
<rect x="162.81" y="245.10" width="3.95" height="5.70" fill="#fdf4bc"/>
<rect x="162.81" y="250.80" width="3.95" height="1.03" fill="#d4c8f0"/>
<rect x="162.81" y="251.81" width="3.95" height="0.85" fill="#f58878"/>
<rect x="162.81" y="252.64" width="3.95" height="0.48" fill="#88b2dc"/>
<rect x="162.81" y="253.10" width="3.95" height="0.48" fill="#f8b45c"/>
<rect x="162.81" y="253.56" width="3.95" height="0.48" fill="#cce070"/>
<rect x="162.81" y="254.02" width="3.95" height="0.57" fill="#f8d4e6"/>
<rect x="162.81" y="254.57" width="3.95" height="0.34" fill="#e2e2e2"/>
<rect x="162.81" y="254.89" width="3.95" height="0.53" fill="#c878d0"/>
<rect x="162.81" y="255.40" width="3.95" height="15.20" fill="url(#oth)"/>
<text transform="translate(21.20 271.80) scale(0.18000)" font-size="20.0" text-anchor="end" fill="#333" stroke="#333" stroke-width="0.375">0</text>
<text transform="translate(21.20 242.70) scale(0.18000)" font-size="20.0" text-anchor="end" fill="#333" stroke="#333" stroke-width="0.375">2000</text>
<text transform="translate(21.20 213.60) scale(0.18000)" font-size="20.0" text-anchor="end" fill="#333" stroke="#333" stroke-width="0.375">4000</text>
<text transform="translate(8.30 231.00) rotate(-90) scale(0.24500)" font-size="20.0" font-weight="bold" text-anchor="middle" fill="#111" stroke="#111" stroke-width="0.612">Reaction numbers</text>
<text transform="translate(170.70 194.60) scale(0.26500)" font-size="20.0" font-weight="bold" fill="#111" stroke="#111" stroke-width="0.566">Top 10 subsystem</text>
<rect x="171.10" y="199.30" width="4.70" height="4.90" fill="#a8e8da"/>
<text transform="translate(178.00 202.90) scale(0.18600)" font-size="20.0" fill="#111" stroke="#111" stroke-width="0.363">Transport reactions</text>
<rect x="171.10" y="204.69" width="4.70" height="4.90" fill="#fdf4bc"/>
<text transform="translate(178.00 208.29) scale(0.18600)" font-size="20.0" fill="#111" stroke="#111" stroke-width="0.363">Exchange/demand reactions</text>
<rect x="171.10" y="210.08" width="4.70" height="4.90" fill="#d4c8f0"/>
<text transform="translate(178.00 213.68) scale(0.18600)" font-size="20.0" fill="#111" stroke="#111" stroke-width="0.363">Fatty acid oxidation</text>
<rect x="171.10" y="215.47" width="4.70" height="4.90" fill="#f58878"/>
<text transform="translate(178.00 219.07) scale(0.18600)" font-size="20.0" fill="#111" stroke="#111" stroke-width="0.363">Drug metabolism</text>
<rect x="171.10" y="220.86" width="4.70" height="4.90" fill="#88b2dc"/>
<text transform="translate(178.00 224.46) scale(0.18600)" font-size="20.0" fill="#111" stroke="#111" stroke-width="0.363">Carnitine shuttle (mitochondrial)</text>
<rect x="171.10" y="226.25" width="4.70" height="4.90" fill="#f8b45c"/>
<text transform="translate(178.00 229.85) scale(0.18600)" font-size="20.0" fill="#111" stroke="#111" stroke-width="0.363">Bile acid biosynthesis</text>
<rect x="171.10" y="231.64" width="4.70" height="4.90" fill="#cce070"/>
<text transform="translate(178.00 235.24) scale(0.18600)" font-size="20.0" fill="#111" stroke="#111" stroke-width="0.363">Glycerolipid metabolism</text>
<rect x="171.10" y="237.03" width="4.70" height="4.90" fill="#f8d4e6"/>
<text transform="translate(178.00 240.63) scale(0.18600)" font-size="20.0" fill="#111" stroke="#111" stroke-width="0.363">Glycerophospholipid metabolism</text>
<rect x="171.10" y="242.42" width="4.70" height="4.90" fill="#e2e2e2"/>
<text transform="translate(178.00 246.02) scale(0.18600)" font-size="20.0" fill="#111" stroke="#111" stroke-width="0.363">Purine metabolism</text>
<rect x="171.10" y="247.81" width="4.70" height="4.90" fill="#c878d0"/>
<text transform="translate(178.00 251.41) scale(0.18600)" font-size="20.0" fill="#111" stroke="#111" stroke-width="0.363">Fatty acid activation (cytosolic)</text>
<rect x="171.10" y="253.20" width="4.70" height="4.90" fill="#6e6d6d"/>
<text transform="translate(178.00 256.80) scale(0.18600)" font-size="20.0" fill="#111" stroke="#111" stroke-width="0.363">Others</text>
<text transform="translate(27.48 277.50) rotate(-45) scale(0.17500)" font-size="20.0" font-weight="bold" text-anchor="end" fill="#c850c8" stroke="#c850c8" stroke-width="0.386">adultFatBody</text>
<text transform="translate(31.98 277.50) rotate(-45) scale(0.17500)" font-size="20.0" font-weight="bold" text-anchor="end" fill="#c850c8" stroke="#c850c8" stroke-width="0.386">adultOenocyte</text>
<text transform="translate(36.49 277.50) rotate(-45) scale(0.17500)" font-size="20.0" font-weight="bold" text-anchor="end" fill="#f0a020" stroke="#f0a020" stroke-width="0.386">adultHindgut</text>
<text transform="translate(41.01 277.50) rotate(-45) scale(0.17500)" font-size="20.0" font-weight="bold" text-anchor="end" fill="#444444" stroke="#444444" stroke-width="0.386">maleAccessoryGland</text>
<text transform="translate(45.52 277.50) rotate(-45) scale(0.17500)" font-size="20.0" font-weight="bold" text-anchor="end" fill="#444444" stroke="#444444" stroke-width="0.386">TrachealCell</text>
<text transform="translate(50.02 277.50) rotate(-45) scale(0.17500)" font-size="20.0" font-weight="bold" text-anchor="end" fill="#f0a020" stroke="#f0a020" stroke-width="0.386">enteroendocrineCell</text>
<text transform="translate(54.54 277.50) rotate(-45) scale(0.17500)" font-size="20.0" font-weight="bold" text-anchor="end" fill="#444444" stroke="#444444" stroke-width="0.386">femaleReproductiveSystem</text>
<text transform="translate(59.05 277.50) rotate(-45) scale(0.17500)" font-size="20.0" font-weight="bold" text-anchor="end" fill="#80bf30" stroke="#80bf30" stroke-width="0.386">subperineurialGlialCell</text>
<text transform="translate(63.55 277.50) rotate(-45) scale(0.17500)" font-size="20.0" font-weight="bold" text-anchor="end" fill="#80bf30" stroke="#80bf30" stroke-width="0.386">adultGlialCell</text>
<text transform="translate(68.06 277.50) rotate(-45) scale(0.17500)" font-size="20.0" font-weight="bold" text-anchor="end" fill="#444444" stroke="#444444" stroke-width="0.386">hemocyte</text>
<text transform="translate(72.57 277.50) rotate(-45) scale(0.17500)" font-size="20.0" font-weight="bold" text-anchor="end" fill="#80bf30" stroke="#80bf30" stroke-width="0.386">CNSSurfaceAssociatedGlialCell</text>
<text transform="translate(77.08 277.50) rotate(-45) scale(0.17500)" font-size="20.0" font-weight="bold" text-anchor="end" fill="#80bf30" stroke="#80bf30" stroke-width="0.386">adultReticularNeuropilAssociatedGlialCell</text>
<text transform="translate(81.59 277.50) rotate(-45) scale(0.17500)" font-size="20.0" font-weight="bold" text-anchor="end" fill="#80bf30" stroke="#80bf30" stroke-width="0.386">cellBodyGlialCell</text>
<text transform="translate(86.10 277.50) rotate(-45) scale(0.17500)" font-size="20.0" font-weight="bold" text-anchor="end" fill="#444444" stroke="#444444" stroke-width="0.386">follicleCell</text>
<text transform="translate(90.61 277.50) rotate(-45) scale(0.17500)" font-size="20.0" font-weight="bold" text-anchor="end" fill="#444444" stroke="#444444" stroke-width="0.386">epSupportCell</text>
<text transform="translate(95.12 277.50) rotate(-45) scale(0.17500)" font-size="20.0" font-weight="bold" text-anchor="end" fill="#444444" stroke="#444444" stroke-width="0.386">epithelialCell</text>
<text transform="translate(99.63 277.50) rotate(-45) scale(0.17500)" font-size="20.0" font-weight="bold" text-anchor="end" fill="#80bf30" stroke="#80bf30" stroke-width="0.386">perineurialGlialSheath</text>
<text transform="translate(104.14 277.50) rotate(-45) scale(0.17500)" font-size="20.0" font-weight="bold" text-anchor="end" fill="#444444" stroke="#444444" stroke-width="0.386">fascicleCell</text>
<text transform="translate(108.65 277.50) rotate(-45) scale(0.17500)" font-size="20.0" font-weight="bold" text-anchor="end" fill="#444444" stroke="#444444" stroke-width="0.386">germlineCell</text>
<text transform="translate(113.16 277.50) rotate(-45) scale(0.17500)" font-size="20.0" font-weight="bold" text-anchor="end" fill="#444444" stroke="#444444" stroke-width="0.386">polarFollicleCell</text>
<text transform="translate(117.67 277.50) rotate(-45) scale(0.17500)" font-size="20.0" font-weight="bold" text-anchor="end" fill="#e84a3a" stroke="#e84a3a" stroke-width="0.386">indirectFlightMuscle</text>
<text transform="translate(122.18 277.50) rotate(-45) scale(0.17500)" font-size="20.0" font-weight="bold" text-anchor="end" fill="#444444" stroke="#444444" stroke-width="0.386">follicleCellSt_9_</text>
<text transform="translate(126.69 277.50) rotate(-45) scale(0.17500)" font-size="20.0" font-weight="bold" text-anchor="end" fill="#e84a3a" stroke="#e84a3a" stroke-width="0.386">muscleCell</text>
<text transform="translate(131.20 277.50) rotate(-45) scale(0.17500)" font-size="20.0" font-weight="bold" text-anchor="end" fill="#b02a3a" stroke="#b02a3a" stroke-width="0.386">scolopidialNeuron</text>
<text transform="translate(135.72 277.50) rotate(-45) scale(0.17500)" font-size="20.0" font-weight="bold" text-anchor="end" fill="#b02a3a" stroke="#b02a3a" stroke-width="0.386">multidendriticNeuron</text>
<text transform="translate(140.22 277.50) rotate(-45) scale(0.17500)" font-size="20.0" font-weight="bold" text-anchor="end" fill="#444444" stroke="#444444" stroke-width="0.386">spermatocyte</text>
<text transform="translate(144.73 277.50) rotate(-45) scale(0.17500)" font-size="20.0" font-weight="bold" text-anchor="end" fill="#b02a3a" stroke="#b02a3a" stroke-width="0.386">gustatoryReceptorNeuron</text>
<text transform="translate(149.24 277.50) rotate(-45) scale(0.17500)" font-size="20.0" font-weight="bold" text-anchor="end" fill="#b02a3a" stroke="#b02a3a" stroke-width="0.386">legTasteBristleChemosensoryNeuron</text>
<text transform="translate(153.75 277.50) rotate(-45) scale(0.17500)" font-size="20.0" font-weight="bold" text-anchor="end" fill="#b02a3a" stroke="#b02a3a" stroke-width="0.386">adultVentralNervousSystem</text>
<text transform="translate(158.26 277.50) rotate(-45) scale(0.17500)" font-size="20.0" font-weight="bold" text-anchor="end" fill="#444444" stroke="#444444" stroke-width="0.386">prefollicleCell_lateFollicleCell</text>
<text transform="translate(162.77 277.50) rotate(-45) scale(0.17500)" font-size="20.0" font-weight="bold" text-anchor="end" fill="#b02a3a" stroke="#b02a3a" stroke-width="0.386">adultPeripheralNervousSystem</text>
<text transform="translate(167.28 277.50) rotate(-45) scale(0.17500)" font-size="20.0" font-weight="bold" text-anchor="end" fill="#b02a3a" stroke="#b02a3a" stroke-width="0.386">legMultidendriticNeuron</text>
<text transform="translate(-0.20 329.80) scale(0.50000)" font-size="20.0" fill="#000" stroke="#000" stroke-width="0.180">e</text>
<line x1="46.64" y1="338.60" x2="46.64" y2="418.00" stroke="#e6e6e6" stroke-width="0.6"/>
<line x1="61.08" y1="338.60" x2="61.08" y2="418.00" stroke="#e6e6e6" stroke-width="0.6"/>
<line x1="75.52" y1="338.60" x2="75.52" y2="418.00" stroke="#e6e6e6" stroke-width="0.6"/>
<line x1="89.96" y1="338.60" x2="89.96" y2="418.00" stroke="#e6e6e6" stroke-width="0.6"/>
<line x1="104.40" y1="338.60" x2="104.40" y2="418.00" stroke="#e6e6e6" stroke-width="0.6"/>
<line x1="118.84" y1="338.60" x2="118.84" y2="418.00" stroke="#e6e6e6" stroke-width="0.6"/>
<line x1="32.30" y1="401.40" x2="133.40" y2="401.40" stroke="#e6e6e6" stroke-width="0.6"/>
<line x1="32.30" y1="385.85" x2="133.40" y2="385.85" stroke="#e6e6e6" stroke-width="0.6"/>
<line x1="32.30" y1="354.75" x2="133.40" y2="354.75" stroke="#e6e6e6" stroke-width="0.6"/>
<line x1="32.30" y1="338.60" x2="133.40" y2="338.60" stroke="#eeeeee" stroke-width="0.5"/>
<line x1="133.40" y1="338.60" x2="133.40" y2="418.00" stroke="#eeeeee" stroke-width="0.5"/>
<line x1="32.30" y1="418.00" x2="133.40" y2="418.00" stroke="#aaaaaa" stroke-width="0.6"/>
<line x1="32.30" y1="338.60" x2="32.30" y2="418.00" stroke="#777777" stroke-width="0.6"/>
<line x1="32.30" y1="370.30" x2="133.40" y2="370.30" stroke="#555" stroke-width="0.5" stroke-dasharray="1.3 1.3"/>
<line x1="91.19" y1="338.60" x2="91.19" y2="418.00" stroke="#555" stroke-width="0.5" stroke-dasharray="1.3 1.3"/>
<text transform="translate(30.60 340.30) scale(0.16500)" font-size="20.0" text-anchor="end" fill="#333" stroke="#333" stroke-width="0.409">0.9</text>
<line x1="31.30" y1="339.20" x2="32.30" y2="339.20" stroke="#777" stroke-width="0.4"/>
<text transform="translate(30.60 355.85) scale(0.16500)" font-size="20.0" text-anchor="end" fill="#333" stroke="#333" stroke-width="0.409">0.85</text>
<line x1="31.30" y1="354.75" x2="32.30" y2="354.75" stroke="#777" stroke-width="0.4"/>
<text transform="translate(30.60 371.40) scale(0.16500)" font-size="20.0" text-anchor="end" fill="#333" stroke="#333" stroke-width="0.409">0.8</text>
<line x1="31.30" y1="370.30" x2="32.30" y2="370.30" stroke="#777" stroke-width="0.4"/>
<text transform="translate(30.60 386.95) scale(0.16500)" font-size="20.0" text-anchor="end" fill="#333" stroke="#333" stroke-width="0.409">0.75</text>
<line x1="31.30" y1="385.85" x2="32.30" y2="385.85" stroke="#777" stroke-width="0.4"/>
<text transform="translate(30.60 402.50) scale(0.16500)" font-size="20.0" text-anchor="end" fill="#333" stroke="#333" stroke-width="0.409">0.7</text>
<line x1="31.30" y1="401.40" x2="32.30" y2="401.40" stroke="#777" stroke-width="0.4"/>
<text transform="translate(30.60 418.05) scale(0.16500)" font-size="20.0" text-anchor="end" fill="#333" stroke="#333" stroke-width="0.409">0.65</text>
<line x1="31.30" y1="416.95" x2="32.30" y2="416.95" stroke="#777" stroke-width="0.4"/>
<text transform="translate(32.20 422.40) scale(0.17000)" font-size="20.0" text-anchor="middle" fill="#333" stroke="#333" stroke-width="0.397">600</text>
<line x1="32.20" y1="418.00" x2="32.20" y2="418.90" stroke="#777" stroke-width="0.4"/>
<text transform="translate(46.64 422.40) scale(0.17000)" font-size="20.0" text-anchor="middle" fill="#333" stroke="#333" stroke-width="0.397">800</text>
<line x1="46.64" y1="418.00" x2="46.64" y2="418.90" stroke="#777" stroke-width="0.4"/>
<text transform="translate(61.08 422.40) scale(0.17000)" font-size="20.0" text-anchor="middle" fill="#333" stroke="#333" stroke-width="0.397">1000</text>
<line x1="61.08" y1="418.00" x2="61.08" y2="418.90" stroke="#777" stroke-width="0.4"/>
<text transform="translate(75.52 422.40) scale(0.17000)" font-size="20.0" text-anchor="middle" fill="#333" stroke="#333" stroke-width="0.397">1200</text>
<line x1="75.52" y1="418.00" x2="75.52" y2="418.90" stroke="#777" stroke-width="0.4"/>
<text transform="translate(89.96 422.40) scale(0.17000)" font-size="20.0" text-anchor="middle" fill="#333" stroke="#333" stroke-width="0.397">1400</text>
<line x1="89.96" y1="418.00" x2="89.96" y2="418.90" stroke="#777" stroke-width="0.4"/>
<text transform="translate(104.40 422.40) scale(0.17000)" font-size="20.0" text-anchor="middle" fill="#333" stroke="#333" stroke-width="0.397">1600</text>
<line x1="104.40" y1="418.00" x2="104.40" y2="418.90" stroke="#777" stroke-width="0.4"/>
<text transform="translate(118.84 422.40) scale(0.17000)" font-size="20.0" text-anchor="middle" fill="#333" stroke="#333" stroke-width="0.397">1800</text>
<line x1="118.84" y1="418.00" x2="118.84" y2="418.90" stroke="#777" stroke-width="0.4"/>
<text transform="translate(133.28 422.40) scale(0.17000)" font-size="20.0" text-anchor="middle" fill="#333" stroke="#333" stroke-width="0.397">2000</text>
<line x1="133.28" y1="418.00" x2="133.28" y2="418.90" stroke="#777" stroke-width="0.4"/>
<text transform="translate(19.60 379.70) rotate(-90) scale(0.22400)" font-size="20.0" font-weight="bold" text-anchor="middle" fill="#111" stroke="#111" stroke-width="0.670">Fraction of extracellular transport rxns</text>
<text transform="translate(61.90 429.60) scale(0.23850)" font-size="20.0" font-weight="bold" fill="#111" stroke="#111" stroke-width="0.629">Transport reactions</text>
<text transform="translate(38.90 345.60) scale(0.17750)" font-size="20.0" font-weight="bold" fill="#111" stroke="#111" stroke-width="0.380">r = 0.63</text>
<text transform="translate(38.90 350.30) scale(0.17750)" font-size="20.0" font-weight="bold" fill="#111" stroke="#111" stroke-width="0.380">p = 5.8e-15</text>
<circle cx="43.3" cy="407.7" r="1.55" fill="#d0d0d0"/>
<circle cx="73.5" cy="372.9" r="1.55" fill="#d0d0d0"/>
<circle cx="78.1" cy="366.4" r="1.55" fill="#d0d0d0"/>
<circle cx="86.9" cy="364.4" r="1.55" fill="#d0d0d0"/>
<circle cx="78.3" cy="366.3" r="1.55" fill="#d0d0d0"/>
<circle cx="91.2" cy="368.0" r="1.55" fill="#d0d0d0"/>
<circle cx="92.8" cy="374.0" r="1.55" fill="#d0d0d0"/>
<circle cx="106.9" cy="367.5" r="1.55" fill="#d0d0d0"/>
<circle cx="108.5" cy="353.4" r="1.55" fill="#d0d0d0"/>
<circle cx="109.2" cy="357.0" r="1.55" fill="#d0d0d0"/>
<circle cx="114.4" cy="361.2" r="1.55" fill="#d0d0d0"/>
<path d="M46.40 393.60 L48.25 396.82 L44.55 396.82 Z" fill="#a51c30"/>
<path d="M50.30 401.00 L52.15 404.22 L48.45 404.22 Z" fill="#a51c30"/>
<path d="M52.30 395.40 L54.15 398.62 L50.45 398.62 Z" fill="#a51c30"/>
<path d="M53.60 392.80 L55.45 396.02 L51.75 396.02 Z" fill="#a51c30"/>
<path d="M54.70 391.50 L56.55 394.72 L52.85 394.72 Z" fill="#a51c30"/>
<path d="M55.40 397.20 L57.25 400.42 L53.55 400.42 Z" fill="#a51c30"/>
<path d="M66.30 374.70 L68.15 377.92 L64.45 377.92 Z" fill="#a51c30"/>
<path d="M94.70 366.70 L96.55 363.48 L92.85 363.48 Z" fill="#74b21e"/>
<path d="M102.90 361.30 L104.75 358.08 L101.05 358.08 Z" fill="#74b21e"/>
<path d="M112.00 359.00 L113.85 355.78 L110.15 355.78 Z" fill="#74b21e"/>
<path d="M115.80 358.20 L117.65 354.98 L113.95 354.98 Z" fill="#74b21e"/>
<path d="M122.10 355.00 L123.95 351.78 L120.25 351.78 Z" fill="#74b21e"/>
<path d="M117.0 355.0 L118.6 357.0 L117.0 359.0 L115.4 357.0 Z" fill="#f07828"/>
<path d="M117.7 356.1 L119.3 358.1 L117.7 360.1 L116.10000000000001 358.1 Z" fill="#f07828"/>
<rect x="121.50" y="354.90" width="2.60" height="2.60" fill="#d040d0"/>
<rect x="126.20" y="360.30" width="2.60" height="2.60" fill="#d040d0"/>
<circle cx="112.0" cy="349.2" r="1.75" fill="#e8201a"/>
<circle cx="91.2" cy="355.8" r="1.75" fill="#e8201a"/>
<circle cx="94.2" cy="390.5" r="0.95" fill="#e8201a"/>
<rect x="93.30" y="394.00" width="1.80" height="1.80" fill="#d040d0"/>
<path d="M94.2 398.1 L95.3 399.3 L94.2 400.5 L93.1 399.3 Z" fill="#f07828"/>
<path d="M94.20 402.56 L95.35 404.56 L93.05 404.56 Z" fill="#a51c30"/>
<path d="M94.20 409.04 L95.35 407.04 L93.05 407.04 Z" fill="#74b21e"/>
<circle cx="94.2" cy="412.3" r="0.95" fill="#d0d0d0"/>
<text transform="translate(98.10 391.70) scale(0.17250)" font-size="20.0" font-weight="bold" fill="#111" stroke="#111" stroke-width="0.391">Muscle</text>
<text transform="translate(98.10 396.10) scale(0.17250)" font-size="20.0" font-weight="bold" fill="#111" stroke="#111" stroke-width="0.391">Fat body/Oenocyte</text>
<text transform="translate(98.10 400.50) scale(0.17250)" font-size="20.0" font-weight="bold" fill="#111" stroke="#111" stroke-width="0.391">Gut</text>
<text transform="translate(98.10 404.80) scale(0.17250)" font-size="20.0" font-weight="bold" fill="#111" stroke="#111" stroke-width="0.391">Neurons</text>
<text transform="translate(98.10 409.20) scale(0.17250)" font-size="20.0" font-weight="bold" fill="#111" stroke="#111" stroke-width="0.391">Glia</text>
<text transform="translate(98.10 413.50) scale(0.17250)" font-size="20.0" font-weight="bold" fill="#111" stroke="#111" stroke-width="0.391">Other</text>
<g shape-rendering="crispEdges">
<rect x="289.00" y="213.10" width="6.80" height="4.93" fill="#5f6070"/>
<rect x="295.75" y="213.10" width="6.80" height="4.93" fill="#737279"/>
<rect x="302.50" y="213.10" width="6.80" height="4.93" fill="#232f72"/>
<rect x="309.25" y="213.10" width="6.80" height="4.93" fill="#232f72"/>
<rect x="316.00" y="213.10" width="6.80" height="4.93" fill="#232f72"/>
<rect x="322.75" y="213.10" width="6.80" height="4.93" fill="#232f72"/>
<rect x="329.50" y="213.10" width="6.80" height="4.93" fill="#2e3c7c"/>
<rect x="336.25" y="213.10" width="6.80" height="4.93" fill="#232f72"/>
<rect x="343.00" y="213.10" width="6.80" height="4.93" fill="#232f72"/>
<rect x="349.75" y="213.10" width="6.80" height="4.93" fill="#5f6070"/>
<rect x="356.50" y="213.10" width="6.80" height="4.93" fill="#f8de40"/>
<rect x="363.25" y="213.10" width="6.80" height="4.93" fill="#5f6070"/>
<rect x="370.00" y="213.10" width="6.80" height="4.93" fill="#5f6070"/>
<rect x="376.75" y="213.10" width="6.80" height="4.93" fill="#5f6070"/>
<rect x="383.50" y="213.10" width="6.80" height="4.93" fill="#f8de40"/>
<rect x="390.25" y="213.10" width="6.80" height="4.93" fill="#5f6070"/>
<rect x="397.00" y="213.10" width="6.80" height="4.93" fill="#5f6070"/>
<rect x="403.75" y="213.10" width="6.80" height="4.93" fill="#5f6070"/>
<rect x="410.50" y="213.10" width="6.80" height="4.93" fill="#5f6070"/>
<rect x="417.25" y="213.10" width="6.80" height="4.93" fill="#5f6070"/>
<rect x="424.00" y="213.10" width="6.80" height="4.93" fill="#5f6070"/>
<rect x="430.75" y="213.10" width="6.80" height="4.93" fill="#5f6070"/>
<rect x="437.50" y="213.10" width="6.80" height="4.93" fill="#5f6070"/>
<rect x="444.25" y="213.10" width="6.80" height="4.93" fill="#5f6070"/>
<rect x="451.00" y="213.10" width="6.80" height="4.93" fill="#5f6070"/>
<rect x="457.75" y="213.10" width="6.80" height="4.93" fill="#5f6070"/>
<rect x="464.50" y="213.10" width="6.80" height="4.93" fill="#5f6070"/>
<rect x="471.25" y="213.10" width="6.80" height="4.93" fill="#5f6070"/>
<rect x="478.00" y="213.10" width="6.80" height="4.93" fill="#f8de40"/>
<rect x="484.75" y="213.10" width="6.80" height="4.93" fill="#f8de40"/>
<rect x="491.50" y="213.10" width="6.80" height="4.93" fill="#232f72"/>
<rect x="498.25" y="213.10" width="6.80" height="4.93" fill="#232f72"/>
<rect x="289.00" y="217.98" width="6.80" height="4.93" fill="#1c2456"/>
<rect x="295.75" y="217.98" width="6.80" height="4.93" fill="#1c2456"/>
<rect x="302.50" y="217.98" width="6.80" height="4.93" fill="#232f72"/>
<rect x="309.25" y="217.98" width="6.80" height="4.93" fill="#4c5276"/>
<rect x="316.00" y="217.98" width="6.80" height="4.93" fill="#f8de40"/>
<rect x="322.75" y="217.98" width="6.80" height="4.93" fill="#232f72"/>
<rect x="329.50" y="217.98" width="6.80" height="4.93" fill="#bcac66"/>
<rect x="336.25" y="217.98" width="6.80" height="4.93" fill="#f8de40"/>
<rect x="343.00" y="217.98" width="6.80" height="4.93" fill="#4c5276"/>
<rect x="349.75" y="217.98" width="6.80" height="4.93" fill="#bcac66"/>
<rect x="356.50" y="217.98" width="6.80" height="4.93" fill="#4c5276"/>
<rect x="363.25" y="217.98" width="6.80" height="4.93" fill="#8f8a78"/>
<rect x="370.00" y="217.98" width="6.80" height="4.93" fill="#f8de40"/>
<rect x="376.75" y="217.98" width="6.80" height="4.93" fill="#f8de40"/>
<rect x="383.50" y="217.98" width="6.80" height="4.93" fill="#232f72"/>
<rect x="390.25" y="217.98" width="6.80" height="4.93" fill="#d4be56"/>
<rect x="397.00" y="217.98" width="6.80" height="4.93" fill="#232f72"/>
<rect x="403.75" y="217.98" width="6.80" height="4.93" fill="#5f6070"/>
<rect x="410.50" y="217.98" width="6.80" height="4.93" fill="#8f8a78"/>
<rect x="417.25" y="217.98" width="6.80" height="4.93" fill="#232f72"/>
<rect x="424.00" y="217.98" width="6.80" height="4.93" fill="#bcac66"/>
<rect x="430.75" y="217.98" width="6.80" height="4.93" fill="#8f8a78"/>
<rect x="437.50" y="217.98" width="6.80" height="4.93" fill="#f8de40"/>
<rect x="444.25" y="217.98" width="6.80" height="4.93" fill="#8f8a78"/>
<rect x="451.00" y="217.98" width="6.80" height="4.93" fill="#d4be56"/>
<rect x="457.75" y="217.98" width="6.80" height="4.93" fill="#a49b72"/>
<rect x="464.50" y="217.98" width="6.80" height="4.93" fill="#5f6070"/>
<rect x="471.25" y="217.98" width="6.80" height="4.93" fill="#f8de40"/>
<rect x="478.00" y="217.98" width="6.80" height="4.93" fill="#85827a"/>
<rect x="484.75" y="217.98" width="6.80" height="4.93" fill="#232f72"/>
<rect x="491.50" y="217.98" width="6.80" height="4.93" fill="#8f8a78"/>
<rect x="498.25" y="217.98" width="6.80" height="4.93" fill="#1c2456"/>
<rect x="289.00" y="222.86" width="6.80" height="4.93" fill="#1c2456"/>
<rect x="295.75" y="222.86" width="6.80" height="4.93" fill="#1c2456"/>
<rect x="302.50" y="222.86" width="6.80" height="4.93" fill="#85827a"/>
<rect x="309.25" y="222.86" width="6.80" height="4.93" fill="#8f8a78"/>
<rect x="316.00" y="222.86" width="6.80" height="4.93" fill="#a49b72"/>
<rect x="322.75" y="222.86" width="6.80" height="4.93" fill="#85827a"/>
<rect x="329.50" y="222.86" width="6.80" height="4.93" fill="#8f8a78"/>
<rect x="336.25" y="222.86" width="6.80" height="4.93" fill="#8f8a78"/>
<rect x="343.00" y="222.86" width="6.80" height="4.93" fill="#8f8a78"/>
<rect x="349.75" y="222.86" width="6.80" height="4.93" fill="#8f8a78"/>
<rect x="356.50" y="222.86" width="6.80" height="4.93" fill="#8f8a78"/>
<rect x="363.25" y="222.86" width="6.80" height="4.93" fill="#1c2456"/>
<rect x="370.00" y="222.86" width="6.80" height="4.93" fill="#8f8a78"/>
<rect x="376.75" y="222.86" width="6.80" height="4.93" fill="#85827a"/>
<rect x="383.50" y="222.86" width="6.80" height="4.93" fill="#8f8a78"/>
<rect x="390.25" y="222.86" width="6.80" height="4.93" fill="#8f8a78"/>
<rect x="397.00" y="222.86" width="6.80" height="4.93" fill="#85827a"/>
<rect x="403.75" y="222.86" width="6.80" height="4.93" fill="#85827a"/>
<rect x="410.50" y="222.86" width="6.80" height="4.93" fill="#85827a"/>
<rect x="417.25" y="222.86" width="6.80" height="4.93" fill="#85827a"/>
<rect x="424.00" y="222.86" width="6.80" height="4.93" fill="#85827a"/>
<rect x="430.75" y="222.86" width="6.80" height="4.93" fill="#85827a"/>
<rect x="437.50" y="222.86" width="6.80" height="4.93" fill="#85827a"/>
<rect x="444.25" y="222.86" width="6.80" height="4.93" fill="#85827a"/>
<rect x="451.00" y="222.86" width="6.80" height="4.93" fill="#8f8a78"/>
<rect x="457.75" y="222.86" width="6.80" height="4.93" fill="#8f8a78"/>
<rect x="464.50" y="222.86" width="6.80" height="4.93" fill="#8f8a78"/>
<rect x="471.25" y="222.86" width="6.80" height="4.93" fill="#8f8a78"/>
<rect x="478.00" y="222.86" width="6.80" height="4.93" fill="#8f8a78"/>
<rect x="484.75" y="222.86" width="6.80" height="4.93" fill="#8f8a78"/>
<rect x="491.50" y="222.86" width="6.80" height="4.93" fill="#8f8a78"/>
<rect x="498.25" y="222.86" width="6.80" height="4.93" fill="#1c2456"/>
<rect x="289.00" y="227.74" width="6.80" height="4.93" fill="#4c5276"/>
<rect x="295.75" y="227.74" width="6.80" height="4.93" fill="#5f6070"/>
<rect x="302.50" y="227.74" width="6.80" height="4.93" fill="#8f8a78"/>
<rect x="309.25" y="227.74" width="6.80" height="4.93" fill="#8f8a78"/>
<rect x="316.00" y="227.74" width="6.80" height="4.93" fill="#5f6070"/>
<rect x="322.75" y="227.74" width="6.80" height="4.93" fill="#a49b72"/>
<rect x="329.50" y="227.74" width="6.80" height="4.93" fill="#2e3c7c"/>
<rect x="336.25" y="227.74" width="6.80" height="4.93" fill="#85827a"/>
<rect x="343.00" y="227.74" width="6.80" height="4.93" fill="#a49b72"/>
<rect x="349.75" y="227.74" width="6.80" height="4.93" fill="#a49b72"/>
<rect x="356.50" y="227.74" width="6.80" height="4.93" fill="#8f8a78"/>
<rect x="363.25" y="227.74" width="6.80" height="4.93" fill="#85827a"/>
<rect x="370.00" y="227.74" width="6.80" height="4.93" fill="#8f8a78"/>
<rect x="376.75" y="227.74" width="6.80" height="4.93" fill="#a49b72"/>
<rect x="383.50" y="227.74" width="6.80" height="4.93" fill="#8f8a78"/>
<rect x="390.25" y="227.74" width="6.80" height="4.93" fill="#8f8a78"/>
<rect x="397.00" y="227.74" width="6.80" height="4.93" fill="#8f8a78"/>
<rect x="403.75" y="227.74" width="6.80" height="4.93" fill="#8f8a78"/>
<rect x="410.50" y="227.74" width="6.80" height="4.93" fill="#a49b72"/>
<rect x="417.25" y="227.74" width="6.80" height="4.93" fill="#8f8a78"/>
<rect x="424.00" y="227.74" width="6.80" height="4.93" fill="#85827a"/>
<rect x="430.75" y="227.74" width="6.80" height="4.93" fill="#8f8a78"/>
<rect x="437.50" y="227.74" width="6.80" height="4.93" fill="#85827a"/>
<rect x="444.25" y="227.74" width="6.80" height="4.93" fill="#8f8a78"/>
<rect x="451.00" y="227.74" width="6.80" height="4.93" fill="#8f8a78"/>
<rect x="457.75" y="227.74" width="6.80" height="4.93" fill="#4c5276"/>
<rect x="464.50" y="227.74" width="6.80" height="4.93" fill="#8f8a78"/>
<rect x="471.25" y="227.74" width="6.80" height="4.93" fill="#8f8a78"/>
<rect x="478.00" y="227.74" width="6.80" height="4.93" fill="#5f6070"/>
<rect x="484.75" y="227.74" width="6.80" height="4.93" fill="#2e3c7c"/>
<rect x="491.50" y="227.74" width="6.80" height="4.93" fill="#2e3c7c"/>
<rect x="498.25" y="227.74" width="6.80" height="4.93" fill="#8f8a78"/>
<rect x="289.00" y="232.62" width="6.80" height="4.93" fill="#5f6070"/>
<rect x="295.75" y="232.62" width="6.80" height="4.93" fill="#85827a"/>
<rect x="302.50" y="232.62" width="6.80" height="4.93" fill="#737279"/>
<rect x="309.25" y="232.62" width="6.80" height="4.93" fill="#8f8a78"/>
<rect x="316.00" y="232.62" width="6.80" height="4.93" fill="#5f6070"/>
<rect x="322.75" y="232.62" width="6.80" height="4.93" fill="#85827a"/>
<rect x="329.50" y="232.62" width="6.80" height="4.93" fill="#737279"/>
<rect x="336.25" y="232.62" width="6.80" height="4.93" fill="#85827a"/>
<rect x="343.00" y="232.62" width="6.80" height="4.93" fill="#85827a"/>
<rect x="349.75" y="232.62" width="6.80" height="4.93" fill="#a49b72"/>
<rect x="356.50" y="232.62" width="6.80" height="4.93" fill="#a49b72"/>
<rect x="363.25" y="232.62" width="6.80" height="4.93" fill="#8f8a78"/>
<rect x="370.00" y="232.62" width="6.80" height="4.93" fill="#737279"/>
<rect x="376.75" y="232.62" width="6.80" height="4.93" fill="#5f6070"/>
<rect x="383.50" y="232.62" width="6.80" height="4.93" fill="#85827a"/>
<rect x="390.25" y="232.62" width="6.80" height="4.93" fill="#5f6070"/>
<rect x="397.00" y="232.62" width="6.80" height="4.93" fill="#737279"/>
<rect x="403.75" y="232.62" width="6.80" height="4.93" fill="#d4be56"/>
<rect x="410.50" y="232.62" width="6.80" height="4.93" fill="#8f8a78"/>
<rect x="417.25" y="232.62" width="6.80" height="4.93" fill="#737279"/>
<rect x="424.00" y="232.62" width="6.80" height="4.93" fill="#8f8a78"/>
<rect x="430.75" y="232.62" width="6.80" height="4.93" fill="#85827a"/>
<rect x="437.50" y="232.62" width="6.80" height="4.93" fill="#a49b72"/>
<rect x="444.25" y="232.62" width="6.80" height="4.93" fill="#85827a"/>
<rect x="451.00" y="232.62" width="6.80" height="4.93" fill="#8f8a78"/>
<rect x="457.75" y="232.62" width="6.80" height="4.93" fill="#4c5276"/>
<rect x="464.50" y="232.62" width="6.80" height="4.93" fill="#8f8a78"/>
<rect x="471.25" y="232.62" width="6.80" height="4.93" fill="#8f8a78"/>
<rect x="478.00" y="232.62" width="6.80" height="4.93" fill="#4c5276"/>
<rect x="484.75" y="232.62" width="6.80" height="4.93" fill="#5f6070"/>
<rect x="491.50" y="232.62" width="6.80" height="4.93" fill="#5f6070"/>
<rect x="498.25" y="232.62" width="6.80" height="4.93" fill="#85827a"/>
<rect x="289.00" y="237.50" width="6.80" height="4.93" fill="#8f8a78"/>
<rect x="295.75" y="237.50" width="6.80" height="4.93" fill="#8f8a78"/>
<rect x="302.50" y="237.50" width="6.80" height="4.93" fill="#8f8a78"/>
<rect x="309.25" y="237.50" width="6.80" height="4.93" fill="#85827a"/>
<rect x="316.00" y="237.50" width="6.80" height="4.93" fill="#8f8a78"/>
<rect x="322.75" y="237.50" width="6.80" height="4.93" fill="#8f8a78"/>
<rect x="329.50" y="237.50" width="6.80" height="4.93" fill="#8f8a78"/>
<rect x="336.25" y="237.50" width="6.80" height="4.93" fill="#8f8a78"/>
<rect x="343.00" y="237.50" width="6.80" height="4.93" fill="#85827a"/>
<rect x="349.75" y="237.50" width="6.80" height="4.93" fill="#85827a"/>
<rect x="356.50" y="237.50" width="6.80" height="4.93" fill="#8f8a78"/>
<rect x="363.25" y="237.50" width="6.80" height="4.93" fill="#8f8a78"/>
<rect x="370.00" y="237.50" width="6.80" height="4.93" fill="#8f8a78"/>
<rect x="376.75" y="237.50" width="6.80" height="4.93" fill="#8f8a78"/>
<rect x="383.50" y="237.50" width="6.80" height="4.93" fill="#85827a"/>
<rect x="390.25" y="237.50" width="6.80" height="4.93" fill="#85827a"/>
<rect x="397.00" y="237.50" width="6.80" height="4.93" fill="#85827a"/>
<rect x="403.75" y="237.50" width="6.80" height="4.93" fill="#85827a"/>
<rect x="410.50" y="237.50" width="6.80" height="4.93" fill="#85827a"/>
<rect x="417.25" y="237.50" width="6.80" height="4.93" fill="#85827a"/>
<rect x="424.00" y="237.50" width="6.80" height="4.93" fill="#85827a"/>
<rect x="430.75" y="237.50" width="6.80" height="4.93" fill="#85827a"/>
<rect x="437.50" y="237.50" width="6.80" height="4.93" fill="#85827a"/>
<rect x="444.25" y="237.50" width="6.80" height="4.93" fill="#85827a"/>
<rect x="451.00" y="237.50" width="6.80" height="4.93" fill="#8f8a78"/>
<rect x="457.75" y="237.50" width="6.80" height="4.93" fill="#232f72"/>
<rect x="464.50" y="237.50" width="6.80" height="4.93" fill="#8f8a78"/>
<rect x="471.25" y="237.50" width="6.80" height="4.93" fill="#8f8a78"/>
<rect x="478.00" y="237.50" width="6.80" height="4.93" fill="#8f8a78"/>
<rect x="484.75" y="237.50" width="6.80" height="4.93" fill="#1c2456"/>
<rect x="491.50" y="237.50" width="6.80" height="4.93" fill="#85827a"/>
<rect x="498.25" y="237.50" width="6.80" height="4.93" fill="#85827a"/>
<rect x="289.00" y="242.38" width="6.80" height="4.93" fill="#737279"/>
<rect x="295.75" y="242.38" width="6.80" height="4.93" fill="#737279"/>
<rect x="302.50" y="242.38" width="6.80" height="4.93" fill="#85827a"/>
<rect x="309.25" y="242.38" width="6.80" height="4.93" fill="#bcac66"/>
<rect x="316.00" y="242.38" width="6.80" height="4.93" fill="#85827a"/>
<rect x="322.75" y="242.38" width="6.80" height="4.93" fill="#a49b72"/>
<rect x="329.50" y="242.38" width="6.80" height="4.93" fill="#a49b72"/>
<rect x="336.25" y="242.38" width="6.80" height="4.93" fill="#8f8a78"/>
<rect x="343.00" y="242.38" width="6.80" height="4.93" fill="#a49b72"/>
<rect x="349.75" y="242.38" width="6.80" height="4.93" fill="#85827a"/>
<rect x="356.50" y="242.38" width="6.80" height="4.93" fill="#85827a"/>
<rect x="363.25" y="242.38" width="6.80" height="4.93" fill="#737279"/>
<rect x="370.00" y="242.38" width="6.80" height="4.93" fill="#737279"/>
<rect x="376.75" y="242.38" width="6.80" height="4.93" fill="#737279"/>
<rect x="383.50" y="242.38" width="6.80" height="4.93" fill="#737279"/>
<rect x="390.25" y="242.38" width="6.80" height="4.93" fill="#737279"/>
<rect x="397.00" y="242.38" width="6.80" height="4.93" fill="#85827a"/>
<rect x="403.75" y="242.38" width="6.80" height="4.93" fill="#85827a"/>
<rect x="410.50" y="242.38" width="6.80" height="4.93" fill="#8f8a78"/>
<rect x="417.25" y="242.38" width="6.80" height="4.93" fill="#5f6070"/>
<rect x="424.00" y="242.38" width="6.80" height="4.93" fill="#5f6070"/>
<rect x="430.75" y="242.38" width="6.80" height="4.93" fill="#5f6070"/>
<rect x="437.50" y="242.38" width="6.80" height="4.93" fill="#85827a"/>
<rect x="444.25" y="242.38" width="6.80" height="4.93" fill="#85827a"/>
<rect x="451.00" y="242.38" width="6.80" height="4.93" fill="#8f8a78"/>
<rect x="457.75" y="242.38" width="6.80" height="4.93" fill="#737279"/>
<rect x="464.50" y="242.38" width="6.80" height="4.93" fill="#f8de40"/>
<rect x="471.25" y="242.38" width="6.80" height="4.93" fill="#85827a"/>
<rect x="478.00" y="242.38" width="6.80" height="4.93" fill="#737279"/>
<rect x="484.75" y="242.38" width="6.80" height="4.93" fill="#4c5276"/>
<rect x="491.50" y="242.38" width="6.80" height="4.93" fill="#737279"/>
<rect x="498.25" y="242.38" width="6.80" height="4.93" fill="#4c5276"/>
<rect x="289.00" y="247.26" width="6.80" height="4.93" fill="#8f8a78"/>
<rect x="295.75" y="247.26" width="6.80" height="4.93" fill="#8f8a78"/>
<rect x="302.50" y="247.26" width="6.80" height="4.93" fill="#85827a"/>
<rect x="309.25" y="247.26" width="6.80" height="4.93" fill="#8f8a78"/>
<rect x="316.00" y="247.26" width="6.80" height="4.93" fill="#232f72"/>
<rect x="322.75" y="247.26" width="6.80" height="4.93" fill="#8f8a78"/>
<rect x="329.50" y="247.26" width="6.80" height="4.93" fill="#85827a"/>
<rect x="336.25" y="247.26" width="6.80" height="4.93" fill="#232f72"/>
<rect x="343.00" y="247.26" width="6.80" height="4.93" fill="#8f8a78"/>
<rect x="349.75" y="247.26" width="6.80" height="4.93" fill="#8f8a78"/>
<rect x="356.50" y="247.26" width="6.80" height="4.93" fill="#8f8a78"/>
<rect x="363.25" y="247.26" width="6.80" height="4.93" fill="#232f72"/>
<rect x="370.00" y="247.26" width="6.80" height="4.93" fill="#8f8a78"/>
<rect x="376.75" y="247.26" width="6.80" height="4.93" fill="#8f8a78"/>
<rect x="383.50" y="247.26" width="6.80" height="4.93" fill="#8f8a78"/>
<rect x="390.25" y="247.26" width="6.80" height="4.93" fill="#8f8a78"/>
<rect x="397.00" y="247.26" width="6.80" height="4.93" fill="#85827a"/>
<rect x="403.75" y="247.26" width="6.80" height="4.93" fill="#85827a"/>
<rect x="410.50" y="247.26" width="6.80" height="4.93" fill="#85827a"/>
<rect x="417.25" y="247.26" width="6.80" height="4.93" fill="#85827a"/>
<rect x="424.00" y="247.26" width="6.80" height="4.93" fill="#85827a"/>
<rect x="430.75" y="247.26" width="6.80" height="4.93" fill="#85827a"/>
<rect x="437.50" y="247.26" width="6.80" height="4.93" fill="#85827a"/>
<rect x="444.25" y="247.26" width="6.80" height="4.93" fill="#85827a"/>
<rect x="451.00" y="247.26" width="6.80" height="4.93" fill="#8f8a78"/>
<rect x="457.75" y="247.26" width="6.80" height="4.93" fill="#8f8a78"/>
<rect x="464.50" y="247.26" width="6.80" height="4.93" fill="#8f8a78"/>
<rect x="471.25" y="247.26" width="6.80" height="4.93" fill="#8f8a78"/>
<rect x="478.00" y="247.26" width="6.80" height="4.93" fill="#8f8a78"/>
<rect x="484.75" y="247.26" width="6.80" height="4.93" fill="#8f8a78"/>
<rect x="491.50" y="247.26" width="6.80" height="4.93" fill="#8f8a78"/>
<rect x="498.25" y="247.26" width="6.80" height="4.93" fill="#85827a"/>
<rect x="289.00" y="252.14" width="6.80" height="4.93" fill="#8f8a78"/>
<rect x="295.75" y="252.14" width="6.80" height="4.93" fill="#85827a"/>
<rect x="302.50" y="252.14" width="6.80" height="4.93" fill="#8f8a78"/>
<rect x="309.25" y="252.14" width="6.80" height="4.93" fill="#8f8a78"/>
<rect x="316.00" y="252.14" width="6.80" height="4.93" fill="#2e3c7c"/>
<rect x="322.75" y="252.14" width="6.80" height="4.93" fill="#8f8a78"/>
<rect x="329.50" y="252.14" width="6.80" height="4.93" fill="#8f8a78"/>
<rect x="336.25" y="252.14" width="6.80" height="4.93" fill="#8f8a78"/>
<rect x="343.00" y="252.14" width="6.80" height="4.93" fill="#8f8a78"/>
<rect x="349.75" y="252.14" width="6.80" height="4.93" fill="#85827a"/>
<rect x="356.50" y="252.14" width="6.80" height="4.93" fill="#8f8a78"/>
<rect x="363.25" y="252.14" width="6.80" height="4.93" fill="#85827a"/>
<rect x="370.00" y="252.14" width="6.80" height="4.93" fill="#85827a"/>
<rect x="376.75" y="252.14" width="6.80" height="4.93" fill="#8f8a78"/>
<rect x="383.50" y="252.14" width="6.80" height="4.93" fill="#8f8a78"/>
<rect x="390.25" y="252.14" width="6.80" height="4.93" fill="#85827a"/>
<rect x="397.00" y="252.14" width="6.80" height="4.93" fill="#85827a"/>
<rect x="403.75" y="252.14" width="6.80" height="4.93" fill="#85827a"/>
<rect x="410.50" y="252.14" width="6.80" height="4.93" fill="#85827a"/>
<rect x="417.25" y="252.14" width="6.80" height="4.93" fill="#8f8a78"/>
<rect x="424.00" y="252.14" width="6.80" height="4.93" fill="#85827a"/>
<rect x="430.75" y="252.14" width="6.80" height="4.93" fill="#85827a"/>
<rect x="437.50" y="252.14" width="6.80" height="4.93" fill="#85827a"/>
<rect x="444.25" y="252.14" width="6.80" height="4.93" fill="#85827a"/>
<rect x="451.00" y="252.14" width="6.80" height="4.93" fill="#8f8a78"/>
<rect x="457.75" y="252.14" width="6.80" height="4.93" fill="#85827a"/>
<rect x="464.50" y="252.14" width="6.80" height="4.93" fill="#8f8a78"/>
<rect x="471.25" y="252.14" width="6.80" height="4.93" fill="#8f8a78"/>
<rect x="478.00" y="252.14" width="6.80" height="4.93" fill="#8f8a78"/>
<rect x="484.75" y="252.14" width="6.80" height="4.93" fill="#232f72"/>
<rect x="491.50" y="252.14" width="6.80" height="4.93" fill="#232f72"/>
<rect x="498.25" y="252.14" width="6.80" height="4.93" fill="#8f8a78"/>
<rect x="289.00" y="257.02" width="6.80" height="4.93" fill="#8f8a78"/>
<rect x="295.75" y="257.02" width="6.80" height="4.93" fill="#737279"/>
<rect x="302.50" y="257.02" width="6.80" height="4.93" fill="#4c5276"/>
<rect x="309.25" y="257.02" width="6.80" height="4.93" fill="#737279"/>
<rect x="316.00" y="257.02" width="6.80" height="4.93" fill="#4c5276"/>
<rect x="322.75" y="257.02" width="6.80" height="4.93" fill="#4c5276"/>
<rect x="329.50" y="257.02" width="6.80" height="4.93" fill="#2e3c7c"/>
<rect x="336.25" y="257.02" width="6.80" height="4.93" fill="#737279"/>
<rect x="343.00" y="257.02" width="6.80" height="4.93" fill="#737279"/>
<rect x="349.75" y="257.02" width="6.80" height="4.93" fill="#8f8a78"/>
<rect x="356.50" y="257.02" width="6.80" height="4.93" fill="#8f8a78"/>
<rect x="363.25" y="257.02" width="6.80" height="4.93" fill="#8f8a78"/>
<rect x="370.00" y="257.02" width="6.80" height="4.93" fill="#8f8a78"/>
<rect x="376.75" y="257.02" width="6.80" height="4.93" fill="#8f8a78"/>
<rect x="383.50" y="257.02" width="6.80" height="4.93" fill="#737279"/>
<rect x="390.25" y="257.02" width="6.80" height="4.93" fill="#8f8a78"/>
<rect x="397.00" y="257.02" width="6.80" height="4.93" fill="#85827a"/>
<rect x="403.75" y="257.02" width="6.80" height="4.93" fill="#a49b72"/>
<rect x="410.50" y="257.02" width="6.80" height="4.93" fill="#a49b72"/>
<rect x="417.25" y="257.02" width="6.80" height="4.93" fill="#85827a"/>
<rect x="424.00" y="257.02" width="6.80" height="4.93" fill="#85827a"/>
<rect x="430.75" y="257.02" width="6.80" height="4.93" fill="#8f8a78"/>
<rect x="437.50" y="257.02" width="6.80" height="4.93" fill="#8f8a78"/>
<rect x="444.25" y="257.02" width="6.80" height="4.93" fill="#85827a"/>
<rect x="451.00" y="257.02" width="6.80" height="4.93" fill="#a49b72"/>
<rect x="457.75" y="257.02" width="6.80" height="4.93" fill="#4c5276"/>
<rect x="464.50" y="257.02" width="6.80" height="4.93" fill="#8f8a78"/>
<rect x="471.25" y="257.02" width="6.80" height="4.93" fill="#8f8a78"/>
<rect x="478.00" y="257.02" width="6.80" height="4.93" fill="#8f8a78"/>
<rect x="484.75" y="257.02" width="6.80" height="4.93" fill="#2e3c7c"/>
<rect x="491.50" y="257.02" width="6.80" height="4.93" fill="#8f8a78"/>
<rect x="498.25" y="257.02" width="6.80" height="4.93" fill="#8f8a78"/>
<rect x="289.00" y="261.90" width="6.80" height="4.93" fill="#8f8a78"/>
<rect x="295.75" y="261.90" width="6.80" height="4.93" fill="#a49b72"/>
<rect x="302.50" y="261.90" width="6.80" height="4.93" fill="#737279"/>
<rect x="309.25" y="261.90" width="6.80" height="4.93" fill="#8f8a78"/>
<rect x="316.00" y="261.90" width="6.80" height="4.93" fill="#232f72"/>
<rect x="322.75" y="261.90" width="6.80" height="4.93" fill="#737279"/>
<rect x="329.50" y="261.90" width="6.80" height="4.93" fill="#2e3c7c"/>
<rect x="336.25" y="261.90" width="6.80" height="4.93" fill="#737279"/>
<rect x="343.00" y="261.90" width="6.80" height="4.93" fill="#8f8a78"/>
<rect x="349.75" y="261.90" width="6.80" height="4.93" fill="#8f8a78"/>
<rect x="356.50" y="261.90" width="6.80" height="4.93" fill="#8f8a78"/>
<rect x="363.25" y="261.90" width="6.80" height="4.93" fill="#737279"/>
<rect x="370.00" y="261.90" width="6.80" height="4.93" fill="#8f8a78"/>
<rect x="376.75" y="261.90" width="6.80" height="4.93" fill="#8f8a78"/>
<rect x="383.50" y="261.90" width="6.80" height="4.93" fill="#8f8a78"/>
<rect x="390.25" y="261.90" width="6.80" height="4.93" fill="#8f8a78"/>
<rect x="397.00" y="261.90" width="6.80" height="4.93" fill="#85827a"/>
<rect x="403.75" y="261.90" width="6.80" height="4.93" fill="#85827a"/>
<rect x="410.50" y="261.90" width="6.80" height="4.93" fill="#8f8a78"/>
<rect x="417.25" y="261.90" width="6.80" height="4.93" fill="#85827a"/>
<rect x="424.00" y="261.90" width="6.80" height="4.93" fill="#85827a"/>
<rect x="430.75" y="261.90" width="6.80" height="4.93" fill="#85827a"/>
<rect x="437.50" y="261.90" width="6.80" height="4.93" fill="#5f6070"/>
<rect x="444.25" y="261.90" width="6.80" height="4.93" fill="#85827a"/>
<rect x="451.00" y="261.90" width="6.80" height="4.93" fill="#a49b72"/>
<rect x="457.75" y="261.90" width="6.80" height="4.93" fill="#4c5276"/>
<rect x="464.50" y="261.90" width="6.80" height="4.93" fill="#8f8a78"/>
<rect x="471.25" y="261.90" width="6.80" height="4.93" fill="#8f8a78"/>
<rect x="478.00" y="261.90" width="6.80" height="4.93" fill="#8f8a78"/>
<rect x="484.75" y="261.90" width="6.80" height="4.93" fill="#2e3c7c"/>
<rect x="491.50" y="261.90" width="6.80" height="4.93" fill="#5f6070"/>
<rect x="498.25" y="261.90" width="6.80" height="4.93" fill="#8f8a78"/>
<rect x="289.00" y="266.78" width="6.80" height="4.93" fill="#737279"/>
<rect x="295.75" y="266.78" width="6.80" height="4.93" fill="#737279"/>
<rect x="302.50" y="266.78" width="6.80" height="4.93" fill="#85827a"/>
<rect x="309.25" y="266.78" width="6.80" height="4.93" fill="#a49b72"/>
<rect x="316.00" y="266.78" width="6.80" height="4.93" fill="#5f6070"/>
<rect x="322.75" y="266.78" width="6.80" height="4.93" fill="#85827a"/>
<rect x="329.50" y="266.78" width="6.80" height="4.93" fill="#737279"/>
<rect x="336.25" y="266.78" width="6.80" height="4.93" fill="#737279"/>
<rect x="343.00" y="266.78" width="6.80" height="4.93" fill="#737279"/>
<rect x="349.75" y="266.78" width="6.80" height="4.93" fill="#f8de40"/>
<rect x="356.50" y="266.78" width="6.80" height="4.93" fill="#737279"/>
<rect x="363.25" y="266.78" width="6.80" height="4.93" fill="#737279"/>
<rect x="370.00" y="266.78" width="6.80" height="4.93" fill="#737279"/>
<rect x="376.75" y="266.78" width="6.80" height="4.93" fill="#737279"/>
<rect x="383.50" y="266.78" width="6.80" height="4.93" fill="#737279"/>
<rect x="390.25" y="266.78" width="6.80" height="4.93" fill="#737279"/>
<rect x="397.00" y="266.78" width="6.80" height="4.93" fill="#737279"/>
<rect x="403.75" y="266.78" width="6.80" height="4.93" fill="#85827a"/>
<rect x="410.50" y="266.78" width="6.80" height="4.93" fill="#737279"/>
<rect x="417.25" y="266.78" width="6.80" height="4.93" fill="#737279"/>
<rect x="424.00" y="266.78" width="6.80" height="4.93" fill="#737279"/>
<rect x="430.75" y="266.78" width="6.80" height="4.93" fill="#737279"/>
<rect x="437.50" y="266.78" width="6.80" height="4.93" fill="#4c5276"/>
<rect x="444.25" y="266.78" width="6.80" height="4.93" fill="#737279"/>
<rect x="451.00" y="266.78" width="6.80" height="4.93" fill="#85827a"/>
<rect x="457.75" y="266.78" width="6.80" height="4.93" fill="#85827a"/>
<rect x="464.50" y="266.78" width="6.80" height="4.93" fill="#d4be56"/>
<rect x="471.25" y="266.78" width="6.80" height="4.93" fill="#5f6070"/>
<rect x="478.00" y="266.78" width="6.80" height="4.93" fill="#a49b72"/>
<rect x="484.75" y="266.78" width="6.80" height="4.93" fill="#232f72"/>
<rect x="491.50" y="266.78" width="6.80" height="4.93" fill="#4c5276"/>
<rect x="498.25" y="266.78" width="6.80" height="4.93" fill="#8f8a78"/>
<rect x="289.00" y="271.66" width="6.80" height="4.93" fill="#737279"/>
<rect x="295.75" y="271.66" width="6.80" height="4.93" fill="#737279"/>
<rect x="302.50" y="271.66" width="6.80" height="4.93" fill="#737279"/>
<rect x="309.25" y="271.66" width="6.80" height="4.93" fill="#85827a"/>
<rect x="316.00" y="271.66" width="6.80" height="4.93" fill="#85827a"/>
<rect x="322.75" y="271.66" width="6.80" height="4.93" fill="#737279"/>
<rect x="329.50" y="271.66" width="6.80" height="4.93" fill="#737279"/>
<rect x="336.25" y="271.66" width="6.80" height="4.93" fill="#5f6070"/>
<rect x="343.00" y="271.66" width="6.80" height="4.93" fill="#5f6070"/>
<rect x="349.75" y="271.66" width="6.80" height="4.93" fill="#f8de40"/>
<rect x="356.50" y="271.66" width="6.80" height="4.93" fill="#85827a"/>
<rect x="363.25" y="271.66" width="6.80" height="4.93" fill="#5f6070"/>
<rect x="370.00" y="271.66" width="6.80" height="4.93" fill="#5f6070"/>
<rect x="376.75" y="271.66" width="6.80" height="4.93" fill="#5f6070"/>
<rect x="383.50" y="271.66" width="6.80" height="4.93" fill="#5f6070"/>
<rect x="390.25" y="271.66" width="6.80" height="4.93" fill="#85827a"/>
<rect x="397.00" y="271.66" width="6.80" height="4.93" fill="#5f6070"/>
<rect x="403.75" y="271.66" width="6.80" height="4.93" fill="#737279"/>
<rect x="410.50" y="271.66" width="6.80" height="4.93" fill="#737279"/>
<rect x="417.25" y="271.66" width="6.80" height="4.93" fill="#737279"/>
<rect x="424.00" y="271.66" width="6.80" height="4.93" fill="#737279"/>
<rect x="430.75" y="271.66" width="6.80" height="4.93" fill="#85827a"/>
<rect x="437.50" y="271.66" width="6.80" height="4.93" fill="#bcac66"/>
<rect x="444.25" y="271.66" width="6.80" height="4.93" fill="#737279"/>
<rect x="451.00" y="271.66" width="6.80" height="4.93" fill="#5f6070"/>
<rect x="457.75" y="271.66" width="6.80" height="4.93" fill="#a49b72"/>
<rect x="464.50" y="271.66" width="6.80" height="4.93" fill="#a49b72"/>
<rect x="471.25" y="271.66" width="6.80" height="4.93" fill="#5f6070"/>
<rect x="478.00" y="271.66" width="6.80" height="4.93" fill="#85827a"/>
<rect x="484.75" y="271.66" width="6.80" height="4.93" fill="#5f6070"/>
<rect x="491.50" y="271.66" width="6.80" height="4.93" fill="#5f6070"/>
<rect x="498.25" y="271.66" width="6.80" height="4.93" fill="#bcac66"/>
<rect x="289.00" y="276.54" width="6.80" height="4.93" fill="#737279"/>
<rect x="295.75" y="276.54" width="6.80" height="4.93" fill="#85827a"/>
<rect x="302.50" y="276.54" width="6.80" height="4.93" fill="#737279"/>
<rect x="309.25" y="276.54" width="6.80" height="4.93" fill="#737279"/>
<rect x="316.00" y="276.54" width="6.80" height="4.93" fill="#85827a"/>
<rect x="322.75" y="276.54" width="6.80" height="4.93" fill="#85827a"/>
<rect x="329.50" y="276.54" width="6.80" height="4.93" fill="#737279"/>
<rect x="336.25" y="276.54" width="6.80" height="4.93" fill="#85827a"/>
<rect x="343.00" y="276.54" width="6.80" height="4.93" fill="#5f6070"/>
<rect x="349.75" y="276.54" width="6.80" height="4.93" fill="#a49b72"/>
<rect x="356.50" y="276.54" width="6.80" height="4.93" fill="#a49b72"/>
<rect x="363.25" y="276.54" width="6.80" height="4.93" fill="#5f6070"/>
<rect x="370.00" y="276.54" width="6.80" height="4.93" fill="#a49b72"/>
<rect x="376.75" y="276.54" width="6.80" height="4.93" fill="#8f8a78"/>
<rect x="383.50" y="276.54" width="6.80" height="4.93" fill="#5f6070"/>
<rect x="390.25" y="276.54" width="6.80" height="4.93" fill="#a49b72"/>
<rect x="397.00" y="276.54" width="6.80" height="4.93" fill="#8f8a78"/>
<rect x="403.75" y="276.54" width="6.80" height="4.93" fill="#8f8a78"/>
<rect x="410.50" y="276.54" width="6.80" height="4.93" fill="#85827a"/>
<rect x="417.25" y="276.54" width="6.80" height="4.93" fill="#8f8a78"/>
<rect x="424.00" y="276.54" width="6.80" height="4.93" fill="#8f8a78"/>
<rect x="430.75" y="276.54" width="6.80" height="4.93" fill="#8f8a78"/>
<rect x="437.50" y="276.54" width="6.80" height="4.93" fill="#2e3c7c"/>
<rect x="444.25" y="276.54" width="6.80" height="4.93" fill="#8f8a78"/>
<rect x="451.00" y="276.54" width="6.80" height="4.93" fill="#85827a"/>
<rect x="457.75" y="276.54" width="6.80" height="4.93" fill="#2e3c7c"/>
<rect x="464.50" y="276.54" width="6.80" height="4.93" fill="#8f8a78"/>
<rect x="471.25" y="276.54" width="6.80" height="4.93" fill="#8f8a78"/>
<rect x="478.00" y="276.54" width="6.80" height="4.93" fill="#8f8a78"/>
<rect x="484.75" y="276.54" width="6.80" height="4.93" fill="#5f6070"/>
<rect x="491.50" y="276.54" width="6.80" height="4.93" fill="#5f6070"/>
<rect x="498.25" y="276.54" width="6.80" height="4.93" fill="#737279"/>
<rect x="289.00" y="281.42" width="6.80" height="4.93" fill="#85827a"/>
<rect x="295.75" y="281.42" width="6.80" height="4.93" fill="#85827a"/>
<rect x="302.50" y="281.42" width="6.80" height="4.93" fill="#5f6070"/>
<rect x="309.25" y="281.42" width="6.80" height="4.93" fill="#737279"/>
<rect x="316.00" y="281.42" width="6.80" height="4.93" fill="#4c5276"/>
<rect x="322.75" y="281.42" width="6.80" height="4.93" fill="#5f6070"/>
<rect x="329.50" y="281.42" width="6.80" height="4.93" fill="#a49b72"/>
<rect x="336.25" y="281.42" width="6.80" height="4.93" fill="#85827a"/>
<rect x="343.00" y="281.42" width="6.80" height="4.93" fill="#5f6070"/>
<rect x="349.75" y="281.42" width="6.80" height="4.93" fill="#d4be56"/>
<rect x="356.50" y="281.42" width="6.80" height="4.93" fill="#5f6070"/>
<rect x="363.25" y="281.42" width="6.80" height="4.93" fill="#85827a"/>
<rect x="370.00" y="281.42" width="6.80" height="4.93" fill="#8f8a78"/>
<rect x="376.75" y="281.42" width="6.80" height="4.93" fill="#8f8a78"/>
<rect x="383.50" y="281.42" width="6.80" height="4.93" fill="#737279"/>
<rect x="390.25" y="281.42" width="6.80" height="4.93" fill="#5f6070"/>
<rect x="397.00" y="281.42" width="6.80" height="4.93" fill="#8f8a78"/>
<rect x="403.75" y="281.42" width="6.80" height="4.93" fill="#85827a"/>
<rect x="410.50" y="281.42" width="6.80" height="4.93" fill="#85827a"/>
<rect x="417.25" y="281.42" width="6.80" height="4.93" fill="#85827a"/>
<rect x="424.00" y="281.42" width="6.80" height="4.93" fill="#85827a"/>
<rect x="430.75" y="281.42" width="6.80" height="4.93" fill="#85827a"/>
<rect x="437.50" y="281.42" width="6.80" height="4.93" fill="#4c5276"/>
<rect x="444.25" y="281.42" width="6.80" height="4.93" fill="#8f8a78"/>
<rect x="451.00" y="281.42" width="6.80" height="4.93" fill="#85827a"/>
<rect x="457.75" y="281.42" width="6.80" height="4.93" fill="#5f6070"/>
<rect x="464.50" y="281.42" width="6.80" height="4.93" fill="#d4be56"/>
<rect x="471.25" y="281.42" width="6.80" height="4.93" fill="#737279"/>
<rect x="478.00" y="281.42" width="6.80" height="4.93" fill="#8f8a78"/>
<rect x="484.75" y="281.42" width="6.80" height="4.93" fill="#5f6070"/>
<rect x="491.50" y="281.42" width="6.80" height="4.93" fill="#5f6070"/>
<rect x="498.25" y="281.42" width="6.80" height="4.93" fill="#8f8a78"/>
<rect x="289.00" y="286.30" width="6.80" height="4.93" fill="#5f6070"/>
<rect x="295.75" y="286.30" width="6.80" height="4.93" fill="#5f6070"/>
<rect x="302.50" y="286.30" width="6.80" height="4.93" fill="#5f6070"/>
<rect x="309.25" y="286.30" width="6.80" height="4.93" fill="#737279"/>
<rect x="316.00" y="286.30" width="6.80" height="4.93" fill="#5f6070"/>
<rect x="322.75" y="286.30" width="6.80" height="4.93" fill="#8f8a78"/>
<rect x="329.50" y="286.30" width="6.80" height="4.93" fill="#737279"/>
<rect x="336.25" y="286.30" width="6.80" height="4.93" fill="#5f6070"/>
<rect x="343.00" y="286.30" width="6.80" height="4.93" fill="#5f6070"/>
<rect x="349.75" y="286.30" width="6.80" height="4.93" fill="#d4be56"/>
<rect x="356.50" y="286.30" width="6.80" height="4.93" fill="#d4be56"/>
<rect x="363.25" y="286.30" width="6.80" height="4.93" fill="#4c5276"/>
<rect x="370.00" y="286.30" width="6.80" height="4.93" fill="#4c5276"/>
<rect x="376.75" y="286.30" width="6.80" height="4.93" fill="#a49b72"/>
<rect x="383.50" y="286.30" width="6.80" height="4.93" fill="#8f8a78"/>
<rect x="390.25" y="286.30" width="6.80" height="4.93" fill="#5f6070"/>
<rect x="397.00" y="286.30" width="6.80" height="4.93" fill="#a49b72"/>
<rect x="403.75" y="286.30" width="6.80" height="4.93" fill="#a49b72"/>
<rect x="410.50" y="286.30" width="6.80" height="4.93" fill="#5f6070"/>
<rect x="417.25" y="286.30" width="6.80" height="4.93" fill="#737279"/>
<rect x="424.00" y="286.30" width="6.80" height="4.93" fill="#85827a"/>
<rect x="430.75" y="286.30" width="6.80" height="4.93" fill="#8f8a78"/>
<rect x="437.50" y="286.30" width="6.80" height="4.93" fill="#4c5276"/>
<rect x="444.25" y="286.30" width="6.80" height="4.93" fill="#8f8a78"/>
<rect x="451.00" y="286.30" width="6.80" height="4.93" fill="#85827a"/>
<rect x="457.75" y="286.30" width="6.80" height="4.93" fill="#8f8a78"/>
<rect x="464.50" y="286.30" width="6.80" height="4.93" fill="#d4be56"/>
<rect x="471.25" y="286.30" width="6.80" height="4.93" fill="#8f8a78"/>
<rect x="478.00" y="286.30" width="6.80" height="4.93" fill="#85827a"/>
<rect x="484.75" y="286.30" width="6.80" height="4.93" fill="#8f8a78"/>
<rect x="491.50" y="286.30" width="6.80" height="4.93" fill="#4c5276"/>
<rect x="498.25" y="286.30" width="6.80" height="4.93" fill="#8f8a78"/>
<rect x="289.00" y="291.18" width="6.80" height="4.93" fill="#737279"/>
<rect x="295.75" y="291.18" width="6.80" height="4.93" fill="#737279"/>
<rect x="302.50" y="291.18" width="6.80" height="4.93" fill="#737279"/>
<rect x="309.25" y="291.18" width="6.80" height="4.93" fill="#85827a"/>
<rect x="316.00" y="291.18" width="6.80" height="4.93" fill="#737279"/>
<rect x="322.75" y="291.18" width="6.80" height="4.93" fill="#737279"/>
<rect x="329.50" y="291.18" width="6.80" height="4.93" fill="#737279"/>
<rect x="336.25" y="291.18" width="6.80" height="4.93" fill="#737279"/>
<rect x="343.00" y="291.18" width="6.80" height="4.93" fill="#5f6070"/>
<rect x="349.75" y="291.18" width="6.80" height="4.93" fill="#a49b72"/>
<rect x="356.50" y="291.18" width="6.80" height="4.93" fill="#85827a"/>
<rect x="363.25" y="291.18" width="6.80" height="4.93" fill="#a49b72"/>
<rect x="370.00" y="291.18" width="6.80" height="4.93" fill="#85827a"/>
<rect x="376.75" y="291.18" width="6.80" height="4.93" fill="#5f6070"/>
<rect x="383.50" y="291.18" width="6.80" height="4.93" fill="#737279"/>
<rect x="390.25" y="291.18" width="6.80" height="4.93" fill="#737279"/>
<rect x="397.00" y="291.18" width="6.80" height="4.93" fill="#8f8a78"/>
<rect x="403.75" y="291.18" width="6.80" height="4.93" fill="#d4be56"/>
<rect x="410.50" y="291.18" width="6.80" height="4.93" fill="#8f8a78"/>
<rect x="417.25" y="291.18" width="6.80" height="4.93" fill="#737279"/>
<rect x="424.00" y="291.18" width="6.80" height="4.93" fill="#737279"/>
<rect x="430.75" y="291.18" width="6.80" height="4.93" fill="#5f6070"/>
<rect x="437.50" y="291.18" width="6.80" height="4.93" fill="#5f6070"/>
<rect x="444.25" y="291.18" width="6.80" height="4.93" fill="#8f8a78"/>
<rect x="451.00" y="291.18" width="6.80" height="4.93" fill="#737279"/>
<rect x="457.75" y="291.18" width="6.80" height="4.93" fill="#a49b72"/>
<rect x="464.50" y="291.18" width="6.80" height="4.93" fill="#8f8a78"/>
<rect x="471.25" y="291.18" width="6.80" height="4.93" fill="#737279"/>
<rect x="478.00" y="291.18" width="6.80" height="4.93" fill="#737279"/>
<rect x="484.75" y="291.18" width="6.80" height="4.93" fill="#737279"/>
<rect x="491.50" y="291.18" width="6.80" height="4.93" fill="#737279"/>
<rect x="498.25" y="291.18" width="6.80" height="4.93" fill="#5f6070"/>
<rect x="289.00" y="296.06" width="6.80" height="4.93" fill="#737279"/>
<rect x="295.75" y="296.06" width="6.80" height="4.93" fill="#85827a"/>
<rect x="302.50" y="296.06" width="6.80" height="4.93" fill="#5f6070"/>
<rect x="309.25" y="296.06" width="6.80" height="4.93" fill="#5f6070"/>
<rect x="316.00" y="296.06" width="6.80" height="4.93" fill="#4c5276"/>
<rect x="322.75" y="296.06" width="6.80" height="4.93" fill="#85827a"/>
<rect x="329.50" y="296.06" width="6.80" height="4.93" fill="#5f6070"/>
<rect x="336.25" y="296.06" width="6.80" height="4.93" fill="#737279"/>
<rect x="343.00" y="296.06" width="6.80" height="4.93" fill="#4c5276"/>
<rect x="349.75" y="296.06" width="6.80" height="4.93" fill="#d4be56"/>
<rect x="356.50" y="296.06" width="6.80" height="4.93" fill="#737279"/>
<rect x="363.25" y="296.06" width="6.80" height="4.93" fill="#737279"/>
<rect x="370.00" y="296.06" width="6.80" height="4.93" fill="#85827a"/>
<rect x="376.75" y="296.06" width="6.80" height="4.93" fill="#a49b72"/>
<rect x="383.50" y="296.06" width="6.80" height="4.93" fill="#737279"/>
<rect x="390.25" y="296.06" width="6.80" height="4.93" fill="#737279"/>
<rect x="397.00" y="296.06" width="6.80" height="4.93" fill="#a49b72"/>
<rect x="403.75" y="296.06" width="6.80" height="4.93" fill="#5f6070"/>
<rect x="410.50" y="296.06" width="6.80" height="4.93" fill="#a49b72"/>
<rect x="417.25" y="296.06" width="6.80" height="4.93" fill="#85827a"/>
<rect x="424.00" y="296.06" width="6.80" height="4.93" fill="#85827a"/>
<rect x="430.75" y="296.06" width="6.80" height="4.93" fill="#737279"/>
<rect x="437.50" y="296.06" width="6.80" height="4.93" fill="#85827a"/>
<rect x="444.25" y="296.06" width="6.80" height="4.93" fill="#8f8a78"/>
<rect x="451.00" y="296.06" width="6.80" height="4.93" fill="#85827a"/>
<rect x="457.75" y="296.06" width="6.80" height="4.93" fill="#8f8a78"/>
<rect x="464.50" y="296.06" width="6.80" height="4.93" fill="#8f8a78"/>
<rect x="471.25" y="296.06" width="6.80" height="4.93" fill="#5f6070"/>
<rect x="478.00" y="296.06" width="6.80" height="4.93" fill="#a49b72"/>
<rect x="484.75" y="296.06" width="6.80" height="4.93" fill="#5f6070"/>
<rect x="491.50" y="296.06" width="6.80" height="4.93" fill="#737279"/>
<rect x="498.25" y="296.06" width="6.80" height="4.93" fill="#5f6070"/>
<rect x="289.00" y="300.94" width="6.80" height="4.93" fill="#2e3c7c"/>
<rect x="295.75" y="300.94" width="6.80" height="4.93" fill="#2e3c7c"/>
<rect x="302.50" y="300.94" width="6.80" height="4.93" fill="#4c5276"/>
<rect x="309.25" y="300.94" width="6.80" height="4.93" fill="#2e3c7c"/>
<rect x="316.00" y="300.94" width="6.80" height="4.93" fill="#4c5276"/>
<rect x="322.75" y="300.94" width="6.80" height="4.93" fill="#2e3c7c"/>
<rect x="329.50" y="300.94" width="6.80" height="4.93" fill="#2e3c7c"/>
<rect x="336.25" y="300.94" width="6.80" height="4.93" fill="#4c5276"/>
<rect x="343.00" y="300.94" width="6.80" height="4.93" fill="#a49b72"/>
<rect x="349.75" y="300.94" width="6.80" height="4.93" fill="#f8de40"/>
<rect x="356.50" y="300.94" width="6.80" height="4.93" fill="#85827a"/>
<rect x="363.25" y="300.94" width="6.80" height="4.93" fill="#a49b72"/>
<rect x="370.00" y="300.94" width="6.80" height="4.93" fill="#85827a"/>
<rect x="376.75" y="300.94" width="6.80" height="4.93" fill="#a49b72"/>
<rect x="383.50" y="300.94" width="6.80" height="4.93" fill="#85827a"/>
<rect x="390.25" y="300.94" width="6.80" height="4.93" fill="#4c5276"/>
<rect x="397.00" y="300.94" width="6.80" height="4.93" fill="#5f6070"/>
<rect x="403.75" y="300.94" width="6.80" height="4.93" fill="#d4be56"/>
<rect x="410.50" y="300.94" width="6.80" height="4.93" fill="#232f72"/>
<rect x="417.25" y="300.94" width="6.80" height="4.93" fill="#d4be56"/>
<rect x="424.00" y="300.94" width="6.80" height="4.93" fill="#737279"/>
<rect x="430.75" y="300.94" width="6.80" height="4.93" fill="#f8de40"/>
<rect x="437.50" y="300.94" width="6.80" height="4.93" fill="#8f8a78"/>
<rect x="444.25" y="300.94" width="6.80" height="4.93" fill="#f8de40"/>
<rect x="451.00" y="300.94" width="6.80" height="4.93" fill="#bcac66"/>
<rect x="457.75" y="300.94" width="6.80" height="4.93" fill="#232f72"/>
<rect x="464.50" y="300.94" width="6.80" height="4.93" fill="#85827a"/>
<rect x="471.25" y="300.94" width="6.80" height="4.93" fill="#f8de40"/>
<rect x="478.00" y="300.94" width="6.80" height="4.93" fill="#737279"/>
<rect x="484.75" y="300.94" width="6.80" height="4.93" fill="#737279"/>
<rect x="491.50" y="300.94" width="6.80" height="4.93" fill="#232f72"/>
<rect x="498.25" y="300.94" width="6.80" height="4.93" fill="#85827a"/>
<rect x="289.00" y="305.82" width="6.80" height="4.93" fill="#4c5276"/>
<rect x="295.75" y="305.82" width="6.80" height="4.93" fill="#4c5276"/>
<rect x="302.50" y="305.82" width="6.80" height="4.93" fill="#4c5276"/>
<rect x="309.25" y="305.82" width="6.80" height="4.93" fill="#4c5276"/>
<rect x="316.00" y="305.82" width="6.80" height="4.93" fill="#2e3c7c"/>
<rect x="322.75" y="305.82" width="6.80" height="4.93" fill="#4c5276"/>
<rect x="329.50" y="305.82" width="6.80" height="4.93" fill="#4c5276"/>
<rect x="336.25" y="305.82" width="6.80" height="4.93" fill="#4c5276"/>
<rect x="343.00" y="305.82" width="6.80" height="4.93" fill="#232f72"/>
<rect x="349.75" y="305.82" width="6.80" height="4.93" fill="#d4be56"/>
<rect x="356.50" y="305.82" width="6.80" height="4.93" fill="#8f8a78"/>
<rect x="363.25" y="305.82" width="6.80" height="4.93" fill="#a49b72"/>
<rect x="370.00" y="305.82" width="6.80" height="4.93" fill="#a49b72"/>
<rect x="376.75" y="305.82" width="6.80" height="4.93" fill="#a49b72"/>
<rect x="383.50" y="305.82" width="6.80" height="4.93" fill="#a49b72"/>
<rect x="390.25" y="305.82" width="6.80" height="4.93" fill="#8f8a78"/>
<rect x="397.00" y="305.82" width="6.80" height="4.93" fill="#a49b72"/>
<rect x="403.75" y="305.82" width="6.80" height="4.93" fill="#85827a"/>
<rect x="410.50" y="305.82" width="6.80" height="4.93" fill="#d4be56"/>
<rect x="417.25" y="305.82" width="6.80" height="4.93" fill="#d4be56"/>
<rect x="424.00" y="305.82" width="6.80" height="4.93" fill="#85827a"/>
<rect x="430.75" y="305.82" width="6.80" height="4.93" fill="#d4be56"/>
<rect x="437.50" y="305.82" width="6.80" height="4.93" fill="#4c5276"/>
<rect x="444.25" y="305.82" width="6.80" height="4.93" fill="#a49b72"/>
<rect x="451.00" y="305.82" width="6.80" height="4.93" fill="#a49b72"/>
<rect x="457.75" y="305.82" width="6.80" height="4.93" fill="#a49b72"/>
<rect x="464.50" y="305.82" width="6.80" height="4.93" fill="#4c5276"/>
<rect x="471.25" y="305.82" width="6.80" height="4.93" fill="#a49b72"/>
<rect x="478.00" y="305.82" width="6.80" height="4.93" fill="#85827a"/>
<rect x="484.75" y="305.82" width="6.80" height="4.93" fill="#737279"/>
<rect x="491.50" y="305.82" width="6.80" height="4.93" fill="#a49b72"/>
<rect x="498.25" y="305.82" width="6.80" height="4.93" fill="#5f6070"/>
<rect x="289.00" y="310.70" width="6.80" height="4.93" fill="#4c5276"/>
<rect x="295.75" y="310.70" width="6.80" height="4.93" fill="#232f72"/>
<rect x="302.50" y="310.70" width="6.80" height="4.93" fill="#5f6070"/>
<rect x="309.25" y="310.70" width="6.80" height="4.93" fill="#232f72"/>
<rect x="316.00" y="310.70" width="6.80" height="4.93" fill="#232f72"/>
<rect x="322.75" y="310.70" width="6.80" height="4.93" fill="#85827a"/>
<rect x="329.50" y="310.70" width="6.80" height="4.93" fill="#1c2456"/>
<rect x="336.25" y="310.70" width="6.80" height="4.93" fill="#8f8a78"/>
<rect x="343.00" y="310.70" width="6.80" height="4.93" fill="#232f72"/>
<rect x="349.75" y="310.70" width="6.80" height="4.93" fill="#a49b72"/>
<rect x="356.50" y="310.70" width="6.80" height="4.93" fill="#737279"/>
<rect x="363.25" y="310.70" width="6.80" height="4.93" fill="#a49b72"/>
<rect x="370.00" y="310.70" width="6.80" height="4.93" fill="#a49b72"/>
<rect x="376.75" y="310.70" width="6.80" height="4.93" fill="#a49b72"/>
<rect x="383.50" y="310.70" width="6.80" height="4.93" fill="#a49b72"/>
<rect x="390.25" y="310.70" width="6.80" height="4.93" fill="#a49b72"/>
<rect x="397.00" y="310.70" width="6.80" height="4.93" fill="#a49b72"/>
<rect x="403.75" y="310.70" width="6.80" height="4.93" fill="#a49b72"/>
<rect x="410.50" y="310.70" width="6.80" height="4.93" fill="#a49b72"/>
<rect x="417.25" y="310.70" width="6.80" height="4.93" fill="#a49b72"/>
<rect x="424.00" y="310.70" width="6.80" height="4.93" fill="#a49b72"/>
<rect x="430.75" y="310.70" width="6.80" height="4.93" fill="#a49b72"/>
<rect x="437.50" y="310.70" width="6.80" height="4.93" fill="#4c5276"/>
<rect x="444.25" y="310.70" width="6.80" height="4.93" fill="#a49b72"/>
<rect x="451.00" y="310.70" width="6.80" height="4.93" fill="#a49b72"/>
<rect x="457.75" y="310.70" width="6.80" height="4.93" fill="#8f8a78"/>
<rect x="464.50" y="310.70" width="6.80" height="4.93" fill="#737279"/>
<rect x="471.25" y="310.70" width="6.80" height="4.93" fill="#5f6070"/>
<rect x="478.00" y="310.70" width="6.80" height="4.93" fill="#a49b72"/>
<rect x="484.75" y="310.70" width="6.80" height="4.93" fill="#232f72"/>
<rect x="491.50" y="310.70" width="6.80" height="4.93" fill="#737279"/>
<rect x="498.25" y="310.70" width="6.80" height="4.93" fill="#a49b72"/>
<rect x="289.00" y="315.58" width="6.80" height="4.93" fill="#737279"/>
<rect x="295.75" y="315.58" width="6.80" height="4.93" fill="#737279"/>
<rect x="302.50" y="315.58" width="6.80" height="4.93" fill="#4c5276"/>
<rect x="309.25" y="315.58" width="6.80" height="4.93" fill="#4c5276"/>
<rect x="316.00" y="315.58" width="6.80" height="4.93" fill="#4c5276"/>
<rect x="322.75" y="315.58" width="6.80" height="4.93" fill="#4c5276"/>
<rect x="329.50" y="315.58" width="6.80" height="4.93" fill="#5f6070"/>
<rect x="336.25" y="315.58" width="6.80" height="4.93" fill="#4c5276"/>
<rect x="343.00" y="315.58" width="6.80" height="4.93" fill="#4c5276"/>
<rect x="349.75" y="315.58" width="6.80" height="4.93" fill="#f8de40"/>
<rect x="356.50" y="315.58" width="6.80" height="4.93" fill="#d4be56"/>
<rect x="363.25" y="315.58" width="6.80" height="4.93" fill="#85827a"/>
<rect x="370.00" y="315.58" width="6.80" height="4.93" fill="#85827a"/>
<rect x="376.75" y="315.58" width="6.80" height="4.93" fill="#4c5276"/>
<rect x="383.50" y="315.58" width="6.80" height="4.93" fill="#4c5276"/>
<rect x="390.25" y="315.58" width="6.80" height="4.93" fill="#85827a"/>
<rect x="397.00" y="315.58" width="6.80" height="4.93" fill="#d4be56"/>
<rect x="403.75" y="315.58" width="6.80" height="4.93" fill="#85827a"/>
<rect x="410.50" y="315.58" width="6.80" height="4.93" fill="#a49b72"/>
<rect x="417.25" y="315.58" width="6.80" height="4.93" fill="#85827a"/>
<rect x="424.00" y="315.58" width="6.80" height="4.93" fill="#a49b72"/>
<rect x="430.75" y="315.58" width="6.80" height="4.93" fill="#a49b72"/>
<rect x="437.50" y="315.58" width="6.80" height="4.93" fill="#4c5276"/>
<rect x="444.25" y="315.58" width="6.80" height="4.93" fill="#a49b72"/>
<rect x="451.00" y="315.58" width="6.80" height="4.93" fill="#85827a"/>
<rect x="457.75" y="315.58" width="6.80" height="4.93" fill="#5f6070"/>
<rect x="464.50" y="315.58" width="6.80" height="4.93" fill="#f8de40"/>
<rect x="471.25" y="315.58" width="6.80" height="4.93" fill="#85827a"/>
<rect x="478.00" y="315.58" width="6.80" height="4.93" fill="#a49b72"/>
<rect x="484.75" y="315.58" width="6.80" height="4.93" fill="#4c5276"/>
<rect x="491.50" y="315.58" width="6.80" height="4.93" fill="#4c5276"/>
<rect x="498.25" y="315.58" width="6.80" height="4.93" fill="#5f6070"/>
<rect x="289.00" y="320.46" width="6.80" height="4.93" fill="#737279"/>
<rect x="295.75" y="320.46" width="6.80" height="4.93" fill="#737279"/>
<rect x="302.50" y="320.46" width="6.80" height="4.93" fill="#4c5276"/>
<rect x="309.25" y="320.46" width="6.80" height="4.93" fill="#5f6070"/>
<rect x="316.00" y="320.46" width="6.80" height="4.93" fill="#232f72"/>
<rect x="322.75" y="320.46" width="6.80" height="4.93" fill="#4c5276"/>
<rect x="329.50" y="320.46" width="6.80" height="4.93" fill="#4c5276"/>
<rect x="336.25" y="320.46" width="6.80" height="4.93" fill="#4c5276"/>
<rect x="343.00" y="320.46" width="6.80" height="4.93" fill="#4c5276"/>
<rect x="349.75" y="320.46" width="6.80" height="4.93" fill="#d4be56"/>
<rect x="356.50" y="320.46" width="6.80" height="4.93" fill="#d4be56"/>
<rect x="363.25" y="320.46" width="6.80" height="4.93" fill="#737279"/>
<rect x="370.00" y="320.46" width="6.80" height="4.93" fill="#a49b72"/>
<rect x="376.75" y="320.46" width="6.80" height="4.93" fill="#d4be56"/>
<rect x="383.50" y="320.46" width="6.80" height="4.93" fill="#5f6070"/>
<rect x="390.25" y="320.46" width="6.80" height="4.93" fill="#8f8a78"/>
<rect x="397.00" y="320.46" width="6.80" height="4.93" fill="#d4be56"/>
<rect x="403.75" y="320.46" width="6.80" height="4.93" fill="#a49b72"/>
<rect x="410.50" y="320.46" width="6.80" height="4.93" fill="#5f6070"/>
<rect x="417.25" y="320.46" width="6.80" height="4.93" fill="#737279"/>
<rect x="424.00" y="320.46" width="6.80" height="4.93" fill="#a49b72"/>
<rect x="430.75" y="320.46" width="6.80" height="4.93" fill="#a49b72"/>
<rect x="437.50" y="320.46" width="6.80" height="4.93" fill="#5f6070"/>
<rect x="444.25" y="320.46" width="6.80" height="4.93" fill="#a49b72"/>
<rect x="451.00" y="320.46" width="6.80" height="4.93" fill="#a49b72"/>
<rect x="457.75" y="320.46" width="6.80" height="4.93" fill="#5f6070"/>
<rect x="464.50" y="320.46" width="6.80" height="4.93" fill="#f8de40"/>
<rect x="471.25" y="320.46" width="6.80" height="4.93" fill="#85827a"/>
<rect x="478.00" y="320.46" width="6.80" height="4.93" fill="#a49b72"/>
<rect x="484.75" y="320.46" width="6.80" height="4.93" fill="#4c5276"/>
<rect x="491.50" y="320.46" width="6.80" height="4.93" fill="#2e3c7c"/>
<rect x="498.25" y="320.46" width="6.80" height="4.93" fill="#5f6070"/>
<rect x="289.00" y="325.34" width="6.80" height="4.93" fill="#737279"/>
<rect x="295.75" y="325.34" width="6.80" height="4.93" fill="#737279"/>
<rect x="302.50" y="325.34" width="6.80" height="4.93" fill="#5f6070"/>
<rect x="309.25" y="325.34" width="6.80" height="4.93" fill="#5f6070"/>
<rect x="316.00" y="325.34" width="6.80" height="4.93" fill="#5f6070"/>
<rect x="322.75" y="325.34" width="6.80" height="4.93" fill="#5f6070"/>
<rect x="329.50" y="325.34" width="6.80" height="4.93" fill="#737279"/>
<rect x="336.25" y="325.34" width="6.80" height="4.93" fill="#5f6070"/>
<rect x="343.00" y="325.34" width="6.80" height="4.93" fill="#5f6070"/>
<rect x="349.75" y="325.34" width="6.80" height="4.93" fill="#d4be56"/>
<rect x="356.50" y="325.34" width="6.80" height="4.93" fill="#a49b72"/>
<rect x="363.25" y="325.34" width="6.80" height="4.93" fill="#a49b72"/>
<rect x="370.00" y="325.34" width="6.80" height="4.93" fill="#a49b72"/>
<rect x="376.75" y="325.34" width="6.80" height="4.93" fill="#5f6070"/>
<rect x="383.50" y="325.34" width="6.80" height="4.93" fill="#a49b72"/>
<rect x="390.25" y="325.34" width="6.80" height="4.93" fill="#a49b72"/>
<rect x="397.00" y="325.34" width="6.80" height="4.93" fill="#a49b72"/>
<rect x="403.75" y="325.34" width="6.80" height="4.93" fill="#a49b72"/>
<rect x="410.50" y="325.34" width="6.80" height="4.93" fill="#5f6070"/>
<rect x="417.25" y="325.34" width="6.80" height="4.93" fill="#a49b72"/>
<rect x="424.00" y="325.34" width="6.80" height="4.93" fill="#5f6070"/>
<rect x="430.75" y="325.34" width="6.80" height="4.93" fill="#d4be56"/>
<rect x="437.50" y="325.34" width="6.80" height="4.93" fill="#5f6070"/>
<rect x="444.25" y="325.34" width="6.80" height="4.93" fill="#a49b72"/>
<rect x="451.00" y="325.34" width="6.80" height="4.93" fill="#737279"/>
<rect x="457.75" y="325.34" width="6.80" height="4.93" fill="#737279"/>
<rect x="464.50" y="325.34" width="6.80" height="4.93" fill="#737279"/>
<rect x="471.25" y="325.34" width="6.80" height="4.93" fill="#737279"/>
<rect x="478.00" y="325.34" width="6.80" height="4.93" fill="#a49b72"/>
<rect x="484.75" y="325.34" width="6.80" height="4.93" fill="#232f72"/>
<rect x="491.50" y="325.34" width="6.80" height="4.93" fill="#737279"/>
<rect x="498.25" y="325.34" width="6.80" height="4.93" fill="#5f6070"/>
<rect x="289.00" y="330.22" width="6.80" height="4.93" fill="#a49b72"/>
<rect x="295.75" y="330.22" width="6.80" height="4.93" fill="#a49b72"/>
<rect x="302.50" y="330.22" width="6.80" height="4.93" fill="#4c5276"/>
<rect x="309.25" y="330.22" width="6.80" height="4.93" fill="#4c5276"/>
<rect x="316.00" y="330.22" width="6.80" height="4.93" fill="#4c5276"/>
<rect x="322.75" y="330.22" width="6.80" height="4.93" fill="#4c5276"/>
<rect x="329.50" y="330.22" width="6.80" height="4.93" fill="#4c5276"/>
<rect x="336.25" y="330.22" width="6.80" height="4.93" fill="#4c5276"/>
<rect x="343.00" y="330.22" width="6.80" height="4.93" fill="#4c5276"/>
<rect x="349.75" y="330.22" width="6.80" height="4.93" fill="#a49b72"/>
<rect x="356.50" y="330.22" width="6.80" height="4.93" fill="#a49b72"/>
<rect x="363.25" y="330.22" width="6.80" height="4.93" fill="#a49b72"/>
<rect x="370.00" y="330.22" width="6.80" height="4.93" fill="#a49b72"/>
<rect x="376.75" y="330.22" width="6.80" height="4.93" fill="#a49b72"/>
<rect x="383.50" y="330.22" width="6.80" height="4.93" fill="#a49b72"/>
<rect x="390.25" y="330.22" width="6.80" height="4.93" fill="#a49b72"/>
<rect x="397.00" y="330.22" width="6.80" height="4.93" fill="#a49b72"/>
<rect x="403.75" y="330.22" width="6.80" height="4.93" fill="#a49b72"/>
<rect x="410.50" y="330.22" width="6.80" height="4.93" fill="#a49b72"/>
<rect x="417.25" y="330.22" width="6.80" height="4.93" fill="#a49b72"/>
<rect x="424.00" y="330.22" width="6.80" height="4.93" fill="#a49b72"/>
<rect x="430.75" y="330.22" width="6.80" height="4.93" fill="#a49b72"/>
<rect x="437.50" y="330.22" width="6.80" height="4.93" fill="#a49b72"/>
<rect x="444.25" y="330.22" width="6.80" height="4.93" fill="#a49b72"/>
<rect x="451.00" y="330.22" width="6.80" height="4.93" fill="#a49b72"/>
<rect x="457.75" y="330.22" width="6.80" height="4.93" fill="#a49b72"/>
<rect x="464.50" y="330.22" width="6.80" height="4.93" fill="#a49b72"/>
<rect x="471.25" y="330.22" width="6.80" height="4.93" fill="#a49b72"/>
<rect x="478.00" y="330.22" width="6.80" height="4.93" fill="#a49b72"/>
<rect x="484.75" y="330.22" width="6.80" height="4.93" fill="#4c5276"/>
<rect x="491.50" y="330.22" width="6.80" height="4.93" fill="#4c5276"/>
<rect x="498.25" y="330.22" width="6.80" height="4.93" fill="#4c5276"/>
<rect x="289.00" y="335.10" width="6.80" height="4.93" fill="#737279"/>
<rect x="295.75" y="335.10" width="6.80" height="4.93" fill="#737279"/>
<rect x="302.50" y="335.10" width="6.80" height="4.93" fill="#4c5276"/>
<rect x="309.25" y="335.10" width="6.80" height="4.93" fill="#4c5276"/>
<rect x="316.00" y="335.10" width="6.80" height="4.93" fill="#4c5276"/>
<rect x="322.75" y="335.10" width="6.80" height="4.93" fill="#4c5276"/>
<rect x="329.50" y="335.10" width="6.80" height="4.93" fill="#85827a"/>
<rect x="336.25" y="335.10" width="6.80" height="4.93" fill="#85827a"/>
<rect x="343.00" y="335.10" width="6.80" height="4.93" fill="#4c5276"/>
<rect x="349.75" y="335.10" width="6.80" height="4.93" fill="#a49b72"/>
<rect x="356.50" y="335.10" width="6.80" height="4.93" fill="#a49b72"/>
<rect x="363.25" y="335.10" width="6.80" height="4.93" fill="#d4be56"/>
<rect x="370.00" y="335.10" width="6.80" height="4.93" fill="#8f8a78"/>
<rect x="376.75" y="335.10" width="6.80" height="4.93" fill="#737279"/>
<rect x="383.50" y="335.10" width="6.80" height="4.93" fill="#8f8a78"/>
<rect x="390.25" y="335.10" width="6.80" height="4.93" fill="#8f8a78"/>
<rect x="397.00" y="335.10" width="6.80" height="4.93" fill="#a49b72"/>
<rect x="403.75" y="335.10" width="6.80" height="4.93" fill="#8f8a78"/>
<rect x="410.50" y="335.10" width="6.80" height="4.93" fill="#a49b72"/>
<rect x="417.25" y="335.10" width="6.80" height="4.93" fill="#737279"/>
<rect x="424.00" y="335.10" width="6.80" height="4.93" fill="#a49b72"/>
<rect x="430.75" y="335.10" width="6.80" height="4.93" fill="#a49b72"/>
<rect x="437.50" y="335.10" width="6.80" height="4.93" fill="#4c5276"/>
<rect x="444.25" y="335.10" width="6.80" height="4.93" fill="#a49b72"/>
<rect x="451.00" y="335.10" width="6.80" height="4.93" fill="#85827a"/>
<rect x="457.75" y="335.10" width="6.80" height="4.93" fill="#a49b72"/>
<rect x="464.50" y="335.10" width="6.80" height="4.93" fill="#a49b72"/>
<rect x="471.25" y="335.10" width="6.80" height="4.93" fill="#4c5276"/>
<rect x="478.00" y="335.10" width="6.80" height="4.93" fill="#a49b72"/>
<rect x="484.75" y="335.10" width="6.80" height="4.93" fill="#8f8a78"/>
<rect x="491.50" y="335.10" width="6.80" height="4.93" fill="#4c5276"/>
<rect x="498.25" y="335.10" width="6.80" height="4.93" fill="#85827a"/>
<rect x="289.00" y="339.98" width="6.80" height="4.93" fill="#1c2456"/>
<rect x="295.75" y="339.98" width="6.80" height="4.93" fill="#1c2456"/>
<rect x="302.50" y="339.98" width="6.80" height="4.93" fill="#1c2456"/>
<rect x="309.25" y="339.98" width="6.80" height="4.93" fill="#1c2456"/>
<rect x="316.00" y="339.98" width="6.80" height="4.93" fill="#1c2456"/>
<rect x="322.75" y="339.98" width="6.80" height="4.93" fill="#1c2456"/>
<rect x="329.50" y="339.98" width="6.80" height="4.93" fill="#1c2456"/>
<rect x="336.25" y="339.98" width="6.80" height="4.93" fill="#5f6070"/>
<rect x="343.00" y="339.98" width="6.80" height="4.93" fill="#1c2456"/>
<rect x="349.75" y="339.98" width="6.80" height="4.93" fill="#f8de40"/>
<rect x="356.50" y="339.98" width="6.80" height="4.93" fill="#232f72"/>
<rect x="363.25" y="339.98" width="6.80" height="4.93" fill="#f8de40"/>
<rect x="370.00" y="339.98" width="6.80" height="4.93" fill="#4c5276"/>
<rect x="376.75" y="339.98" width="6.80" height="4.93" fill="#5f6070"/>
<rect x="383.50" y="339.98" width="6.80" height="4.93" fill="#d4be56"/>
<rect x="390.25" y="339.98" width="6.80" height="4.93" fill="#1c2456"/>
<rect x="397.00" y="339.98" width="6.80" height="4.93" fill="#f8de40"/>
<rect x="403.75" y="339.98" width="6.80" height="4.93" fill="#f8de40"/>
<rect x="410.50" y="339.98" width="6.80" height="4.93" fill="#f8de40"/>
<rect x="417.25" y="339.98" width="6.80" height="4.93" fill="#f8de40"/>
<rect x="424.00" y="339.98" width="6.80" height="4.93" fill="#4c5276"/>
<rect x="430.75" y="339.98" width="6.80" height="4.93" fill="#4c5276"/>
<rect x="437.50" y="339.98" width="6.80" height="4.93" fill="#f8de40"/>
<rect x="444.25" y="339.98" width="6.80" height="4.93" fill="#f8de40"/>
<rect x="451.00" y="339.98" width="6.80" height="4.93" fill="#f8de40"/>
<rect x="457.75" y="339.98" width="6.80" height="4.93" fill="#f8de40"/>
<rect x="464.50" y="339.98" width="6.80" height="4.93" fill="#2e3c7c"/>
<rect x="471.25" y="339.98" width="6.80" height="4.93" fill="#d4be56"/>
<rect x="478.00" y="339.98" width="6.80" height="4.93" fill="#f8de40"/>
<rect x="484.75" y="339.98" width="6.80" height="4.93" fill="#1c2456"/>
<rect x="491.50" y="339.98" width="6.80" height="4.93" fill="#1c2456"/>
<rect x="498.25" y="339.98" width="6.80" height="4.93" fill="#1c2456"/>
<rect x="289.00" y="344.86" width="6.80" height="4.93" fill="#232f72"/>
<rect x="295.75" y="344.86" width="6.80" height="4.93" fill="#2e3c7c"/>
<rect x="302.50" y="344.86" width="6.80" height="4.93" fill="#232f72"/>
<rect x="309.25" y="344.86" width="6.80" height="4.93" fill="#232f72"/>
<rect x="316.00" y="344.86" width="6.80" height="4.93" fill="#232f72"/>
<rect x="322.75" y="344.86" width="6.80" height="4.93" fill="#232f72"/>
<rect x="329.50" y="344.86" width="6.80" height="4.93" fill="#232f72"/>
<rect x="336.25" y="344.86" width="6.80" height="4.93" fill="#232f72"/>
<rect x="343.00" y="344.86" width="6.80" height="4.93" fill="#232f72"/>
<rect x="349.75" y="344.86" width="6.80" height="4.93" fill="#f8de40"/>
<rect x="356.50" y="344.86" width="6.80" height="4.93" fill="#f8de40"/>
<rect x="363.25" y="344.86" width="6.80" height="4.93" fill="#232f72"/>
<rect x="370.00" y="344.86" width="6.80" height="4.93" fill="#f8de40"/>
<rect x="376.75" y="344.86" width="6.80" height="4.93" fill="#5f6070"/>
<rect x="383.50" y="344.86" width="6.80" height="4.93" fill="#2e3c7c"/>
<rect x="390.25" y="344.86" width="6.80" height="4.93" fill="#f8de40"/>
<rect x="397.00" y="344.86" width="6.80" height="4.93" fill="#f8de40"/>
<rect x="403.75" y="344.86" width="6.80" height="4.93" fill="#a49b72"/>
<rect x="410.50" y="344.86" width="6.80" height="4.93" fill="#2e3c7c"/>
<rect x="417.25" y="344.86" width="6.80" height="4.93" fill="#f8de40"/>
<rect x="424.00" y="344.86" width="6.80" height="4.93" fill="#f8de40"/>
<rect x="430.75" y="344.86" width="6.80" height="4.93" fill="#f8de40"/>
<rect x="437.50" y="344.86" width="6.80" height="4.93" fill="#2e3c7c"/>
<rect x="444.25" y="344.86" width="6.80" height="4.93" fill="#f8de40"/>
<rect x="451.00" y="344.86" width="6.80" height="4.93" fill="#a49b72"/>
<rect x="457.75" y="344.86" width="6.80" height="4.93" fill="#232f72"/>
<rect x="464.50" y="344.86" width="6.80" height="4.93" fill="#f8de40"/>
<rect x="471.25" y="344.86" width="6.80" height="4.93" fill="#a49b72"/>
<rect x="478.00" y="344.86" width="6.80" height="4.93" fill="#d4be56"/>
<rect x="484.75" y="344.86" width="6.80" height="4.93" fill="#232f72"/>
<rect x="491.50" y="344.86" width="6.80" height="4.93" fill="#232f72"/>
<rect x="498.25" y="344.86" width="6.80" height="4.93" fill="#232f72"/>
<rect x="289.00" y="349.74" width="6.80" height="4.93" fill="#2e3c7c"/>
<rect x="295.75" y="349.74" width="6.80" height="4.93" fill="#2e3c7c"/>
<rect x="302.50" y="349.74" width="6.80" height="4.93" fill="#2e3c7c"/>
<rect x="309.25" y="349.74" width="6.80" height="4.93" fill="#2e3c7c"/>
<rect x="316.00" y="349.74" width="6.80" height="4.93" fill="#2e3c7c"/>
<rect x="322.75" y="349.74" width="6.80" height="4.93" fill="#2e3c7c"/>
<rect x="329.50" y="349.74" width="6.80" height="4.93" fill="#2e3c7c"/>
<rect x="336.25" y="349.74" width="6.80" height="4.93" fill="#2e3c7c"/>
<rect x="343.00" y="349.74" width="6.80" height="4.93" fill="#2e3c7c"/>
<rect x="349.75" y="349.74" width="6.80" height="4.93" fill="#f8de40"/>
<rect x="356.50" y="349.74" width="6.80" height="4.93" fill="#f8de40"/>
<rect x="363.25" y="349.74" width="6.80" height="4.93" fill="#5f6070"/>
<rect x="370.00" y="349.74" width="6.80" height="4.93" fill="#f8de40"/>
<rect x="376.75" y="349.74" width="6.80" height="4.93" fill="#4c5276"/>
<rect x="383.50" y="349.74" width="6.80" height="4.93" fill="#5f6070"/>
<rect x="390.25" y="349.74" width="6.80" height="4.93" fill="#a49b72"/>
<rect x="397.00" y="349.74" width="6.80" height="4.93" fill="#f8de40"/>
<rect x="403.75" y="349.74" width="6.80" height="4.93" fill="#d4be56"/>
<rect x="410.50" y="349.74" width="6.80" height="4.93" fill="#737279"/>
<rect x="417.25" y="349.74" width="6.80" height="4.93" fill="#a49b72"/>
<rect x="424.00" y="349.74" width="6.80" height="4.93" fill="#f8de40"/>
<rect x="430.75" y="349.74" width="6.80" height="4.93" fill="#f8de40"/>
<rect x="437.50" y="349.74" width="6.80" height="4.93" fill="#4c5276"/>
<rect x="444.25" y="349.74" width="6.80" height="4.93" fill="#f8de40"/>
<rect x="451.00" y="349.74" width="6.80" height="4.93" fill="#737279"/>
<rect x="457.75" y="349.74" width="6.80" height="4.93" fill="#8f8a78"/>
<rect x="464.50" y="349.74" width="6.80" height="4.93" fill="#f8de40"/>
<rect x="471.25" y="349.74" width="6.80" height="4.93" fill="#a49b72"/>
<rect x="478.00" y="349.74" width="6.80" height="4.93" fill="#d4be56"/>
<rect x="484.75" y="349.74" width="6.80" height="4.93" fill="#4c5276"/>
<rect x="491.50" y="349.74" width="6.80" height="4.93" fill="#2e3c7c"/>
<rect x="498.25" y="349.74" width="6.80" height="4.93" fill="#2e3c7c"/>
<rect x="289.00" y="354.62" width="6.80" height="4.93" fill="#4c5276"/>
<rect x="295.75" y="354.62" width="6.80" height="4.93" fill="#4c5276"/>
<rect x="302.50" y="354.62" width="6.80" height="4.93" fill="#4c5276"/>
<rect x="309.25" y="354.62" width="6.80" height="4.93" fill="#4c5276"/>
<rect x="316.00" y="354.62" width="6.80" height="4.93" fill="#4c5276"/>
<rect x="322.75" y="354.62" width="6.80" height="4.93" fill="#4c5276"/>
<rect x="329.50" y="354.62" width="6.80" height="4.93" fill="#4c5276"/>
<rect x="336.25" y="354.62" width="6.80" height="4.93" fill="#4c5276"/>
<rect x="343.00" y="354.62" width="6.80" height="4.93" fill="#4c5276"/>
<rect x="349.75" y="354.62" width="6.80" height="4.93" fill="#f8de40"/>
<rect x="356.50" y="354.62" width="6.80" height="4.93" fill="#f8de40"/>
<rect x="363.25" y="354.62" width="6.80" height="4.93" fill="#4c5276"/>
<rect x="370.00" y="354.62" width="6.80" height="4.93" fill="#f8de40"/>
<rect x="376.75" y="354.62" width="6.80" height="4.93" fill="#4c5276"/>
<rect x="383.50" y="354.62" width="6.80" height="4.93" fill="#4c5276"/>
<rect x="390.25" y="354.62" width="6.80" height="4.93" fill="#bcac66"/>
<rect x="397.00" y="354.62" width="6.80" height="4.93" fill="#f8de40"/>
<rect x="403.75" y="354.62" width="6.80" height="4.93" fill="#737279"/>
<rect x="410.50" y="354.62" width="6.80" height="4.93" fill="#4c5276"/>
<rect x="417.25" y="354.62" width="6.80" height="4.93" fill="#f8de40"/>
<rect x="424.00" y="354.62" width="6.80" height="4.93" fill="#f8de40"/>
<rect x="430.75" y="354.62" width="6.80" height="4.93" fill="#f8de40"/>
<rect x="437.50" y="354.62" width="6.80" height="4.93" fill="#4c5276"/>
<rect x="444.25" y="354.62" width="6.80" height="4.93" fill="#f8de40"/>
<rect x="451.00" y="354.62" width="6.80" height="4.93" fill="#737279"/>
<rect x="457.75" y="354.62" width="6.80" height="4.93" fill="#4c5276"/>
<rect x="464.50" y="354.62" width="6.80" height="4.93" fill="#f8de40"/>
<rect x="471.25" y="354.62" width="6.80" height="4.93" fill="#8f8a78"/>
<rect x="478.00" y="354.62" width="6.80" height="4.93" fill="#d4be56"/>
<rect x="484.75" y="354.62" width="6.80" height="4.93" fill="#4c5276"/>
<rect x="491.50" y="354.62" width="6.80" height="4.93" fill="#4c5276"/>
<rect x="498.25" y="354.62" width="6.80" height="4.93" fill="#4c5276"/>
<rect x="289.00" y="359.50" width="6.80" height="4.93" fill="#1c2456"/>
<rect x="295.75" y="359.50" width="6.80" height="4.93" fill="#1c2456"/>
<rect x="302.50" y="359.50" width="6.80" height="4.93" fill="#1c2456"/>
<rect x="309.25" y="359.50" width="6.80" height="4.93" fill="#1c2456"/>
<rect x="316.00" y="359.50" width="6.80" height="4.93" fill="#1c2456"/>
<rect x="322.75" y="359.50" width="6.80" height="4.93" fill="#1c2456"/>
<rect x="329.50" y="359.50" width="6.80" height="4.93" fill="#1c2456"/>
<rect x="336.25" y="359.50" width="6.80" height="4.93" fill="#f8de40"/>
<rect x="343.00" y="359.50" width="6.80" height="4.93" fill="#1c2456"/>
<rect x="349.75" y="359.50" width="6.80" height="4.93" fill="#737279"/>
<rect x="356.50" y="359.50" width="6.80" height="4.93" fill="#1c2456"/>
<rect x="363.25" y="359.50" width="6.80" height="4.93" fill="#1c2456"/>
<rect x="370.00" y="359.50" width="6.80" height="4.93" fill="#f8de40"/>
<rect x="376.75" y="359.50" width="6.80" height="4.93" fill="#1c2456"/>
<rect x="383.50" y="359.50" width="6.80" height="4.93" fill="#1c2456"/>
<rect x="390.25" y="359.50" width="6.80" height="4.93" fill="#f8de40"/>
<rect x="397.00" y="359.50" width="6.80" height="4.93" fill="#1c2456"/>
<rect x="403.75" y="359.50" width="6.80" height="4.93" fill="#1c2456"/>
<rect x="410.50" y="359.50" width="6.80" height="4.93" fill="#f8de40"/>
<rect x="417.25" y="359.50" width="6.80" height="4.93" fill="#1c2456"/>
<rect x="424.00" y="359.50" width="6.80" height="4.93" fill="#1c2456"/>
<rect x="430.75" y="359.50" width="6.80" height="4.93" fill="#1c2456"/>
<rect x="437.50" y="359.50" width="6.80" height="4.93" fill="#f8de40"/>
<rect x="444.25" y="359.50" width="6.80" height="4.93" fill="#1c2456"/>
<rect x="451.00" y="359.50" width="6.80" height="4.93" fill="#f8de40"/>
<rect x="457.75" y="359.50" width="6.80" height="4.93" fill="#f8de40"/>
<rect x="464.50" y="359.50" width="6.80" height="4.93" fill="#1c2456"/>
<rect x="471.25" y="359.50" width="6.80" height="4.93" fill="#1c2456"/>
<rect x="478.00" y="359.50" width="6.80" height="4.93" fill="#1c2456"/>
<rect x="484.75" y="359.50" width="6.80" height="4.93" fill="#1c2456"/>
<rect x="491.50" y="359.50" width="6.80" height="4.93" fill="#f8de40"/>
<rect x="498.25" y="359.50" width="6.80" height="4.93" fill="#1c2456"/>
<rect x="289.00" y="364.38" width="6.80" height="4.93" fill="#232f72"/>
<rect x="295.75" y="364.38" width="6.80" height="4.93" fill="#5f6070"/>
<rect x="302.50" y="364.38" width="6.80" height="4.93" fill="#232f72"/>
<rect x="309.25" y="364.38" width="6.80" height="4.93" fill="#232f72"/>
<rect x="316.00" y="364.38" width="6.80" height="4.93" fill="#2e3c7c"/>
<rect x="322.75" y="364.38" width="6.80" height="4.93" fill="#232f72"/>
<rect x="329.50" y="364.38" width="6.80" height="4.93" fill="#232f72"/>
<rect x="336.25" y="364.38" width="6.80" height="4.93" fill="#232f72"/>
<rect x="343.00" y="364.38" width="6.80" height="4.93" fill="#2e3c7c"/>
<rect x="349.75" y="364.38" width="6.80" height="4.93" fill="#f8de40"/>
<rect x="356.50" y="364.38" width="6.80" height="4.93" fill="#f8de40"/>
<rect x="363.25" y="364.38" width="6.80" height="4.93" fill="#4c5276"/>
<rect x="370.00" y="364.38" width="6.80" height="4.93" fill="#4c5276"/>
<rect x="376.75" y="364.38" width="6.80" height="4.93" fill="#232f72"/>
<rect x="383.50" y="364.38" width="6.80" height="4.93" fill="#232f72"/>
<rect x="390.25" y="364.38" width="6.80" height="4.93" fill="#232f72"/>
<rect x="397.00" y="364.38" width="6.80" height="4.93" fill="#232f72"/>
<rect x="403.75" y="364.38" width="6.80" height="4.93" fill="#f8de40"/>
<rect x="410.50" y="364.38" width="6.80" height="4.93" fill="#2e3c7c"/>
<rect x="417.25" y="364.38" width="6.80" height="4.93" fill="#232f72"/>
<rect x="424.00" y="364.38" width="6.80" height="4.93" fill="#2e3c7c"/>
<rect x="430.75" y="364.38" width="6.80" height="4.93" fill="#737279"/>
<rect x="437.50" y="364.38" width="6.80" height="4.93" fill="#232f72"/>
<rect x="444.25" y="364.38" width="6.80" height="4.93" fill="#2e3c7c"/>
<rect x="451.00" y="364.38" width="6.80" height="4.93" fill="#2e3c7c"/>
<rect x="457.75" y="364.38" width="6.80" height="4.93" fill="#f8de40"/>
<rect x="464.50" y="364.38" width="6.80" height="4.93" fill="#f8de40"/>
<rect x="471.25" y="364.38" width="6.80" height="4.93" fill="#2e3c7c"/>
<rect x="478.00" y="364.38" width="6.80" height="4.93" fill="#232f72"/>
<rect x="484.75" y="364.38" width="6.80" height="4.93" fill="#232f72"/>
<rect x="491.50" y="364.38" width="6.80" height="4.93" fill="#5f6070"/>
<rect x="498.25" y="364.38" width="6.80" height="4.93" fill="#232f72"/>
<rect x="289.00" y="369.26" width="6.80" height="4.93" fill="#2e3c7c"/>
<rect x="295.75" y="369.26" width="6.80" height="4.93" fill="#4c5276"/>
<rect x="302.50" y="369.26" width="6.80" height="4.93" fill="#2e3c7c"/>
<rect x="309.25" y="369.26" width="6.80" height="4.93" fill="#2e3c7c"/>
<rect x="316.00" y="369.26" width="6.80" height="4.93" fill="#2e3c7c"/>
<rect x="322.75" y="369.26" width="6.80" height="4.93" fill="#2e3c7c"/>
<rect x="329.50" y="369.26" width="6.80" height="4.93" fill="#2e3c7c"/>
<rect x="336.25" y="369.26" width="6.80" height="4.93" fill="#4c5276"/>
<rect x="343.00" y="369.26" width="6.80" height="4.93" fill="#5f6070"/>
<rect x="349.75" y="369.26" width="6.80" height="4.93" fill="#f8de40"/>
<rect x="356.50" y="369.26" width="6.80" height="4.93" fill="#f8de40"/>
<rect x="363.25" y="369.26" width="6.80" height="4.93" fill="#5f6070"/>
<rect x="370.00" y="369.26" width="6.80" height="4.93" fill="#4c5276"/>
<rect x="376.75" y="369.26" width="6.80" height="4.93" fill="#4c5276"/>
<rect x="383.50" y="369.26" width="6.80" height="4.93" fill="#4c5276"/>
<rect x="390.25" y="369.26" width="6.80" height="4.93" fill="#5f6070"/>
<rect x="397.00" y="369.26" width="6.80" height="4.93" fill="#4c5276"/>
<rect x="403.75" y="369.26" width="6.80" height="4.93" fill="#f8de40"/>
<rect x="410.50" y="369.26" width="6.80" height="4.93" fill="#5f6070"/>
<rect x="417.25" y="369.26" width="6.80" height="4.93" fill="#4c5276"/>
<rect x="424.00" y="369.26" width="6.80" height="4.93" fill="#5f6070"/>
<rect x="430.75" y="369.26" width="6.80" height="4.93" fill="#5f6070"/>
<rect x="437.50" y="369.26" width="6.80" height="4.93" fill="#a49b72"/>
<rect x="444.25" y="369.26" width="6.80" height="4.93" fill="#5f6070"/>
<rect x="451.00" y="369.26" width="6.80" height="4.93" fill="#5f6070"/>
<rect x="457.75" y="369.26" width="6.80" height="4.93" fill="#f8de40"/>
<rect x="464.50" y="369.26" width="6.80" height="4.93" fill="#f8de40"/>
<rect x="471.25" y="369.26" width="6.80" height="4.93" fill="#5f6070"/>
<rect x="478.00" y="369.26" width="6.80" height="4.93" fill="#4c5276"/>
<rect x="484.75" y="369.26" width="6.80" height="4.93" fill="#4c5276"/>
<rect x="491.50" y="369.26" width="6.80" height="4.93" fill="#5f6070"/>
<rect x="498.25" y="369.26" width="6.80" height="4.93" fill="#4c5276"/>
</g>
<line x1="295.75" y1="213.10" x2="295.75" y2="374.14" stroke="#ffffff" stroke-width="0.25" stroke-opacity="0.12"/>
<line x1="302.50" y1="213.10" x2="302.50" y2="374.14" stroke="#ffffff" stroke-width="0.25" stroke-opacity="0.12"/>
<line x1="309.25" y1="213.10" x2="309.25" y2="374.14" stroke="#ffffff" stroke-width="0.25" stroke-opacity="0.12"/>
<line x1="316.00" y1="213.10" x2="316.00" y2="374.14" stroke="#ffffff" stroke-width="0.25" stroke-opacity="0.12"/>
<line x1="322.75" y1="213.10" x2="322.75" y2="374.14" stroke="#ffffff" stroke-width="0.25" stroke-opacity="0.12"/>
<line x1="329.50" y1="213.10" x2="329.50" y2="374.14" stroke="#ffffff" stroke-width="0.25" stroke-opacity="0.12"/>
<line x1="336.25" y1="213.10" x2="336.25" y2="374.14" stroke="#ffffff" stroke-width="0.25" stroke-opacity="0.12"/>
<line x1="343.00" y1="213.10" x2="343.00" y2="374.14" stroke="#ffffff" stroke-width="0.25" stroke-opacity="0.12"/>
<line x1="349.75" y1="213.10" x2="349.75" y2="374.14" stroke="#ffffff" stroke-width="0.25" stroke-opacity="0.12"/>
<line x1="356.50" y1="213.10" x2="356.50" y2="374.14" stroke="#ffffff" stroke-width="0.25" stroke-opacity="0.12"/>
<line x1="363.25" y1="213.10" x2="363.25" y2="374.14" stroke="#ffffff" stroke-width="0.25" stroke-opacity="0.12"/>
<line x1="370.00" y1="213.10" x2="370.00" y2="374.14" stroke="#ffffff" stroke-width="0.25" stroke-opacity="0.12"/>
<line x1="376.75" y1="213.10" x2="376.75" y2="374.14" stroke="#ffffff" stroke-width="0.25" stroke-opacity="0.12"/>
<line x1="383.50" y1="213.10" x2="383.50" y2="374.14" stroke="#ffffff" stroke-width="0.25" stroke-opacity="0.12"/>
<line x1="390.25" y1="213.10" x2="390.25" y2="374.14" stroke="#ffffff" stroke-width="0.25" stroke-opacity="0.12"/>
<line x1="397.00" y1="213.10" x2="397.00" y2="374.14" stroke="#ffffff" stroke-width="0.25" stroke-opacity="0.12"/>
<line x1="403.75" y1="213.10" x2="403.75" y2="374.14" stroke="#ffffff" stroke-width="0.25" stroke-opacity="0.12"/>
<line x1="410.50" y1="213.10" x2="410.50" y2="374.14" stroke="#ffffff" stroke-width="0.25" stroke-opacity="0.12"/>
<line x1="417.25" y1="213.10" x2="417.25" y2="374.14" stroke="#ffffff" stroke-width="0.25" stroke-opacity="0.12"/>
<line x1="424.00" y1="213.10" x2="424.00" y2="374.14" stroke="#ffffff" stroke-width="0.25" stroke-opacity="0.12"/>
<line x1="430.75" y1="213.10" x2="430.75" y2="374.14" stroke="#ffffff" stroke-width="0.25" stroke-opacity="0.12"/>
<line x1="437.50" y1="213.10" x2="437.50" y2="374.14" stroke="#ffffff" stroke-width="0.25" stroke-opacity="0.12"/>
<line x1="444.25" y1="213.10" x2="444.25" y2="374.14" stroke="#ffffff" stroke-width="0.25" stroke-opacity="0.12"/>
<line x1="451.00" y1="213.10" x2="451.00" y2="374.14" stroke="#ffffff" stroke-width="0.25" stroke-opacity="0.12"/>
<line x1="457.75" y1="213.10" x2="457.75" y2="374.14" stroke="#ffffff" stroke-width="0.25" stroke-opacity="0.12"/>
<line x1="464.50" y1="213.10" x2="464.50" y2="374.14" stroke="#ffffff" stroke-width="0.25" stroke-opacity="0.12"/>
<line x1="471.25" y1="213.10" x2="471.25" y2="374.14" stroke="#ffffff" stroke-width="0.25" stroke-opacity="0.12"/>
<line x1="478.00" y1="213.10" x2="478.00" y2="374.14" stroke="#ffffff" stroke-width="0.25" stroke-opacity="0.12"/>
<line x1="484.75" y1="213.10" x2="484.75" y2="374.14" stroke="#ffffff" stroke-width="0.25" stroke-opacity="0.12"/>
<line x1="491.50" y1="213.10" x2="491.50" y2="374.14" stroke="#ffffff" stroke-width="0.25" stroke-opacity="0.12"/>
<line x1="498.25" y1="213.10" x2="498.25" y2="374.14" stroke="#ffffff" stroke-width="0.25" stroke-opacity="0.12"/>
<line x1="289.00" y1="217.98" x2="505.00" y2="217.98" stroke="#ffffff" stroke-width="0.2" stroke-opacity="0.08"/>
<line x1="289.00" y1="222.86" x2="505.00" y2="222.86" stroke="#ffffff" stroke-width="0.2" stroke-opacity="0.08"/>
<line x1="289.00" y1="227.74" x2="505.00" y2="227.74" stroke="#ffffff" stroke-width="0.2" stroke-opacity="0.08"/>
<line x1="289.00" y1="232.62" x2="505.00" y2="232.62" stroke="#ffffff" stroke-width="0.2" stroke-opacity="0.08"/>
<line x1="289.00" y1="237.50" x2="505.00" y2="237.50" stroke="#ffffff" stroke-width="0.2" stroke-opacity="0.08"/>
<line x1="289.00" y1="242.38" x2="505.00" y2="242.38" stroke="#ffffff" stroke-width="0.2" stroke-opacity="0.08"/>
<line x1="289.00" y1="247.26" x2="505.00" y2="247.26" stroke="#ffffff" stroke-width="0.2" stroke-opacity="0.08"/>
<line x1="289.00" y1="252.14" x2="505.00" y2="252.14" stroke="#ffffff" stroke-width="0.2" stroke-opacity="0.08"/>
<line x1="289.00" y1="257.02" x2="505.00" y2="257.02" stroke="#ffffff" stroke-width="0.2" stroke-opacity="0.08"/>
<line x1="289.00" y1="261.90" x2="505.00" y2="261.90" stroke="#ffffff" stroke-width="0.2" stroke-opacity="0.08"/>
<line x1="289.00" y1="266.78" x2="505.00" y2="266.78" stroke="#ffffff" stroke-width="0.2" stroke-opacity="0.08"/>
<line x1="289.00" y1="271.66" x2="505.00" y2="271.66" stroke="#ffffff" stroke-width="0.2" stroke-opacity="0.08"/>
<line x1="289.00" y1="276.54" x2="505.00" y2="276.54" stroke="#ffffff" stroke-width="0.2" stroke-opacity="0.08"/>
<line x1="289.00" y1="281.42" x2="505.00" y2="281.42" stroke="#ffffff" stroke-width="0.2" stroke-opacity="0.08"/>
<line x1="289.00" y1="286.30" x2="505.00" y2="286.30" stroke="#ffffff" stroke-width="0.2" stroke-opacity="0.08"/>
<line x1="289.00" y1="291.18" x2="505.00" y2="291.18" stroke="#ffffff" stroke-width="0.2" stroke-opacity="0.08"/>
<line x1="289.00" y1="296.06" x2="505.00" y2="296.06" stroke="#ffffff" stroke-width="0.2" stroke-opacity="0.08"/>
<line x1="289.00" y1="300.94" x2="505.00" y2="300.94" stroke="#ffffff" stroke-width="0.2" stroke-opacity="0.08"/>
<line x1="289.00" y1="305.82" x2="505.00" y2="305.82" stroke="#ffffff" stroke-width="0.2" stroke-opacity="0.08"/>
<line x1="289.00" y1="310.70" x2="505.00" y2="310.70" stroke="#ffffff" stroke-width="0.2" stroke-opacity="0.08"/>
<line x1="289.00" y1="315.58" x2="505.00" y2="315.58" stroke="#ffffff" stroke-width="0.2" stroke-opacity="0.08"/>
<line x1="289.00" y1="320.46" x2="505.00" y2="320.46" stroke="#ffffff" stroke-width="0.2" stroke-opacity="0.08"/>
<line x1="289.00" y1="325.34" x2="505.00" y2="325.34" stroke="#ffffff" stroke-width="0.2" stroke-opacity="0.08"/>
<line x1="289.00" y1="330.22" x2="505.00" y2="330.22" stroke="#ffffff" stroke-width="0.2" stroke-opacity="0.08"/>
<line x1="289.00" y1="335.10" x2="505.00" y2="335.10" stroke="#ffffff" stroke-width="0.2" stroke-opacity="0.08"/>
<line x1="289.00" y1="339.98" x2="505.00" y2="339.98" stroke="#ffffff" stroke-width="0.2" stroke-opacity="0.08"/>
<line x1="289.00" y1="344.86" x2="505.00" y2="344.86" stroke="#ffffff" stroke-width="0.2" stroke-opacity="0.08"/>
<line x1="289.00" y1="349.74" x2="505.00" y2="349.74" stroke="#ffffff" stroke-width="0.2" stroke-opacity="0.08"/>
<line x1="289.00" y1="354.62" x2="505.00" y2="354.62" stroke="#ffffff" stroke-width="0.2" stroke-opacity="0.08"/>
<line x1="289.00" y1="359.50" x2="505.00" y2="359.50" stroke="#ffffff" stroke-width="0.2" stroke-opacity="0.08"/>
<line x1="289.00" y1="364.38" x2="505.00" y2="364.38" stroke="#ffffff" stroke-width="0.2" stroke-opacity="0.08"/>
<line x1="289.00" y1="369.26" x2="505.00" y2="369.26" stroke="#ffffff" stroke-width="0.2" stroke-opacity="0.08"/>
<rect x="289.00" y="208.30" width="13.55" height="4.30" fill="#e0301e"/>
<rect x="302.50" y="208.30" width="47.30" height="4.30" fill="#a01b2a"/>
<rect x="349.75" y="208.30" width="13.55" height="4.30" fill="#c850b4"/>
<rect x="363.25" y="208.30" width="40.55" height="4.30" fill="#78b41e"/>
<rect x="403.75" y="208.30" width="13.55" height="4.30" fill="#f5a00a"/>
<rect x="417.25" y="208.30" width="87.80" height="4.30" fill="#dcdcdc"/>
<line x1="289.00" y1="212.80" x2="505.00" y2="212.80" stroke="#ffffff" stroke-width="0.5"/>
<text transform="translate(506.00 211.40) scale(0.20650)" font-size="20.0" font-weight="bold" fill="#111" stroke="#111" stroke-width="0.726">Group</text>
<text transform="translate(311.00 201.90) scale(0.47100)" font-size="20.0" font-weight="bold" fill="#000" stroke="#000" stroke-width="0.191">% difference in subsystem coverage</text>
<text transform="translate(237.40 184.50) scale(0.50000)" font-size="20.0" fill="#000" stroke="#000" stroke-width="0.180">f</text>
<text transform="translate(506.00 217.64) scale(0.22500)" font-size="20.0" fill="#111" stroke="#111" stroke-width="0.667">Carnitine shuttle (endoplasmic reticular)</text>
<text transform="translate(506.00 222.52) scale(0.22500)" font-size="20.0" fill="#111" stroke="#111" stroke-width="0.667">Chondroitin sulfate degradation</text>
<text transform="translate(506.00 227.40) scale(0.22500)" font-size="20.0" fill="#111" stroke="#111" stroke-width="0.667">Chondroitin / heparan sulfate biosynthesis</text>
<text transform="translate(506.00 232.28) scale(0.22500)" font-size="20.0" fill="#111" stroke="#111" stroke-width="0.667">Phenylalanine, tyrosine and tryptophan biosynthesis</text>
<text transform="translate(506.00 237.16) scale(0.22500)" font-size="20.0" fill="#111" stroke="#111" stroke-width="0.667">Tyrosine metabolism</text>
<text transform="translate(506.00 242.04) scale(0.22500)" font-size="20.0" fill="#111" stroke="#111" stroke-width="0.667">Fatty acid biosynthesis (even-chain)</text>
<text transform="translate(506.00 246.92) scale(0.22500)" font-size="20.0" fill="#111" stroke="#111" stroke-width="0.667">Inositol phosphate metabolism</text>
<text transform="translate(506.00 251.80) scale(0.22500)" font-size="20.0" fill="#111" stroke="#111" stroke-width="0.667">Glycerolipid metabolism</text>
<text transform="translate(506.00 256.68) scale(0.22500)" font-size="20.0" fill="#111" stroke="#111" stroke-width="0.667">Bile acid recycling</text>
<text transform="translate(506.00 261.56) scale(0.22500)" font-size="20.0" fill="#111" stroke="#111" stroke-width="0.667">Pyruvate metabolism</text>
<text transform="translate(506.00 266.44) scale(0.22500)" font-size="20.0" fill="#111" stroke="#111" stroke-width="0.667">Starch and sucrose metabolism</text>
<text transform="translate(506.00 271.32) scale(0.22500)" font-size="20.0" fill="#111" stroke="#111" stroke-width="0.667">Arginine and proline metabolism</text>
<text transform="translate(506.00 276.20) scale(0.22500)" font-size="20.0" fill="#111" stroke="#111" stroke-width="0.667">Folate metabolism</text>
<text transform="translate(506.00 281.08) scale(0.22500)" font-size="20.0" fill="#111" stroke="#111" stroke-width="0.667">Beta oxidation of unsaturated fatty acids (n-7) (mitochondrial)</text>
<text transform="translate(506.00 285.96) scale(0.22500)" font-size="20.0" fill="#111" stroke="#111" stroke-width="0.667">Cysteine and methionine metabolism</text>
<text transform="translate(506.00 290.84) scale(0.22500)" font-size="20.0" fill="#111" stroke="#111" stroke-width="0.667">Pentose phosphate pathway</text>
<text transform="translate(506.00 295.72) scale(0.22500)" font-size="20.0" fill="#111" stroke="#111" stroke-width="0.667">Cholesterol metabolism</text>
<text transform="translate(506.00 300.60) scale(0.22500)" font-size="20.0" fill="#111" stroke="#111" stroke-width="0.667">Glycine, serine and threonine metabolism</text>
<text transform="translate(506.00 305.48) scale(0.22500)" font-size="20.0" fill="#111" stroke="#111" stroke-width="0.667">Biopterin metabolism</text>
<text transform="translate(506.00 310.36) scale(0.22500)" font-size="20.0" fill="#111" stroke="#111" stroke-width="0.667">Drug metabolism</text>
<text transform="translate(506.00 315.24) scale(0.22500)" font-size="20.0" fill="#111" stroke="#111" stroke-width="0.667">Steroid metabolism</text>
<text transform="translate(506.00 320.12) scale(0.22500)" font-size="20.0" fill="#111" stroke="#111" stroke-width="0.667">Fatty acid oxidation</text>
<text transform="translate(506.00 325.00) scale(0.22500)" font-size="20.0" fill="#111" stroke="#111" stroke-width="0.667">Valine, leucine, and isoleucine metabolism</text>
<text transform="translate(506.00 329.88) scale(0.22500)" font-size="20.0" fill="#111" stroke="#111" stroke-width="0.667">Bile acid biosynthesis</text>
<text transform="translate(506.00 334.76) scale(0.22500)" font-size="20.0" fill="#111" stroke="#111" stroke-width="0.667">Carnitine shuttle (cytosolic)</text>
<text transform="translate(506.00 339.64) scale(0.22500)" font-size="20.0" fill="#111" stroke="#111" stroke-width="0.667">Carnitine shuttle (mitochondrial)</text>
<text transform="translate(506.00 344.52) scale(0.22500)" font-size="20.0" fill="#111" stroke="#111" stroke-width="0.667">Formation and hydrolysis of cholesterol esters</text>
<text transform="translate(506.00 349.40) scale(0.22500)" font-size="20.0" fill="#111" stroke="#111" stroke-width="0.667">Beta oxidation of odd-chain fatty acids (mitochondrial)</text>
<text transform="translate(506.00 354.28) scale(0.22500)" font-size="20.0" fill="#111" stroke="#111" stroke-width="0.667">Beta oxidation of even-chain fatty acids (mitochondrial)</text>
<text transform="translate(506.00 359.16) scale(0.22500)" font-size="20.0" fill="#111" stroke="#111" stroke-width="0.667">Beta oxidation of unsaturated fatty acids (n-9) (mitochondrial)</text>
<text transform="translate(506.00 364.04) scale(0.22500)" font-size="20.0" fill="#111" stroke="#111" stroke-width="0.667">Keratan sulfate degradation</text>
<text transform="translate(506.00 368.92) scale(0.22500)" font-size="20.0" fill="#111" stroke="#111" stroke-width="0.667">Beta oxidation of even-chain fatty acids (peroxisomal)</text>
<text transform="translate(506.00 373.80) scale(0.22500)" font-size="20.0" fill="#111" stroke="#111" stroke-width="0.667">Beta oxidation of unsaturated fatty acids (n-9) (peroxisomal)</text>
<text transform="translate(294.77 378.30) rotate(-45) scale(0.19750)" font-size="20.0" text-anchor="end" fill="#111" stroke="#111" stroke-width="0.342">indirectFlightMuscle</text>
<text transform="translate(301.52 378.30) rotate(-45) scale(0.19750)" font-size="20.0" text-anchor="end" fill="#111" stroke="#111" stroke-width="0.342">muscleCell</text>
<text transform="translate(308.27 378.30) rotate(-45) scale(0.19750)" font-size="20.0" text-anchor="end" fill="#111" stroke="#111" stroke-width="0.342">adultPeripheralNervousSystem</text>
<text transform="translate(315.02 378.30) rotate(-45) scale(0.19750)" font-size="20.0" text-anchor="end" fill="#111" stroke="#111" stroke-width="0.342">adultVentralNervousSystem</text>
<text transform="translate(321.77 378.30) rotate(-45) scale(0.19750)" font-size="20.0" text-anchor="end" fill="#111" stroke="#111" stroke-width="0.342">gustatoryReceptorNeuron</text>
<text transform="translate(328.52 378.30) rotate(-45) scale(0.19750)" font-size="20.0" text-anchor="end" fill="#111" stroke="#111" stroke-width="0.342">legTasteBristleChemosensoryNeuron</text>
<text transform="translate(335.27 378.30) rotate(-45) scale(0.19750)" font-size="20.0" text-anchor="end" fill="#111" stroke="#111" stroke-width="0.342">multidendriticNeuron</text>
<text transform="translate(342.02 378.30) rotate(-45) scale(0.19750)" font-size="20.0" text-anchor="end" fill="#111" stroke="#111" stroke-width="0.342">scolopidialNeuron</text>
<text transform="translate(348.77 378.30) rotate(-45) scale(0.19750)" font-size="20.0" text-anchor="end" fill="#111" stroke="#111" stroke-width="0.342">legMultidendriticNeuron</text>
<text transform="translate(355.52 378.30) rotate(-45) scale(0.19750)" font-size="20.0" text-anchor="end" fill="#111" stroke="#111" stroke-width="0.342">adultFatBody</text>
<text transform="translate(362.27 378.30) rotate(-45) scale(0.19750)" font-size="20.0" text-anchor="end" fill="#111" stroke="#111" stroke-width="0.342">adultOenocyte</text>
<text transform="translate(369.02 378.30) rotate(-45) scale(0.19750)" font-size="20.0" text-anchor="end" fill="#111" stroke="#111" stroke-width="0.342">CNSSurfaceAssociatedGlialCell</text>
<text transform="translate(375.77 378.30) rotate(-45) scale(0.19750)" font-size="20.0" text-anchor="end" fill="#111" stroke="#111" stroke-width="0.342">adultReticularNeuropilAssociatedGlialCell</text>
<text transform="translate(382.52 378.30) rotate(-45) scale(0.19750)" font-size="20.0" text-anchor="end" fill="#111" stroke="#111" stroke-width="0.342">adultGlialCell</text>
<text transform="translate(389.27 378.30) rotate(-45) scale(0.19750)" font-size="20.0" text-anchor="end" fill="#111" stroke="#111" stroke-width="0.342">cellBodyGlialCell</text>
<text transform="translate(396.02 378.30) rotate(-45) scale(0.19750)" font-size="20.0" text-anchor="end" fill="#111" stroke="#111" stroke-width="0.342">perineurialGlialSheath</text>
<text transform="translate(402.77 378.30) rotate(-45) scale(0.19750)" font-size="20.0" text-anchor="end" fill="#111" stroke="#111" stroke-width="0.342">subperineurialGlialCell</text>
<text transform="translate(409.52 378.30) rotate(-45) scale(0.19750)" font-size="20.0" text-anchor="end" fill="#111" stroke="#111" stroke-width="0.342">enteroendocrineCell</text>
<text transform="translate(416.27 378.30) rotate(-45) scale(0.19750)" font-size="20.0" text-anchor="end" fill="#111" stroke="#111" stroke-width="0.342">adultHindgut</text>
<text transform="translate(423.02 378.30) rotate(-45) scale(0.19750)" font-size="20.0" text-anchor="end" fill="#111" stroke="#111" stroke-width="0.342">TrachealCell</text>
<text transform="translate(429.77 378.30) rotate(-45) scale(0.19750)" font-size="20.0" text-anchor="end" fill="#111" stroke="#111" stroke-width="0.342">epSupportCell</text>
<text transform="translate(436.52 378.30) rotate(-45) scale(0.19750)" font-size="20.0" text-anchor="end" fill="#111" stroke="#111" stroke-width="0.342">epithelialCell</text>
<text transform="translate(443.27 378.30) rotate(-45) scale(0.19750)" font-size="20.0" text-anchor="end" fill="#111" stroke="#111" stroke-width="0.342">fascicleCell</text>
<text transform="translate(450.02 378.30) rotate(-45) scale(0.19750)" font-size="20.0" text-anchor="end" fill="#111" stroke="#111" stroke-width="0.342">femaleReproductiveSystem</text>
<text transform="translate(456.77 378.30) rotate(-45) scale(0.19750)" font-size="20.0" text-anchor="end" fill="#111" stroke="#111" stroke-width="0.342">follicleCell</text>
<text transform="translate(463.52 378.30) rotate(-45) scale(0.19750)" font-size="20.0" text-anchor="end" fill="#111" stroke="#111" stroke-width="0.342">follicleCellSt_9_</text>
<text transform="translate(470.27 378.30) rotate(-45) scale(0.19750)" font-size="20.0" text-anchor="end" fill="#111" stroke="#111" stroke-width="0.342">germlineCell</text>
<text transform="translate(477.02 378.30) rotate(-45) scale(0.19750)" font-size="20.0" text-anchor="end" fill="#111" stroke="#111" stroke-width="0.342">hemocyte</text>
<text transform="translate(483.77 378.30) rotate(-45) scale(0.19750)" font-size="20.0" text-anchor="end" fill="#111" stroke="#111" stroke-width="0.342">maleAccessoryGland</text>
<text transform="translate(490.52 378.30) rotate(-45) scale(0.19750)" font-size="20.0" text-anchor="end" fill="#111" stroke="#111" stroke-width="0.342">polarFollicleCell</text>
<text transform="translate(497.27 378.30) rotate(-45) scale(0.19750)" font-size="20.0" text-anchor="end" fill="#111" stroke="#111" stroke-width="0.342">prefollicleCell_lateFollicleCell</text>
<text transform="translate(504.02 378.30) rotate(-45) scale(0.19750)" font-size="20.0" text-anchor="end" fill="#111" stroke="#111" stroke-width="0.342">spermatocyte</text>
<line x1="258.70" y1="256.47" x2="258.70" y2="365.60" stroke="#3a3a3a" stroke-width="0.6"/>
<line x1="258.70" y1="256.47" x2="267.50" y2="256.47" stroke="#3a3a3a" stroke-width="0.6"/>
<line x1="258.70" y1="365.60" x2="260.20" y2="365.60" stroke="#3a3a3a" stroke-width="0.6"/>
<line x1="267.50" y1="215.54" x2="267.50" y2="297.39" stroke="#3a3a3a" stroke-width="0.6"/>
<line x1="267.50" y1="215.54" x2="289.00" y2="215.54" stroke="#3a3a3a" stroke-width="0.6"/>
<line x1="267.50" y1="297.39" x2="272.40" y2="297.39" stroke="#3a3a3a" stroke-width="0.6"/>
<line x1="272.40" y1="245.05" x2="272.40" y2="349.74" stroke="#3a3a3a" stroke-width="0.6"/>
<line x1="272.40" y1="245.05" x2="277.20" y2="245.05" stroke="#3a3a3a" stroke-width="0.6"/>
<line x1="272.40" y1="349.74" x2="281.50" y2="349.74" stroke="#3a3a3a" stroke-width="0.6"/>
<line x1="277.20" y1="220.42" x2="277.20" y2="269.68" stroke="#3a3a3a" stroke-width="0.6"/>
<line x1="277.20" y1="220.42" x2="289.00" y2="220.42" stroke="#3a3a3a" stroke-width="0.6"/>
<line x1="277.20" y1="269.68" x2="279.30" y2="269.68" stroke="#3a3a3a" stroke-width="0.6"/>
<line x1="279.30" y1="236.28" x2="279.30" y2="303.07" stroke="#3a3a3a" stroke-width="0.6"/>
<line x1="279.30" y1="236.28" x2="282.50" y2="236.28" stroke="#3a3a3a" stroke-width="0.6"/>
<line x1="279.30" y1="303.07" x2="280.60" y2="303.07" stroke="#3a3a3a" stroke-width="0.6"/>
<line x1="282.50" y1="225.30" x2="282.50" y2="247.26" stroke="#3a3a3a" stroke-width="0.6"/>
<line x1="282.50" y1="225.30" x2="289.00" y2="225.30" stroke="#3a3a3a" stroke-width="0.6"/>
<line x1="282.50" y1="247.26" x2="283.60" y2="247.26" stroke="#3a3a3a" stroke-width="0.6"/>
<line x1="283.60" y1="237.50" x2="283.60" y2="257.02" stroke="#3a3a3a" stroke-width="0.6"/>
<line x1="283.60" y1="237.50" x2="285.30" y2="237.50" stroke="#3a3a3a" stroke-width="0.6"/>
<line x1="283.60" y1="257.02" x2="285.00" y2="257.02" stroke="#3a3a3a" stroke-width="0.6"/>
<line x1="285.30" y1="232.62" x2="285.30" y2="242.38" stroke="#3a3a3a" stroke-width="0.6"/>
<line x1="285.30" y1="232.62" x2="286.80" y2="232.62" stroke="#3a3a3a" stroke-width="0.6"/>
<line x1="285.30" y1="242.38" x2="287.20" y2="242.38" stroke="#3a3a3a" stroke-width="0.6"/>
<line x1="286.80" y1="230.18" x2="286.80" y2="235.06" stroke="#3a3a3a" stroke-width="0.6"/>
<line x1="286.80" y1="230.18" x2="289.00" y2="230.18" stroke="#3a3a3a" stroke-width="0.6"/>
<line x1="286.80" y1="235.06" x2="289.00" y2="235.06" stroke="#3a3a3a" stroke-width="0.6"/>
<line x1="287.20" y1="239.94" x2="287.20" y2="244.82" stroke="#3a3a3a" stroke-width="0.6"/>
<line x1="287.20" y1="239.94" x2="289.00" y2="239.94" stroke="#3a3a3a" stroke-width="0.6"/>
<line x1="287.20" y1="244.82" x2="289.00" y2="244.82" stroke="#3a3a3a" stroke-width="0.6"/>
<line x1="285.00" y1="252.14" x2="285.00" y2="261.90" stroke="#3a3a3a" stroke-width="0.6"/>
<line x1="285.00" y1="252.14" x2="286.50" y2="252.14" stroke="#3a3a3a" stroke-width="0.6"/>
<line x1="285.00" y1="261.90" x2="287.00" y2="261.90" stroke="#3a3a3a" stroke-width="0.6"/>
<line x1="286.50" y1="249.70" x2="286.50" y2="254.58" stroke="#3a3a3a" stroke-width="0.6"/>
<line x1="286.50" y1="249.70" x2="289.00" y2="249.70" stroke="#3a3a3a" stroke-width="0.6"/>
<line x1="286.50" y1="254.58" x2="289.00" y2="254.58" stroke="#3a3a3a" stroke-width="0.6"/>
<line x1="287.00" y1="259.46" x2="287.00" y2="264.34" stroke="#3a3a3a" stroke-width="0.6"/>
<line x1="287.00" y1="259.46" x2="289.00" y2="259.46" stroke="#3a3a3a" stroke-width="0.6"/>
<line x1="287.00" y1="264.34" x2="289.00" y2="264.34" stroke="#3a3a3a" stroke-width="0.6"/>
<line x1="280.60" y1="285.69" x2="280.60" y2="320.46" stroke="#3a3a3a" stroke-width="0.6"/>
<line x1="280.60" y1="285.69" x2="283.20" y2="285.69" stroke="#3a3a3a" stroke-width="0.6"/>
<line x1="280.60" y1="320.46" x2="282.00" y2="320.46" stroke="#3a3a3a" stroke-width="0.6"/>
<line x1="283.20" y1="276.54" x2="283.20" y2="294.84" stroke="#3a3a3a" stroke-width="0.6"/>
<line x1="283.20" y1="276.54" x2="284.60" y2="276.54" stroke="#3a3a3a" stroke-width="0.6"/>
<line x1="283.20" y1="294.84" x2="285.50" y2="294.84" stroke="#3a3a3a" stroke-width="0.6"/>
<line x1="284.60" y1="271.66" x2="284.60" y2="281.42" stroke="#3a3a3a" stroke-width="0.6"/>
<line x1="284.60" y1="271.66" x2="286.80" y2="271.66" stroke="#3a3a3a" stroke-width="0.6"/>
<line x1="284.60" y1="281.42" x2="286.20" y2="281.42" stroke="#3a3a3a" stroke-width="0.6"/>
<line x1="286.80" y1="269.22" x2="286.80" y2="274.10" stroke="#3a3a3a" stroke-width="0.6"/>
<line x1="286.80" y1="269.22" x2="289.00" y2="269.22" stroke="#3a3a3a" stroke-width="0.6"/>
<line x1="286.80" y1="274.10" x2="289.00" y2="274.10" stroke="#3a3a3a" stroke-width="0.6"/>
<line x1="286.20" y1="278.98" x2="286.20" y2="283.86" stroke="#3a3a3a" stroke-width="0.6"/>
<line x1="286.20" y1="278.98" x2="289.00" y2="278.98" stroke="#3a3a3a" stroke-width="0.6"/>
<line x1="286.20" y1="283.86" x2="289.00" y2="283.86" stroke="#3a3a3a" stroke-width="0.6"/>
<line x1="285.50" y1="298.50" x2="285.50" y2="291.18" stroke="#3a3a3a" stroke-width="0.6"/>
<line x1="285.50" y1="298.50" x2="289.00" y2="298.50" stroke="#3a3a3a" stroke-width="0.6"/>
<line x1="285.50" y1="291.18" x2="286.80" y2="291.18" stroke="#3a3a3a" stroke-width="0.6"/>
<line x1="286.80" y1="288.74" x2="286.80" y2="293.62" stroke="#3a3a3a" stroke-width="0.6"/>
<line x1="286.80" y1="288.74" x2="289.00" y2="288.74" stroke="#3a3a3a" stroke-width="0.6"/>
<line x1="286.80" y1="293.62" x2="289.00" y2="293.62" stroke="#3a3a3a" stroke-width="0.6"/>
<line x1="282.00" y1="310.70" x2="282.00" y2="330.22" stroke="#3a3a3a" stroke-width="0.6"/>
<line x1="282.00" y1="310.70" x2="284.20" y2="310.70" stroke="#3a3a3a" stroke-width="0.6"/>
<line x1="282.00" y1="330.22" x2="284.50" y2="330.22" stroke="#3a3a3a" stroke-width="0.6"/>
<line x1="284.20" y1="305.82" x2="284.20" y2="315.58" stroke="#3a3a3a" stroke-width="0.6"/>
<line x1="284.20" y1="305.82" x2="286.50" y2="305.82" stroke="#3a3a3a" stroke-width="0.6"/>
<line x1="284.20" y1="315.58" x2="286.00" y2="315.58" stroke="#3a3a3a" stroke-width="0.6"/>
<line x1="286.50" y1="303.38" x2="286.50" y2="308.26" stroke="#3a3a3a" stroke-width="0.6"/>
<line x1="286.50" y1="303.38" x2="289.00" y2="303.38" stroke="#3a3a3a" stroke-width="0.6"/>
<line x1="286.50" y1="308.26" x2="289.00" y2="308.26" stroke="#3a3a3a" stroke-width="0.6"/>
<line x1="286.00" y1="313.14" x2="286.00" y2="318.02" stroke="#3a3a3a" stroke-width="0.6"/>
<line x1="286.00" y1="313.14" x2="289.00" y2="313.14" stroke="#3a3a3a" stroke-width="0.6"/>
<line x1="286.00" y1="318.02" x2="289.00" y2="318.02" stroke="#3a3a3a" stroke-width="0.6"/>
<line x1="284.50" y1="325.34" x2="284.50" y2="335.10" stroke="#3a3a3a" stroke-width="0.6"/>
<line x1="284.50" y1="325.34" x2="286.50" y2="325.34" stroke="#3a3a3a" stroke-width="0.6"/>
<line x1="284.50" y1="335.10" x2="286.00" y2="335.10" stroke="#3a3a3a" stroke-width="0.6"/>
<line x1="286.50" y1="322.90" x2="286.50" y2="327.78" stroke="#3a3a3a" stroke-width="0.6"/>
<line x1="286.50" y1="322.90" x2="289.00" y2="322.90" stroke="#3a3a3a" stroke-width="0.6"/>
<line x1="286.50" y1="327.78" x2="289.00" y2="327.78" stroke="#3a3a3a" stroke-width="0.6"/>
<line x1="286.00" y1="332.66" x2="286.00" y2="337.54" stroke="#3a3a3a" stroke-width="0.6"/>
<line x1="286.00" y1="332.66" x2="289.00" y2="332.66" stroke="#3a3a3a" stroke-width="0.6"/>
<line x1="286.00" y1="337.54" x2="289.00" y2="337.54" stroke="#3a3a3a" stroke-width="0.6"/>
<line x1="281.50" y1="344.86" x2="281.50" y2="354.62" stroke="#3a3a3a" stroke-width="0.6"/>
<line x1="281.50" y1="344.86" x2="285.50" y2="344.86" stroke="#3a3a3a" stroke-width="0.6"/>
<line x1="281.50" y1="354.62" x2="285.80" y2="354.62" stroke="#3a3a3a" stroke-width="0.6"/>
<line x1="285.50" y1="342.42" x2="285.50" y2="347.30" stroke="#3a3a3a" stroke-width="0.6"/>
<line x1="285.50" y1="342.42" x2="289.00" y2="342.42" stroke="#3a3a3a" stroke-width="0.6"/>
<line x1="285.50" y1="347.30" x2="289.00" y2="347.30" stroke="#3a3a3a" stroke-width="0.6"/>
<line x1="285.80" y1="352.18" x2="285.80" y2="357.06" stroke="#3a3a3a" stroke-width="0.6"/>
<line x1="285.80" y1="352.18" x2="289.00" y2="352.18" stroke="#3a3a3a" stroke-width="0.6"/>
<line x1="285.80" y1="357.06" x2="289.00" y2="357.06" stroke="#3a3a3a" stroke-width="0.6"/>
<line x1="260.20" y1="361.94" x2="260.20" y2="369.26" stroke="#3a3a3a" stroke-width="0.6"/>
<line x1="260.20" y1="361.94" x2="289.00" y2="361.94" stroke="#3a3a3a" stroke-width="0.6"/>
<line x1="260.20" y1="369.26" x2="281.40" y2="369.26" stroke="#3a3a3a" stroke-width="0.6"/>
<line x1="281.40" y1="366.82" x2="281.40" y2="371.70" stroke="#3a3a3a" stroke-width="0.6"/>
<line x1="281.40" y1="366.82" x2="289.00" y2="366.82" stroke="#3a3a3a" stroke-width="0.6"/>
<line x1="281.40" y1="371.70" x2="289.00" y2="371.70" stroke="#3a3a3a" stroke-width="0.6"/>
<text transform="translate(629.50 212.40) scale(0.27000)" font-size="20.0" font-weight="bold" fill="#111" stroke="#111" stroke-width="0.556">Group</text>
<rect x="629.20" y="214.00" width="7.90" height="7.80" fill="#e0301e"/>
<text transform="translate(638.90 219.90) scale(0.26500)" font-size="20.0" fill="#111" stroke="#111" stroke-width="0.566">Muscle</text>
<rect x="629.20" y="221.77" width="7.90" height="7.80" fill="#a01b2a"/>
<text transform="translate(638.90 227.67) scale(0.26500)" font-size="20.0" fill="#111" stroke="#111" stroke-width="0.566">Neurons</text>
<rect x="629.20" y="229.54" width="7.90" height="7.80" fill="#c850b4"/>
<text transform="translate(638.90 235.44) scale(0.26500)" font-size="20.0" fill="#111" stroke="#111" stroke-width="0.566">Fat Body/Oenocyte</text>
<rect x="629.20" y="237.31" width="7.90" height="7.80" fill="#78b41e"/>
<text transform="translate(638.90 243.21) scale(0.26500)" font-size="20.0" fill="#111" stroke="#111" stroke-width="0.566">Glia</text>
<rect x="629.20" y="245.08" width="7.90" height="7.80" fill="#f5a00a"/>
<text transform="translate(638.90 250.98) scale(0.26500)" font-size="20.0" fill="#111" stroke="#111" stroke-width="0.566">Gut</text>
<rect x="629.20" y="252.85" width="7.90" height="7.80" fill="#dcdcdc"/>
<text transform="translate(638.90 258.75) scale(0.26500)" font-size="20.0" fill="#111" stroke="#111" stroke-width="0.566">Other</text>
<defs><linearGradient id="cb" x1="0" y1="0" x2="0" y2="1"><stop offset="0" stop-color="#fde64a"/><stop offset="0.25" stop-color="#b8aa6e"/><stop offset="0.5" stop-color="#7c7a7c"/><stop offset="0.75" stop-color="#4a5078"/><stop offset="1" stop-color="#1a2a6e"/></linearGradient></defs>
<rect x="631.00" y="270.80" width="3.20" height="45.10" fill="url(#cb)"/>
<line x1="631.00" y1="271.60" x2="631.70" y2="271.60" stroke="#fff" stroke-width="0.3"/>
<line x1="633.50" y1="271.60" x2="634.20" y2="271.60" stroke="#fff" stroke-width="0.3"/>
<text transform="translate(635.30 272.95) scale(0.19000)" font-size="20.0" fill="#111" stroke="#111" stroke-width="0.355">100</text>
<line x1="631.00" y1="282.80" x2="631.70" y2="282.80" stroke="#fff" stroke-width="0.3"/>
<line x1="633.50" y1="282.80" x2="634.20" y2="282.80" stroke="#fff" stroke-width="0.3"/>
<text transform="translate(635.30 284.15) scale(0.19000)" font-size="20.0" fill="#111" stroke="#111" stroke-width="0.355">50</text>
<line x1="631.00" y1="294.00" x2="631.70" y2="294.00" stroke="#fff" stroke-width="0.3"/>
<line x1="633.50" y1="294.00" x2="634.20" y2="294.00" stroke="#fff" stroke-width="0.3"/>
<text transform="translate(635.30 295.35) scale(0.19000)" font-size="20.0" fill="#111" stroke="#111" stroke-width="0.355">0</text>
<line x1="631.00" y1="305.20" x2="631.70" y2="305.20" stroke="#fff" stroke-width="0.3"/>
<line x1="633.50" y1="305.20" x2="634.20" y2="305.20" stroke="#fff" stroke-width="0.3"/>
<text transform="translate(635.30 306.55) scale(0.19000)" font-size="20.0" fill="#111" stroke="#111" stroke-width="0.355">-50</text>
<line x1="631.00" y1="316.40" x2="631.70" y2="316.40" stroke="#fff" stroke-width="0.3"/>
<line x1="633.50" y1="316.40" x2="634.20" y2="316.40" stroke="#fff" stroke-width="0.3"/>
<text transform="translate(635.30 317.75) scale(0.19000)" font-size="20.0" fill="#111" stroke="#111" stroke-width="0.355">-100</text>
</svg>
</body></html>
